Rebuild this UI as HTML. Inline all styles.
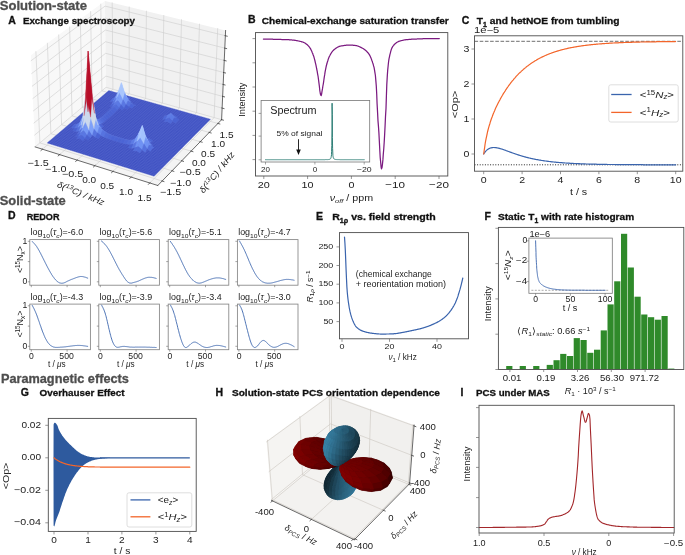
<!DOCTYPE html><html><head><meta charset="utf-8"><style>html,body{margin:0;padding:0;background:#fff;width:685px;height:555px;overflow:hidden;}svg{display:block;will-change:transform;}</style></head><body><svg width="685" height="555" viewBox="0 0 685 555"><path d="M35.1,146.9 L157.8,185.5 L221.6,119.7 L106,87.3Z" fill="#f4f4f4" stroke="none" stroke-width="0" />
<path d="M35.1,146.9 L106,87.3 L105,1 L30.9,55.3Z" fill="#f8f8f8" stroke="none" stroke-width="0" />
<path d="M106,87.3 L221.6,119.7 L225.6,30.4 L105,1Z" fill="#f1f1f1" stroke="none" stroke-width="0" />
<path d="M42.4,149.2 L112.9,89.3 L112.2,2.8" fill="none" stroke="#cdcdcd" stroke-width="0.6" stroke-linejoin="round" stroke-linecap="round" />
<path d="M59.6,154.6 L129.2,93.8 L129.2,6.9" fill="none" stroke="#cdcdcd" stroke-width="0.6" stroke-linejoin="round" stroke-linecap="round" />
<path d="M77.1,160.1 L145.7,98.5 L146.4,11.1" fill="none" stroke="#cdcdcd" stroke-width="0.6" stroke-linejoin="round" stroke-linecap="round" />
<path d="M94.9,165.7 L162.5,103.1 L163.8,15.4" fill="none" stroke="#cdcdcd" stroke-width="0.6" stroke-linejoin="round" stroke-linecap="round" />
<path d="M112.9,171.4 L179.4,107.9 L181.5,19.7" fill="none" stroke="#cdcdcd" stroke-width="0.6" stroke-linejoin="round" stroke-linecap="round" />
<path d="M131.2,177.1 L196.6,112.7 L199.5,24.1" fill="none" stroke="#cdcdcd" stroke-width="0.6" stroke-linejoin="round" stroke-linecap="round" />
<path d="M149.8,183 L214.1,117.6 L217.7,28.5" fill="none" stroke="#cdcdcd" stroke-width="0.6" stroke-linejoin="round" stroke-linecap="round" />
<path d="M162.1,181 L39.9,142.9 L35.9,51.6" fill="none" stroke="#cdcdcd" stroke-width="0.6" stroke-linejoin="round" stroke-linecap="round" />
<path d="M172.1,170.8 L50.9,133.7 L47.4,43.2" fill="none" stroke="#cdcdcd" stroke-width="0.6" stroke-linejoin="round" stroke-linecap="round" />
<path d="M181.7,160.8 L61.6,124.7 L58.7,34.9" fill="none" stroke="#cdcdcd" stroke-width="0.6" stroke-linejoin="round" stroke-linecap="round" />
<path d="M191.1,151.1 L72.1,115.9 L69.6,26.9" fill="none" stroke="#cdcdcd" stroke-width="0.6" stroke-linejoin="round" stroke-linecap="round" />
<path d="M200.3,141.7 L82.3,107.3 L80.3,19.1" fill="none" stroke="#cdcdcd" stroke-width="0.6" stroke-linejoin="round" stroke-linecap="round" />
<path d="M209.3,132.5 L92.2,98.9 L90.6,11.5" fill="none" stroke="#cdcdcd" stroke-width="0.6" stroke-linejoin="round" stroke-linecap="round" />
<path d="M218,123.5 L101.9,90.8 L100.8,4.1" fill="none" stroke="#cdcdcd" stroke-width="0.6" stroke-linejoin="round" stroke-linecap="round" />
<path d="M35.1,146.9 L106,87.3 L221.6,119.7" fill="none" stroke="#cdcdcd" stroke-width="0.6" stroke-linejoin="round" stroke-linecap="round" />
<path d="M34.6,135.1 L105.9,76.1 L222.1,108.1" fill="none" stroke="#cdcdcd" stroke-width="0.6" stroke-linejoin="round" stroke-linecap="round" />
<path d="M34,123 L105.8,64.8 L222.7,96.4" fill="none" stroke="#cdcdcd" stroke-width="0.6" stroke-linejoin="round" stroke-linecap="round" />
<path d="M33.4,110.9 L105.6,53.3 L223.2,84.5" fill="none" stroke="#cdcdcd" stroke-width="0.6" stroke-linejoin="round" stroke-linecap="round" />
<path d="M32.9,98.5 L105.5,41.7 L223.7,72.5" fill="none" stroke="#cdcdcd" stroke-width="0.6" stroke-linejoin="round" stroke-linecap="round" />
<path d="M32.3,86.1 L105.4,30 L224.2,60.4" fill="none" stroke="#cdcdcd" stroke-width="0.6" stroke-linejoin="round" stroke-linecap="round" />
<path d="M31.7,73.5 L105.2,18.1 L224.8,48.1" fill="none" stroke="#cdcdcd" stroke-width="0.6" stroke-linejoin="round" stroke-linecap="round" />
<path d="M31.1,60.7 L105.1,6.1 L225.3,35.7" fill="none" stroke="#cdcdcd" stroke-width="0.6" stroke-linejoin="round" stroke-linecap="round" />
<path d="M47.1,143 L154.1,176.3 L210.5,119.2 L108.8,90.6Z" fill="#3d4fc1" stroke="none" stroke-width="0" />
<line x1="47.1" y1="143" x2="108.8" y2="90.6" stroke="#5e6ed2" stroke-width="0.35" />
<line x1="47.1" y1="143" x2="154.1" y2="176.3" stroke="#5e6ed2" stroke-width="0.35" />
<line x1="49.2" y1="143.6" x2="110.8" y2="91.2" stroke="#5e6ed2" stroke-width="0.35" />
<line x1="48.4" y1="141.8" x2="155.4" y2="175" stroke="#5e6ed2" stroke-width="0.35" />
<line x1="51.3" y1="144.3" x2="112.8" y2="91.8" stroke="#5e6ed2" stroke-width="0.35" />
<line x1="49.8" y1="140.7" x2="156.6" y2="173.8" stroke="#5e6ed2" stroke-width="0.35" />
<line x1="53.4" y1="144.9" x2="114.8" y2="92.3" stroke="#5e6ed2" stroke-width="0.35" />
<line x1="51.1" y1="139.5" x2="157.9" y2="172.5" stroke="#5e6ed2" stroke-width="0.35" />
<line x1="55.5" y1="145.6" x2="116.8" y2="92.9" stroke="#5e6ed2" stroke-width="0.35" />
<line x1="52.5" y1="138.4" x2="159.1" y2="171.3" stroke="#5e6ed2" stroke-width="0.35" />
<line x1="57.6" y1="146.2" x2="118.8" y2="93.4" stroke="#5e6ed2" stroke-width="0.35" />
<line x1="53.8" y1="137.3" x2="160.3" y2="170" stroke="#5e6ed2" stroke-width="0.35" />
<line x1="59.7" y1="146.9" x2="120.8" y2="94" stroke="#5e6ed2" stroke-width="0.35" />
<line x1="55.2" y1="136.1" x2="161.5" y2="168.8" stroke="#5e6ed2" stroke-width="0.35" />
<line x1="61.8" y1="147.6" x2="122.9" y2="94.6" stroke="#5e6ed2" stroke-width="0.35" />
<line x1="56.5" y1="135" x2="162.7" y2="167.6" stroke="#5e6ed2" stroke-width="0.35" />
<line x1="63.9" y1="148.2" x2="124.9" y2="95.1" stroke="#5e6ed2" stroke-width="0.35" />
<line x1="57.8" y1="133.9" x2="164" y2="166.3" stroke="#5e6ed2" stroke-width="0.35" />
<line x1="66" y1="148.9" x2="126.9" y2="95.7" stroke="#5e6ed2" stroke-width="0.35" />
<line x1="59.1" y1="132.8" x2="165.2" y2="165.1" stroke="#5e6ed2" stroke-width="0.35" />
<line x1="68.2" y1="149.5" x2="128.9" y2="96.3" stroke="#5e6ed2" stroke-width="0.35" />
<line x1="60.5" y1="131.7" x2="166.4" y2="163.9" stroke="#5e6ed2" stroke-width="0.35" />
<line x1="70.3" y1="150.2" x2="130.9" y2="96.8" stroke="#5e6ed2" stroke-width="0.35" />
<line x1="61.8" y1="130.5" x2="167.6" y2="162.7" stroke="#5e6ed2" stroke-width="0.35" />
<line x1="72.4" y1="150.9" x2="133" y2="97.4" stroke="#5e6ed2" stroke-width="0.35" />
<line x1="63.1" y1="129.4" x2="168.8" y2="161.4" stroke="#5e6ed2" stroke-width="0.35" />
<line x1="74.6" y1="151.5" x2="135" y2="98" stroke="#5e6ed2" stroke-width="0.35" />
<line x1="64.4" y1="128.3" x2="170" y2="160.2" stroke="#5e6ed2" stroke-width="0.35" />
<line x1="76.7" y1="152.2" x2="137" y2="98.6" stroke="#5e6ed2" stroke-width="0.35" />
<line x1="65.7" y1="127.2" x2="171.2" y2="159" stroke="#5e6ed2" stroke-width="0.35" />
<line x1="78.8" y1="152.9" x2="139.1" y2="99.1" stroke="#5e6ed2" stroke-width="0.35" />
<line x1="67" y1="126.1" x2="172.3" y2="157.8" stroke="#5e6ed2" stroke-width="0.35" />
<line x1="81" y1="153.5" x2="141.1" y2="99.7" stroke="#5e6ed2" stroke-width="0.35" />
<line x1="68.3" y1="125" x2="173.5" y2="156.6" stroke="#5e6ed2" stroke-width="0.35" />
<line x1="83.1" y1="154.2" x2="143.2" y2="100.3" stroke="#5e6ed2" stroke-width="0.35" />
<line x1="69.6" y1="123.9" x2="174.7" y2="155.4" stroke="#5e6ed2" stroke-width="0.35" />
<line x1="85.3" y1="154.9" x2="145.2" y2="100.9" stroke="#5e6ed2" stroke-width="0.35" />
<line x1="70.9" y1="122.8" x2="175.9" y2="154.3" stroke="#5e6ed2" stroke-width="0.35" />
<line x1="87.5" y1="155.5" x2="147.3" y2="101.4" stroke="#5e6ed2" stroke-width="0.35" />
<line x1="72.1" y1="121.8" x2="177" y2="153.1" stroke="#5e6ed2" stroke-width="0.35" />
<line x1="89.6" y1="156.2" x2="149.3" y2="102" stroke="#5e6ed2" stroke-width="0.35" />
<line x1="73.4" y1="120.7" x2="178.2" y2="151.9" stroke="#5e6ed2" stroke-width="0.35" />
<line x1="91.8" y1="156.9" x2="151.4" y2="102.6" stroke="#5e6ed2" stroke-width="0.35" />
<line x1="74.7" y1="119.6" x2="179.4" y2="150.7" stroke="#5e6ed2" stroke-width="0.35" />
<line x1="94" y1="157.6" x2="153.4" y2="103.2" stroke="#5e6ed2" stroke-width="0.35" />
<line x1="76" y1="118.5" x2="180.5" y2="149.5" stroke="#5e6ed2" stroke-width="0.35" />
<line x1="96.1" y1="158.2" x2="155.5" y2="103.7" stroke="#5e6ed2" stroke-width="0.35" />
<line x1="77.2" y1="117.4" x2="181.7" y2="148.4" stroke="#5e6ed2" stroke-width="0.35" />
<line x1="98.3" y1="158.9" x2="157.6" y2="104.3" stroke="#5e6ed2" stroke-width="0.35" />
<line x1="78.5" y1="116.4" x2="182.8" y2="147.2" stroke="#5e6ed2" stroke-width="0.35" />
<line x1="100.5" y1="159.6" x2="159.6" y2="104.9" stroke="#5e6ed2" stroke-width="0.35" />
<line x1="79.7" y1="115.3" x2="184" y2="146" stroke="#5e6ed2" stroke-width="0.35" />
<line x1="102.7" y1="160.3" x2="161.7" y2="105.5" stroke="#5e6ed2" stroke-width="0.35" />
<line x1="81" y1="114.2" x2="185.1" y2="144.9" stroke="#5e6ed2" stroke-width="0.35" />
<line x1="104.9" y1="161" x2="163.8" y2="106.1" stroke="#5e6ed2" stroke-width="0.35" />
<line x1="82.2" y1="113.2" x2="186.3" y2="143.7" stroke="#5e6ed2" stroke-width="0.35" />
<line x1="107.1" y1="161.6" x2="165.9" y2="106.7" stroke="#5e6ed2" stroke-width="0.35" />
<line x1="83.5" y1="112.1" x2="187.4" y2="142.6" stroke="#5e6ed2" stroke-width="0.35" />
<line x1="109.3" y1="162.3" x2="168" y2="107.3" stroke="#5e6ed2" stroke-width="0.35" />
<line x1="84.7" y1="111.1" x2="188.5" y2="141.4" stroke="#5e6ed2" stroke-width="0.35" />
<line x1="111.5" y1="163" x2="170.1" y2="107.8" stroke="#5e6ed2" stroke-width="0.35" />
<line x1="86" y1="110" x2="189.7" y2="140.3" stroke="#5e6ed2" stroke-width="0.35" />
<line x1="113.7" y1="163.7" x2="172.2" y2="108.4" stroke="#5e6ed2" stroke-width="0.35" />
<line x1="87.2" y1="109" x2="190.8" y2="139.1" stroke="#5e6ed2" stroke-width="0.35" />
<line x1="115.9" y1="164.4" x2="174.3" y2="109" stroke="#5e6ed2" stroke-width="0.35" />
<line x1="88.4" y1="107.9" x2="191.9" y2="138" stroke="#5e6ed2" stroke-width="0.35" />
<line x1="118.1" y1="165.1" x2="176.4" y2="109.6" stroke="#5e6ed2" stroke-width="0.35" />
<line x1="89.7" y1="106.9" x2="193" y2="136.9" stroke="#5e6ed2" stroke-width="0.35" />
<line x1="120.3" y1="165.8" x2="178.5" y2="110.2" stroke="#5e6ed2" stroke-width="0.35" />
<line x1="90.9" y1="105.8" x2="194.2" y2="135.7" stroke="#5e6ed2" stroke-width="0.35" />
<line x1="122.6" y1="166.4" x2="180.6" y2="110.8" stroke="#5e6ed2" stroke-width="0.35" />
<line x1="92.1" y1="104.8" x2="195.3" y2="134.6" stroke="#5e6ed2" stroke-width="0.35" />
<line x1="124.8" y1="167.1" x2="182.7" y2="111.4" stroke="#5e6ed2" stroke-width="0.35" />
<line x1="93.3" y1="103.8" x2="196.4" y2="133.5" stroke="#5e6ed2" stroke-width="0.35" />
<line x1="127" y1="167.8" x2="184.8" y2="112" stroke="#5e6ed2" stroke-width="0.35" />
<line x1="94.6" y1="102.7" x2="197.5" y2="132.4" stroke="#5e6ed2" stroke-width="0.35" />
<line x1="129.3" y1="168.5" x2="186.9" y2="112.6" stroke="#5e6ed2" stroke-width="0.35" />
<line x1="95.8" y1="101.7" x2="198.6" y2="131.2" stroke="#5e6ed2" stroke-width="0.35" />
<line x1="131.5" y1="169.2" x2="189" y2="113.2" stroke="#5e6ed2" stroke-width="0.35" />
<line x1="97" y1="100.7" x2="199.7" y2="130.1" stroke="#5e6ed2" stroke-width="0.35" />
<line x1="133.8" y1="169.9" x2="191.2" y2="113.8" stroke="#5e6ed2" stroke-width="0.35" />
<line x1="98.2" y1="99.7" x2="200.8" y2="129" stroke="#5e6ed2" stroke-width="0.35" />
<line x1="136" y1="170.6" x2="193.3" y2="114.4" stroke="#5e6ed2" stroke-width="0.35" />
<line x1="99.4" y1="98.7" x2="201.9" y2="127.9" stroke="#5e6ed2" stroke-width="0.35" />
<line x1="138.3" y1="171.3" x2="195.4" y2="115" stroke="#5e6ed2" stroke-width="0.35" />
<line x1="100.6" y1="97.6" x2="203" y2="126.8" stroke="#5e6ed2" stroke-width="0.35" />
<line x1="140.5" y1="172" x2="197.6" y2="115.6" stroke="#5e6ed2" stroke-width="0.35" />
<line x1="101.8" y1="96.6" x2="204" y2="125.7" stroke="#5e6ed2" stroke-width="0.35" />
<line x1="142.8" y1="172.7" x2="199.7" y2="116.2" stroke="#5e6ed2" stroke-width="0.35" />
<line x1="102.9" y1="95.6" x2="205.1" y2="124.6" stroke="#5e6ed2" stroke-width="0.35" />
<line x1="145" y1="173.4" x2="201.9" y2="116.8" stroke="#5e6ed2" stroke-width="0.35" />
<line x1="104.1" y1="94.6" x2="206.2" y2="123.5" stroke="#5e6ed2" stroke-width="0.35" />
<line x1="147.3" y1="174.1" x2="204" y2="117.4" stroke="#5e6ed2" stroke-width="0.35" />
<line x1="105.3" y1="93.6" x2="207.3" y2="122.4" stroke="#5e6ed2" stroke-width="0.35" />
<line x1="149.6" y1="174.8" x2="206.2" y2="118" stroke="#5e6ed2" stroke-width="0.35" />
<line x1="106.5" y1="92.6" x2="208.3" y2="121.4" stroke="#5e6ed2" stroke-width="0.35" />
<line x1="151.9" y1="175.6" x2="208.3" y2="118.6" stroke="#5e6ed2" stroke-width="0.35" />
<line x1="107.7" y1="91.6" x2="209.4" y2="120.3" stroke="#5e6ed2" stroke-width="0.35" />
<line x1="154.1" y1="176.3" x2="210.5" y2="119.2" stroke="#5e6ed2" stroke-width="0.35" />
<line x1="108.8" y1="90.6" x2="210.5" y2="119.2" stroke="#5e6ed2" stroke-width="0.35" />
<path d="M121.9,97.3 L125,96 L126.8,97 L123.7,97.2Z" fill="#516ddb" stroke="#637bdf" stroke-width="0.3" />
<path d="M117,98 L120.1,95 L121.9,97.3 L118.8,98.2Z" fill="#5572df" stroke="#6680e2" stroke-width="0.3" />
<path d="M125,96 L128.2,99.1 L129.9,99 L126.8,97Z" fill="#516ddb" stroke="#637bdf" stroke-width="0.3" />
<path d="M112.1,99.1 L115.2,97.5 L117,98 L113.9,98.6Z" fill="#516ddb" stroke="#637bdf" stroke-width="0.3" />
<path d="M120.1,95 L123.2,90.7 L125,96 L121.9,97.3Z" fill="#6f92f3" stroke="#7e9cf4" stroke-width="0.3" />
<path d="M110.3,101.7 L113.4,101.1 L115.2,97.5 L112.1,99.1Z" fill="#516ddb" stroke="#637bdf" stroke-width="0.3" />
<path d="M115.2,97.5 L118.3,91.5 L120.1,95 L117,98Z" fill="#6f92f3" stroke="#7e9cf4" stroke-width="0.3" />
<path d="M126.4,96.6 L129.5,101.5 L131.3,101.7 L128.2,99.1Z" fill="#5572df" stroke="#6680e2" stroke-width="0.3" />
<path d="M123.2,90.7 L126.4,96.6 L128.2,99.1 L125,96Z" fill="#6f92f3" stroke="#7e9cf4" stroke-width="0.3" />
<path d="M113.4,101.1 L116.5,97.6 L118.3,91.5 L115.2,97.5Z" fill="#6f92f3" stroke="#7e9cf4" stroke-width="0.3" />
<path d="M111.6,104.4 L114.7,102.9 L116.5,97.6 L113.4,101.1Z" fill="#5875e1" stroke="#6883e4" stroke-width="0.3" />
<path d="M127.7,100.3 L130.9,103.7 L132.7,103.9 L129.5,101.5Z" fill="#5572df" stroke="#6680e2" stroke-width="0.3" />
<path d="M124.6,92.6 L127.7,100.3 L129.5,101.5 L126.4,96.6Z" fill="#7295f4" stroke="#809ff5" stroke-width="0.3" />
<path d="M130.9,103.7 L134,105.7 L135.8,105.4 L132.7,103.9Z" fill="#4a63d3" stroke="#5c72d8" stroke-width="0.3" />
<path d="M118.3,91.5 L121.4,82.8 L123.2,90.7 L120.1,95Z" fill="#a3c2fe" stroke="#adc8ff" stroke-width="0.3" />
<path d="M109.8,106.6 L112.9,106 L114.7,102.9 L111.6,104.4Z" fill="#4a63d3" stroke="#5c72d8" stroke-width="0.3" />
<path d="M121.4,82.8 L124.6,92.6 L126.4,96.6 L123.2,90.7Z" fill="#a5c3fe" stroke="#aec9fe" stroke-width="0.3" />
<path d="M125.9,104.5 L129.1,106.8 L130.9,103.7 L127.7,100.3Z" fill="#5572df" stroke="#6680e2" stroke-width="0.3" />
<path d="M114.7,102.9 L117.8,100.4 L119.6,92.6 L116.5,97.6Z" fill="#779af7" stroke="#85a4f8" stroke-width="0.3" />
<path d="M122.8,99.3 L125.9,104.5 L127.7,100.3 L124.6,92.6Z" fill="#7396f5" stroke="#81a0f6" stroke-width="0.3" />
<path d="M129.1,106.8 L132.3,108.3 L134,105.7 L130.9,103.7Z" fill="#4b64d5" stroke="#5d74d9" stroke-width="0.3" />
<path d="M116.5,97.6 L119.6,92.6 L121.4,82.8 L118.3,91.5Z" fill="#a7c5fe" stroke="#b0cbfe" stroke-width="0.3" />
<path d="M112.9,106 L116,104.4 L117.8,100.4 L114.7,102.9Z" fill="#5b7ae5" stroke="#6c87e7" stroke-width="0.3" />
<path d="M121,104.7 L124.1,108 L125.9,104.5 L122.8,99.3Z" fill="#5977e3" stroke="#6984e5" stroke-width="0.3" />
<path d="M124.1,108 L127.3,109.6 L129.1,106.8 L125.9,104.5Z" fill="#485fd1" stroke="#5a6fd5" stroke-width="0.3" />
<path d="M117.8,100.4 L121,104.7 L122.8,99.3 L119.6,92.6Z" fill="#799cf8" stroke="#86a6f8" stroke-width="0.3" />
<path d="M119.6,92.6 L122.8,99.3 L124.6,92.6 L121.4,82.8Z" fill="#a9c6fd" stroke="#b1cbfe" stroke-width="0.3" />
<path d="M116,104.4 L119.2,107.8 L121,104.7 L117.8,100.4Z" fill="#5b7ae5" stroke="#6c87e7" stroke-width="0.3" />
<path d="M119.2,107.8 L122.3,110.2 L124.1,108 L121,104.7Z" fill="#4a63d3" stroke="#5c72d8" stroke-width="0.3" />
<path d="M111.1,108.2 L114.2,107.1 L116,104.4 L112.9,106Z" fill="#516ddb" stroke="#637bdf" stroke-width="0.3" />
<path d="M114.2,107.1 L117.3,110 L119.2,107.8 L116,104.4Z" fill="#516ddb" stroke="#637bdf" stroke-width="0.3" />
<path d="M109.2,110.1 L112.3,109.2 L114.2,107.1 L111.1,108.2Z" fill="#4c66d6" stroke="#5e75da" stroke-width="0.3" />
<path d="M112.3,109.2 L115.5,111.9 L117.3,110 L114.2,107.1Z" fill="#4c66d6" stroke="#5e75da" stroke-width="0.3" />
<path d="M107.4,111.9 L110.5,111 L112.3,109.2 L109.2,110.1Z" fill="#4b64d5" stroke="#5d74d9" stroke-width="0.3" />
<path d="M110.5,111 L113.7,113.7 L115.5,111.9 L112.3,109.2Z" fill="#4b64d5" stroke="#5d74d9" stroke-width="0.3" />
<path d="M105.5,113.5 L108.6,112.7 L110.5,111 L107.4,111.9Z" fill="#4a63d3" stroke="#5c72d8" stroke-width="0.3" />
<path d="M108.6,112.7 L111.8,115.4 L113.7,113.7 L110.5,111Z" fill="#4a63d3" stroke="#5c72d8" stroke-width="0.3" />
<path d="M103.6,115.2 L106.8,114.3 L108.6,112.7 L105.5,113.5Z" fill="#4a63d3" stroke="#5c72d8" stroke-width="0.3" />
<path d="M106.8,114.3 L110,117 L111.8,115.4 L108.6,112.7Z" fill="#4a63d3" stroke="#5c72d8" stroke-width="0.3" />
<path d="M101.8,116.7 L104.9,115.8 L106.8,114.3 L103.6,115.2Z" fill="#4a63d3" stroke="#5c72d8" stroke-width="0.3" />
<path d="M169.3,115.6 L172.6,115.2 L174.3,115.7 L171,115.4Z" fill="#4a63d3" stroke="#5c72d8" stroke-width="0.3" />
<path d="M164.4,116.3 L167.6,115.3 L169.3,115.6 L166.1,115.8Z" fill="#4e68d8" stroke="#5f77db" stroke-width="0.3" />
<path d="M104.9,115.8 L108.1,118.6 L110,117 L106.8,114.3Z" fill="#4a63d3" stroke="#5c72d8" stroke-width="0.3" />
<path d="M172.6,115.2 L175.9,117.7 L177.5,117.2 L174.3,115.7Z" fill="#4a63d3" stroke="#5c72d8" stroke-width="0.3" />
<path d="M99.9,118.3 L103,117.2 L104.9,115.8 L101.8,116.7Z" fill="#4b64d5" stroke="#5d74d9" stroke-width="0.3" />
<path d="M167.6,115.3 L171,113.4 L172.6,115.2 L169.3,115.6Z" fill="#5b7ae5" stroke="#6c87e7" stroke-width="0.3" />
<path d="M162.6,119.4 L165.9,119 L167.6,115.3 L164.4,116.3Z" fill="#4e68d8" stroke="#5f77db" stroke-width="0.3" />
<path d="M103,117.2 L106.2,120.1 L108.1,118.6 L104.9,115.8Z" fill="#4b64d5" stroke="#5d74d9" stroke-width="0.3" />
<path d="M171,113.4 L174.2,117.8 L175.9,117.7 L172.6,115.2Z" fill="#5a78e4" stroke="#6b86e6" stroke-width="0.3" />
<path d="M98,119.7 L101.1,118.4 L103,117.2 L99.9,118.3Z" fill="#4c66d6" stroke="#5e75da" stroke-width="0.3" />
<path d="M174.2,117.8 L177.4,120.9 L179.1,119.8 L175.9,117.7Z" fill="#4a63d3" stroke="#5c72d8" stroke-width="0.3" />
<path d="M165.9,119 L169.2,117.8 L171,113.4 L167.6,115.3Z" fill="#5d7ce6" stroke="#6d89e8" stroke-width="0.3" />
<path d="M101.1,118.4 L104.3,121.6 L106.2,120.1 L103,117.2Z" fill="#4c66d6" stroke="#5e75da" stroke-width="0.3" />
<path d="M169.2,117.8 L172.4,120.9 L174.2,117.8 L171,113.4Z" fill="#5b7ae5" stroke="#6c87e7" stroke-width="0.3" />
<path d="M164.1,121.9 L167.4,121.5 L169.2,117.8 L165.9,119Z" fill="#4e68d8" stroke="#5f77db" stroke-width="0.3" />
<path d="M172.4,120.9 L175.7,123.2 L177.4,120.9 L174.2,117.8Z" fill="#4a63d3" stroke="#5c72d8" stroke-width="0.3" />
<path d="M96.1,121 L99.2,119.3 L101.1,118.4 L98,119.7Z" fill="#506bda" stroke="#627ade" stroke-width="0.3" />
<path d="M167.4,121.5 L170.7,123.8 L172.4,120.9 L169.2,117.8Z" fill="#4e68d8" stroke="#5f77db" stroke-width="0.3" />
<path d="M99.2,119.3 L102.4,122.9 L104.3,121.6 L101.1,118.4Z" fill="#506bda" stroke="#627ade" stroke-width="0.3" />
<path d="M94.1,121.9 L97.3,119.6 L99.2,119.3 L96.1,121Z" fill="#5673e0" stroke="#6781e3" stroke-width="0.3" />
<path d="M89,123.9 L92.2,122.2 L94.1,121.9 L91,122.8Z" fill="#4b64d5" stroke="#5d74d9" stroke-width="0.3" />
<path d="M97.3,119.6 L100.5,123.8 L102.4,122.9 L99.2,119.3Z" fill="#5673e0" stroke="#6781e3" stroke-width="0.3" />
<path d="M78.8,124.8 L81.9,124.3 L83.9,124.7 L80.8,124.3Z" fill="#4961d2" stroke="#5b71d6" stroke-width="0.3" />
<path d="M92.2,122.2 L95.3,118.4 L97.3,119.6 L94.1,121.9Z" fill="#6384eb" stroke="#7390ed" stroke-width="0.3" />
<path d="M87.1,124.2 L90.2,120.5 L92.2,122.2 L89,123.9Z" fill="#5875e1" stroke="#6883e4" stroke-width="0.3" />
<path d="M73.6,124.9 L76.8,124.4 L78.8,124.8 L75.6,124.6Z" fill="#4c66d6" stroke="#5e75da" stroke-width="0.3" />
<path d="M98.6,124.1 L101.8,127.7 L103.8,126.6 L100.5,123.8Z" fill="#4b64d5" stroke="#5d74d9" stroke-width="0.3" />
<path d="M81.9,124.3 L85,121.9 L87.1,124.2 L83.9,124.7Z" fill="#5572df" stroke="#6680e2" stroke-width="0.3" />
<path d="M95.3,118.4 L98.6,124.1 L100.5,123.8 L97.3,119.6Z" fill="#6384eb" stroke="#7390ed" stroke-width="0.3" />
<path d="M76.8,124.4 L79.9,122.5 L81.9,124.3 L78.8,124.8Z" fill="#5977e3" stroke="#6984e5" stroke-width="0.3" />
<path d="M71.7,128 L74.8,128.2 L76.8,124.4 L73.6,124.9Z" fill="#4c66d6" stroke="#5e75da" stroke-width="0.3" />
<path d="M90.2,120.5 L93.2,113.1 L95.3,118.4 L92.2,122.2Z" fill="#80a3fa" stroke="#8cacfb" stroke-width="0.3" />
<path d="M96.6,122.4 L99.9,128 L101.8,127.7 L98.6,124.1Z" fill="#5875e1" stroke="#6883e4" stroke-width="0.3" />
<path d="M74.8,128.2 L78,127.7 L79.9,122.5 L76.8,124.4Z" fill="#5977e3" stroke="#6984e5" stroke-width="0.3" />
<path d="M85,121.9 L88,111.9 L90.2,120.5 L87.1,124.2Z" fill="#7da0f9" stroke="#8aaafa" stroke-width="0.3" />
<path d="M93.2,113.1 L96.6,122.4 L98.6,124.1 L95.3,118.4Z" fill="#80a3fa" stroke="#8cacfb" stroke-width="0.3" />
<path d="M79.9,122.5 L82.9,116.4 L85,121.9 L81.9,124.3Z" fill="#7699f6" stroke="#84a3f7" stroke-width="0.3" />
<path d="M72.9,131.1 L76.1,131.5 L78,127.7 L74.8,128.2Z" fill="#4961d2" stroke="#5b71d6" stroke-width="0.3" />
<path d="M78,127.7 L81.1,125.3 L82.9,116.4 L79.9,122.5Z" fill="#7699f6" stroke="#84a3f7" stroke-width="0.3" />
<path d="M97.9,125 L101.2,129.4 L103.1,130.4 L99.9,128Z" fill="#5875e1" stroke="#6883e4" stroke-width="0.3" />
<path d="M76.1,131.5 L79.2,131 L81.1,125.3 L78,127.7Z" fill="#5572df" stroke="#6680e2" stroke-width="0.3" />
<path d="M101.2,129.4 L104.4,131.8 L106.4,131.9 L103.1,130.4Z" fill="#4b64d5" stroke="#5d74d9" stroke-width="0.3" />
<path d="M94.5,113.3 L97.9,125 L99.9,128 L96.6,122.4Z" fill="#80a3fa" stroke="#8cacfb" stroke-width="0.3" />
<path d="M88,111.9 L90.9,92.5 L93.2,113.1 L90.2,120.5Z" fill="#d2dbe8" stroke="#d6deeb" stroke-width="0.3" />
<path d="M79.2,131 L82.4,127.9 L84.1,115.7 L81.1,125.3Z" fill="#7b9ff9" stroke="#89a8f9" stroke-width="0.3" />
<path d="M77.3,134.2 L80.5,133.1 L82.4,127.9 L79.2,131Z" fill="#5572df" stroke="#6680e2" stroke-width="0.3" />
<path d="M82.9,116.4 L85.7,94.5 L88,111.9 L85,121.9Z" fill="#ccd9ed" stroke="#d1ddef" stroke-width="0.3" />
<path d="M99.2,126.3 L102.5,130.1 L104.4,131.8 L101.2,129.4Z" fill="#6384eb" stroke="#7390ed" stroke-width="0.3" />
<path d="M95.8,118.3 L99.2,126.3 L101.2,129.4 L97.9,125Z" fill="#80a3fa" stroke="#8cacfb" stroke-width="0.3" />
<path d="M90.9,92.5 L94.5,113.3 L96.6,122.4 L93.2,113.1Z" fill="#d3dbe7" stroke="#d7deea" stroke-width="0.3" />
<path d="M102.5,130.1 L105.8,132.5 L107.7,133.5 L104.4,131.8Z" fill="#5673e0" stroke="#6781e3" stroke-width="0.3" />
<path d="M75.3,136.5 L78.5,136.3 L80.5,133.1 L77.3,134.2Z" fill="#4961d2" stroke="#5b71d6" stroke-width="0.3" />
<path d="M105.8,132.5 L109,134.3 L111,134.8 L107.7,133.5Z" fill="#506bda" stroke="#627ade" stroke-width="0.3" />
<path d="M81.1,125.3 L84.1,115.7 L85.7,94.5 L82.9,116.4Z" fill="#cbd8ee" stroke="#d0dcf0" stroke-width="0.3" />
<path d="M97.3,132.8 L100.6,135.2 L102.5,130.1 L99.2,126.3Z" fill="#6384eb" stroke="#7390ed" stroke-width="0.3" />
<path d="M109,134.3 L112.3,135.7 L114.2,136 L111,134.8Z" fill="#4e68d8" stroke="#5f77db" stroke-width="0.3" />
<path d="M92.1,134.9 L95.4,137.3 L97.3,132.8 L94,128.5Z" fill="#5875e1" stroke="#6883e4" stroke-width="0.3" />
<path d="M94,128.5 L97.3,132.8 L99.2,126.3 L95.8,118.3Z" fill="#80a3fa" stroke="#8cacfb" stroke-width="0.3" />
<path d="M80.5,133.1 L83.6,130.5 L85.4,121.7 L82.4,127.9Z" fill="#7699f6" stroke="#84a3f7" stroke-width="0.3" />
<path d="M100.6,135.2 L103.9,136.9 L105.8,132.5 L102.5,130.1Z" fill="#5673e0" stroke="#6781e3" stroke-width="0.3" />
<path d="M95.4,137.3 L98.7,138.8 L100.6,135.2 L97.3,132.8Z" fill="#4b64d5" stroke="#5d74d9" stroke-width="0.3" />
<path d="M78.5,136.3 L81.7,135.1 L83.6,130.5 L80.5,133.1Z" fill="#5977e3" stroke="#6984e5" stroke-width="0.3" />
<path d="M86.9,135 L90.2,138.1 L92.1,134.9 L88.8,129.8Z" fill="#5572df" stroke="#6680e2" stroke-width="0.3" />
<path d="M88.8,129.8 L92.1,134.9 L94,128.5 L90.6,117.2Z" fill="#7da0f9" stroke="#8aaafa" stroke-width="0.3" />
<path d="M112.3,135.7 L115.6,136.9 L117.5,137.1 L114.2,136Z" fill="#4b64d5" stroke="#5d74d9" stroke-width="0.3" />
<path d="M103.9,136.9 L107.1,138.3 L109,134.3 L105.8,132.5Z" fill="#506bda" stroke="#627ade" stroke-width="0.3" />
<path d="M92.2,95.1 L95.8,118.3 L97.9,125 L94.5,113.3Z" fill="#d3dbe7" stroke="#d7deea" stroke-width="0.3" />
<path d="M83.6,130.5 L86.9,135 L88.8,129.8 L85.4,121.7Z" fill="#7699f6" stroke="#84a3f7" stroke-width="0.3" />
<path d="M81.7,135.1 L85,138.2 L86.9,135 L83.6,130.5Z" fill="#5977e3" stroke="#6984e5" stroke-width="0.3" />
<path d="M107.1,138.3 L110.4,139.5 L112.3,135.7 L109,134.3Z" fill="#4e68d8" stroke="#5f77db" stroke-width="0.3" />
<path d="M76.5,138.7 L79.7,138.3 L81.7,135.1 L78.5,136.3Z" fill="#4c66d6" stroke="#5e75da" stroke-width="0.3" />
<path d="M85,138.2 L88.2,140.4 L90.2,138.1 L86.9,135Z" fill="#4961d2" stroke="#5b71d6" stroke-width="0.3" />
<path d="M115.6,136.9 L118.9,138 L120.8,138.1 L117.5,137.1Z" fill="#4b64d5" stroke="#5d74d9" stroke-width="0.3" />
<path d="M82.4,127.9 L85.4,121.7 L86.9,97.1 L84.1,115.7Z" fill="#cbd8ee" stroke="#d0dcf0" stroke-width="0.3" />
<path d="M110.4,139.5 L113.7,140.6 L115.6,136.9 L112.3,135.7Z" fill="#4b64d5" stroke="#5d74d9" stroke-width="0.3" />
<path d="M79.7,138.3 L83,140.7 L85,138.2 L81.7,135.1Z" fill="#4c66d6" stroke="#5e75da" stroke-width="0.3" />
<path d="M118.9,138 L122.2,138.9 L124.1,139.1 L120.8,138.1Z" fill="#4a63d3" stroke="#5c72d8" stroke-width="0.3" />
<path d="M90.6,117.2 L94,128.5 L95.8,118.3 L92.2,95.1Z" fill="#d2dbe8" stroke="#d6deeb" stroke-width="0.3" />
<path d="M85.4,121.7 L88.8,129.8 L90.6,117.2 L86.9,97.1Z" fill="#ccd9ed" stroke="#d1ddef" stroke-width="0.3" />
<path d="M144.4,140.1 L147.7,139.2 L149.6,138.6 L146.2,139Z" fill="#4a63d3" stroke="#5c72d8" stroke-width="0.3" />
<path d="M113.7,140.6 L117,141.6 L118.9,138 L115.6,136.9Z" fill="#4b64d5" stroke="#5d74d9" stroke-width="0.3" />
<path d="M122.2,138.9 L125.5,139.7 L127.4,139.9 L124.1,139.1Z" fill="#4b64d5" stroke="#5d74d9" stroke-width="0.3" />
<path d="M147.7,139.2 L151.1,142.1 L152.9,141 L149.6,138.6Z" fill="#4a63d3" stroke="#5c72d8" stroke-width="0.3" />
<path d="M117,141.6 L120.3,142.6 L122.2,138.9 L118.9,138Z" fill="#4a63d3" stroke="#5c72d8" stroke-width="0.3" />
<path d="M125.5,139.7 L128.8,140.3 L130.7,140.6 L127.4,139.9Z" fill="#4e68d8" stroke="#5f77db" stroke-width="0.3" />
<path d="M134,141 L137.3,140.5 L139.2,141.1 L135.9,140.8Z" fill="#4a63d3" stroke="#5c72d8" stroke-width="0.3" />
<path d="M120.3,142.6 L123.6,143.4 L125.5,139.7 L122.2,138.9Z" fill="#4b64d5" stroke="#5d74d9" stroke-width="0.3" />
<path d="M142.5,140.3 L145.9,138.4 L147.7,139.2 L144.4,140.1Z" fill="#5572df" stroke="#6680e2" stroke-width="0.3" />
<path d="M128.8,140.3 L132.1,140.2 L134,141 L130.7,140.6Z" fill="#516ddb" stroke="#637bdf" stroke-width="0.3" />
<path d="M137.3,140.5 L140.7,137.5 L142.5,140.3 L139.2,141.1Z" fill="#5875e1" stroke="#6883e4" stroke-width="0.3" />
<path d="M123.6,143.4 L126.9,144.1 L128.8,140.3 L125.5,139.7Z" fill="#4e68d8" stroke="#5f77db" stroke-width="0.3" />
<path d="M145.9,138.4 L149.2,142.3 L151.1,142.1 L147.7,139.2Z" fill="#5572df" stroke="#6680e2" stroke-width="0.3" />
<path d="M85.7,94.5 L88.1,51.1 L90.9,92.5 L88,111.9Z" fill="#b70d28" stroke="#be253e" stroke-width="0.3" />
<path d="M132.1,140.2 L135.5,138.7 L137.3,140.5 L134,141Z" fill="#5d7ce6" stroke="#6d89e8" stroke-width="0.3" />
<path d="M126.9,144.1 L130.2,144.5 L132.1,140.2 L128.8,140.3Z" fill="#516ddb" stroke="#637bdf" stroke-width="0.3" />
<path d="M88.1,51.1 L92.2,95.1 L94.5,113.3 L90.9,92.5Z" fill="#b40426" stroke="#bb1d3c" stroke-width="0.3" />
<path d="M84.1,115.7 L86.9,97.1 L88.1,51.1 L85.7,94.5Z" fill="#ba162b" stroke="#c12d40" stroke-width="0.3" />
<path d="M140.7,137.5 L144.1,133.1 L145.9,138.4 L142.5,140.3Z" fill="#7396f5" stroke="#81a0f6" stroke-width="0.3" />
<path d="M130.2,144.5 L133.6,144 L135.5,138.7 L132.1,140.2Z" fill="#5d7ce6" stroke="#6d89e8" stroke-width="0.3" />
<path d="M147.4,140 L150.8,145.2 L152.6,145.2 L149.2,142.3Z" fill="#5673e0" stroke="#6781e3" stroke-width="0.3" />
<path d="M144.1,133.1 L147.4,140 L149.2,142.3 L145.9,138.4Z" fill="#7295f4" stroke="#809ff5" stroke-width="0.3" />
<path d="M135.5,138.7 L138.9,133.2 L140.7,137.5 L137.3,140.5Z" fill="#799cf8" stroke="#86a6f8" stroke-width="0.3" />
<path d="M86.9,97.1 L90.6,117.2 L92.2,95.1 L88.1,51.1Z" fill="#b70d28" stroke="#be253e" stroke-width="0.3" />
<path d="M128.4,147.9 L131.7,148.3 L133.6,144 L130.2,144.5Z" fill="#4a63d3" stroke="#5c72d8" stroke-width="0.3" />
<path d="M133.6,144 L137,141.2 L138.9,133.2 L135.5,138.7Z" fill="#779af7" stroke="#85a4f8" stroke-width="0.3" />
<path d="M131.7,148.3 L135.1,147.5 L137,141.2 L133.6,144Z" fill="#5875e1" stroke="#6883e4" stroke-width="0.3" />
<path d="M148.9,144.7 L152.3,148.3 L154.1,147.7 L150.8,145.2Z" fill="#536edd" stroke="#647de0" stroke-width="0.3" />
<path d="M145.6,136.5 L148.9,144.7 L150.8,145.2 L147.4,140Z" fill="#6f92f3" stroke="#7e9cf4" stroke-width="0.3" />
<path d="M138.9,133.2 L142.3,125.6 L144.1,133.1 L140.7,137.5Z" fill="#a9c6fd" stroke="#b1cbfe" stroke-width="0.3" />
<path d="M142.3,125.6 L145.6,136.5 L147.4,140 L144.1,133.1Z" fill="#a6c4fe" stroke="#afcafe" stroke-width="0.3" />
<path d="M147,148.8 L150.4,151.3 L152.3,148.3 L148.9,144.7Z" fill="#536edd" stroke="#647de0" stroke-width="0.3" />
<path d="M135.1,147.5 L138.4,146.4 L140.3,137.4 L137,141.2Z" fill="#6f92f3" stroke="#7e9cf4" stroke-width="0.3" />
<path d="M143.7,143.6 L147,148.8 L148.9,144.7 L145.6,136.5Z" fill="#6f92f3" stroke="#7e9cf4" stroke-width="0.3" />
<path d="M133.2,150.9 L136.5,150.8 L138.4,146.4 L135.1,147.5Z" fill="#516ddb" stroke="#637bdf" stroke-width="0.3" />
<path d="M137,141.2 L140.3,137.4 L142.3,125.6 L138.9,133.2Z" fill="#a7c5fe" stroke="#b0cbfe" stroke-width="0.3" />
<path d="M141.8,149.6 L145.2,152.4 L147,148.8 L143.7,143.6Z" fill="#5572df" stroke="#6680e2" stroke-width="0.3" />
<path d="M138.4,146.4 L141.8,149.6 L143.7,143.6 L140.3,137.4Z" fill="#6f92f3" stroke="#7e9cf4" stroke-width="0.3" />
<path d="M136.5,150.8 L139.9,153 L141.8,149.6 L138.4,146.4Z" fill="#516ddb" stroke="#637bdf" stroke-width="0.3" />
<path d="M140.3,137.4 L143.7,143.6 L145.6,136.5 L142.3,125.6Z" fill="#a3c2fe" stroke="#adc8ff" stroke-width="0.3" />
<path d="M35.1,146.9 L157.8,185.5" fill="none" stroke="#3a3a3a" stroke-width="0.75" stroke-linejoin="round" stroke-linecap="round" />
<path d="M157.8,185.5 L221.6,119.7" fill="none" stroke="#3a3a3a" stroke-width="0.75" stroke-linejoin="round" stroke-linecap="round" />
<path d="M221.6,119.7 L225.6,30.4" fill="none" stroke="#3a3a3a" stroke-width="0.75" stroke-linejoin="round" stroke-linecap="round" />
<line x1="42.9" y1="148.8" x2="40.6" y2="150.8" stroke="#3a3a3a" stroke-width="0.75" />
<line x1="60.2" y1="154.2" x2="57.8" y2="156.2" stroke="#3a3a3a" stroke-width="0.75" />
<line x1="77.7" y1="159.7" x2="75.3" y2="161.7" stroke="#3a3a3a" stroke-width="0.75" />
<line x1="95.4" y1="165.2" x2="93.1" y2="167.3" stroke="#3a3a3a" stroke-width="0.75" />
<line x1="113.4" y1="170.9" x2="111.2" y2="173" stroke="#3a3a3a" stroke-width="0.75" />
<line x1="131.7" y1="176.6" x2="129.5" y2="178.8" stroke="#3a3a3a" stroke-width="0.75" />
<line x1="150.3" y1="182.4" x2="148.1" y2="184.7" stroke="#3a3a3a" stroke-width="0.75" />
<line x1="161.4" y1="180.8" x2="164.4" y2="181.7" stroke="#3a3a3a" stroke-width="0.75" />
<line x1="171.4" y1="170.6" x2="174.3" y2="171.5" stroke="#3a3a3a" stroke-width="0.75" />
<line x1="181" y1="160.6" x2="184" y2="161.5" stroke="#3a3a3a" stroke-width="0.75" />
<line x1="190.4" y1="150.9" x2="193.4" y2="151.8" stroke="#3a3a3a" stroke-width="0.75" />
<line x1="199.6" y1="141.5" x2="202.6" y2="142.3" stroke="#3a3a3a" stroke-width="0.75" />
<line x1="208.6" y1="132.3" x2="211.6" y2="133.1" stroke="#3a3a3a" stroke-width="0.75" />
<line x1="217.3" y1="123.3" x2="220.3" y2="124.1" stroke="#3a3a3a" stroke-width="0.75" />
<line x1="220.9" y1="119.5" x2="223.9" y2="120.3" stroke="#3a3a3a" stroke-width="0.75" />
<line x1="221.4" y1="107.9" x2="224.5" y2="108.7" stroke="#3a3a3a" stroke-width="0.75" />
<line x1="222" y1="96.2" x2="225" y2="97" stroke="#3a3a3a" stroke-width="0.75" />
<line x1="222.5" y1="84.3" x2="225.5" y2="85.1" stroke="#3a3a3a" stroke-width="0.75" />
<line x1="223" y1="72.4" x2="226" y2="73.1" stroke="#3a3a3a" stroke-width="0.75" />
<line x1="223.5" y1="60.2" x2="226.6" y2="61" stroke="#3a3a3a" stroke-width="0.75" />
<line x1="224.1" y1="48" x2="227.1" y2="48.7" stroke="#3a3a3a" stroke-width="0.75" />
<line x1="224.6" y1="35.6" x2="227.7" y2="36.3" stroke="#3a3a3a" stroke-width="0.75" />
<text x="38.1" y="166.4" text-anchor="middle" fill="#222" style="font-family:'Liberation Sans';font-size:9.02px;" textLength="21.4" lengthAdjust="spacingAndGlyphs" >−1.5</text>
<text x="55.8" y="171.7" text-anchor="middle" fill="#222" style="font-family:'Liberation Sans';font-size:9.02px;" textLength="21.4" lengthAdjust="spacingAndGlyphs" >−1.0</text>
<text x="72.6" y="177.4" text-anchor="middle" fill="#222" style="font-family:'Liberation Sans';font-size:9.02px;" textLength="21.4" lengthAdjust="spacingAndGlyphs" >−0.5</text>
<text x="89.2" y="182.9" text-anchor="middle" fill="#222" style="font-family:'Liberation Sans';font-size:9.02px;" textLength="14" lengthAdjust="spacingAndGlyphs" >0.0</text>
<text x="107.2" y="189.2" text-anchor="middle" fill="#222" style="font-family:'Liberation Sans';font-size:9.02px;" textLength="14" lengthAdjust="spacingAndGlyphs" >0.5</text>
<text x="126" y="195.4" text-anchor="middle" fill="#222" style="font-family:'Liberation Sans';font-size:9.02px;" textLength="14" lengthAdjust="spacingAndGlyphs" >1.0</text>
<text x="144.5" y="201.4" text-anchor="middle" fill="#222" style="font-family:'Liberation Sans';font-size:9.02px;" textLength="14" lengthAdjust="spacingAndGlyphs" >1.5</text>
<text x="233.5" y="137.8" text-anchor="end" fill="#222" style="font-family:'Liberation Sans';font-size:9.02px;" textLength="14" lengthAdjust="spacingAndGlyphs" >1.5</text>
<text x="225.1" y="147" text-anchor="end" fill="#222" style="font-family:'Liberation Sans';font-size:9.02px;" textLength="14" lengthAdjust="spacingAndGlyphs" >1.0</text>
<text x="215.1" y="156.5" text-anchor="end" fill="#222" style="font-family:'Liberation Sans';font-size:9.02px;" textLength="14" lengthAdjust="spacingAndGlyphs" >0.5</text>
<text x="205.9" y="165.7" text-anchor="end" fill="#222" style="font-family:'Liberation Sans';font-size:9.02px;" textLength="14" lengthAdjust="spacingAndGlyphs" >0.0</text>
<text x="200.9" y="175.3" text-anchor="end" fill="#222" style="font-family:'Liberation Sans';font-size:9.02px;" textLength="21.4" lengthAdjust="spacingAndGlyphs" >−0.5</text>
<text x="191.4" y="185.6" text-anchor="end" fill="#222" style="font-family:'Liberation Sans';font-size:9.02px;" textLength="21.4" lengthAdjust="spacingAndGlyphs" >−1.0</text>
<text x="181.4" y="195.3" text-anchor="end" fill="#222" style="font-family:'Liberation Sans';font-size:9.02px;" textLength="21.4" lengthAdjust="spacingAndGlyphs" >−1.5</text>
<text x="0" y="0" text-anchor="middle" fill="#222" style="font-family:'Liberation Sans';font-size:8.6px;font-style:italic;" textLength="50" lengthAdjust="spacingAndGlyphs" transform="translate(79.8 196.2) rotate(22)">δ(<tspan font-size="6px" dy="-3">13</tspan><tspan dy="3">C) / kHz</tspan></text>
<text x="0" y="0" text-anchor="middle" fill="#222" style="font-family:'Liberation Sans';font-size:8.6px;font-style:italic;" textLength="50" lengthAdjust="spacingAndGlyphs" transform="translate(219.2 174.2) rotate(-51)">δ(<tspan font-size="6px" dy="-3">13</tspan><tspan dy="3">C) / kHz</tspan></text>
<path d="M271.4,500.4 L354.3,539.8 L409.6,483.7 L330.8,451.4Z" fill="#f3f2f0" stroke="none" stroke-width="0" />
<path d="M271.4,500.4 L330.8,451.4 L330.1,394.6 L266.5,440.9Z" fill="#f5f4f2" stroke="none" stroke-width="0" />
<path d="M330.8,451.4 L409.6,483.7 L414.1,425 L330.1,394.6Z" fill="#f1f0ee" stroke="none" stroke-width="0" />
<path d="M272.5,500.9 L331.8,451.9 L331.2,395" fill="none" stroke="#cbc6c0" stroke-width="0.6" stroke-linejoin="round" stroke-linecap="round" />
<path d="M311.4,519.4 L368.9,467 L370.7,409.3" fill="none" stroke="#cbc6c0" stroke-width="0.6" stroke-linejoin="round" stroke-linecap="round" />
<path d="M353.1,539.2 L408.4,483.2 L412.9,424.6" fill="none" stroke="#cbc6c0" stroke-width="0.6" stroke-linejoin="round" stroke-linecap="round" />
<path d="M355.2,538.9 L272.3,499.7 L267.5,440.2" fill="none" stroke="#cbc6c0" stroke-width="0.6" stroke-linejoin="round" stroke-linecap="round" />
<path d="M383.4,510.3 L302.5,474.7 L299.9,416.6" fill="none" stroke="#cbc6c0" stroke-width="0.6" stroke-linejoin="round" stroke-linecap="round" />
<path d="M408.9,484.4 L330,452.1 L329.3,395.2" fill="none" stroke="#cbc6c0" stroke-width="0.6" stroke-linejoin="round" stroke-linecap="round" />
<path d="M271.3,499.6 L330.8,450.7 L409.6,482.9" fill="none" stroke="#cbc6c0" stroke-width="0.6" stroke-linejoin="round" stroke-linecap="round" />
<path d="M269,471.6 L330.5,423.9 L411.8,455.3" fill="none" stroke="#cbc6c0" stroke-width="0.6" stroke-linejoin="round" stroke-linecap="round" />
<path d="M266.6,441.8 L330.1,395.5 L414.1,425.9" fill="none" stroke="#cbc6c0" stroke-width="0.6" stroke-linejoin="round" stroke-linecap="round" />
<path d="M271.4,500.4 L354.3,539.8" fill="none" stroke="#3a3a3a" stroke-width="0.75" stroke-linejoin="round" stroke-linecap="round" />
<path d="M354.3,539.8 L409.6,483.7" fill="none" stroke="#3a3a3a" stroke-width="0.75" stroke-linejoin="round" stroke-linecap="round" />
<path d="M409.6,483.7 L414.1,425" fill="none" stroke="#3a3a3a" stroke-width="0.75" stroke-linejoin="round" stroke-linecap="round" />
<line x1="273" y1="500.5" x2="270.6" y2="502.4" stroke="#3a3a3a" stroke-width="0.75" />
<line x1="311.9" y1="518.9" x2="309.6" y2="521" stroke="#3a3a3a" stroke-width="0.75" />
<line x1="353.6" y1="538.7" x2="351.4" y2="540.9" stroke="#3a3a3a" stroke-width="0.75" />
<line x1="354.5" y1="538.6" x2="357.3" y2="539.9" stroke="#3a3a3a" stroke-width="0.75" />
<line x1="382.7" y1="510" x2="385.6" y2="511.2" stroke="#3a3a3a" stroke-width="0.75" />
<line x1="408.2" y1="484.1" x2="411.1" y2="485.3" stroke="#3a3a3a" stroke-width="0.75" />
<line x1="408.9" y1="482.6" x2="411.8" y2="483.8" stroke="#3a3a3a" stroke-width="0.75" />
<line x1="411.1" y1="455.1" x2="414" y2="456.2" stroke="#3a3a3a" stroke-width="0.75" />
<line x1="413.4" y1="425.7" x2="416.3" y2="426.8" stroke="#3a3a3a" stroke-width="0.75" />
<path d="M321.7,440.7 L322.7,444.9 L313.8,444.7 L312.5,440.1Z" fill="#440000" stroke="#440000" stroke-width="0.3" />
<path d="M345.4,483.7 L346.8,477.4 L344.1,476.8 L343.4,483.3Z" fill="#2b637e" stroke="#2b637e" stroke-width="0.3" />
<path d="M347.4,484.2 L349.4,478.2 L346.8,477.4 L345.4,483.7Z" fill="#2e6a88" stroke="#2e6a88" stroke-width="0.3" />
<path d="M312.5,440.1 L313.8,444.7 L305.6,446.4 L303.9,441.6Z" fill="#540000" stroke="#540000" stroke-width="0.3" />
<path d="M343.4,483.3 L344.1,476.8 L341.4,476.4 L341.4,483Z" fill="#275b75" stroke="#275b75" stroke-width="0.3" />
<path d="M322.7,444.9 L325.3,450.2 L317.4,450.3 L313.8,444.7Z" fill="#3e0000" stroke="#3e0000" stroke-width="0.3" />
<path d="M313.8,444.7 L317.4,450.3 L310.1,452 L305.6,446.4Z" fill="#490000" stroke="#490000" stroke-width="0.3" />
<path d="M349.4,478.2 L350.5,472.4 L347.4,471.6 L346.8,477.4Z" fill="#2d6885" stroke="#2d6885" stroke-width="0.3" />
<path d="M346.8,477.4 L347.4,471.6 L344.3,470.9 L344.1,476.8Z" fill="#285e78" stroke="#285e78" stroke-width="0.3" />
<path d="M349.1,484.9 L351.8,479.1 L349.4,478.2 L347.4,484.2Z" fill="#317191" stroke="#317191" stroke-width="0.3" />
<path d="M341.4,483 L341.4,476.4 L338.9,476.2 L339.5,482.9Z" fill="#24546c" stroke="#24546c" stroke-width="0.3" />
<path d="M351.8,479.1 L353.3,473.5 L350.5,472.4 L349.4,478.2Z" fill="#317292" stroke="#317292" stroke-width="0.3" />
<path d="M344.1,476.8 L344.3,470.9 L341.4,470.4 L341.4,476.4Z" fill="#24546b" stroke="#24546b" stroke-width="0.3" />
<path d="M343.6,489.7 L345.4,483.7 L343.4,483.3 L342.6,489.5Z" fill="#2b6580" stroke="#2b6580" stroke-width="0.3" />
<path d="M342.6,489.5 L343.4,483.3 L341.4,483 L341.5,489.4Z" fill="#29607b" stroke="#29607b" stroke-width="0.3" />
<path d="M339.5,482.9 L338.9,476.2 L336.6,476.3 L337.6,483Z" fill="#224e64" stroke="#224e64" stroke-width="0.3" />
<path d="M350.7,485.7 L353.9,480.1 L351.8,479.1 L349.1,484.9Z" fill="#337798" stroke="#337798" stroke-width="0.3" />
<path d="M344.7,490 L347.4,484.2 L345.4,483.7 L343.6,489.7Z" fill="#2d6986" stroke="#2d6986" stroke-width="0.3" />
<path d="M341.5,489.4 L341.4,483 L339.5,482.9 L340.4,489.4Z" fill="#285c75" stroke="#285c75" stroke-width="0.3" />
<path d="M330.2,443.2 L330.8,446.8 L322.7,444.9 L321.7,440.7Z" fill="#370000" stroke="#370000" stroke-width="0.3" />
<path d="M322.5,438.5 L321.7,440.7 L312.5,440.1 L313.6,437.4Z" fill="#4f0000" stroke="#4f0000" stroke-width="0.3" />
<path d="M340.4,489.4 L339.5,482.9 L337.6,483 L339.4,489.5Z" fill="#265870" stroke="#265870" stroke-width="0.3" />
<path d="M345.6,490.3 L349.1,484.9 L347.4,484.2 L344.7,490Z" fill="#2f6d8b" stroke="#2f6d8b" stroke-width="0.3" />
<path d="M353.9,480.1 L355.7,474.6 L353.3,473.5 L351.8,479.1Z" fill="#357a9c" stroke="#357a9c" stroke-width="0.3" />
<path d="M341.4,476.4 L341.4,470.4 L338.7,470.2 L338.9,476.2Z" fill="#214c61" stroke="#214c61" stroke-width="0.3" />
<path d="M313.6,437.4 L312.5,440.1 L303.9,441.6 L305.2,438.5Z" fill="#600000" stroke="#600000" stroke-width="0.3" />
<path d="M337.6,483 L336.6,476.3 L334.5,476.5 L335.9,483.3Z" fill="#1f495d" stroke="#1f495d" stroke-width="0.3" />
<path d="M339.4,489.5 L337.6,483 L335.9,483.3 L338.4,489.7Z" fill="#24546c" stroke="#24546c" stroke-width="0.3" />
<path d="M330.8,446.8 L332.4,451.5 L325.3,450.2 L322.7,444.9Z" fill="#350000" stroke="#350000" stroke-width="0.3" />
<path d="M305.6,446.4 L310.1,452 L304.5,454.9 L299.2,449.7Z" fill="#530000" stroke="#530000" stroke-width="0.3" />
<path d="M346.4,490.7 L350.7,485.7 L349.1,484.9 L345.6,490.3Z" fill="#317190" stroke="#317190" stroke-width="0.3" />
<path d="M350.5,472.4 L350.7,467.6 L347.4,466.7 L347.4,471.6Z" fill="#2a627e" stroke="#2a627e" stroke-width="0.3" />
<path d="M352,486.5 L355.6,481.2 L353.9,480.1 L350.7,485.7Z" fill="#357c9e" stroke="#357c9e" stroke-width="0.3" />
<path d="M303.9,441.6 L305.6,446.4 L299.2,449.7 L297.2,444.9Z" fill="#640000" stroke="#640000" stroke-width="0.3" />
<path d="M317.4,450.3 L322.8,455.9 L316.9,457.3 L310.1,452Z" fill="#430000" stroke="#430000" stroke-width="0.3" />
<path d="M353.3,473.5 L353.6,468.6 L350.7,467.6 L350.5,472.4Z" fill="#306f8d" stroke="#306f8d" stroke-width="0.3" />
<path d="M347.4,471.6 L347.4,466.7 L344.2,466.1 L344.3,470.9Z" fill="#25566e" stroke="#25566e" stroke-width="0.3" />
<path d="M338.4,489.7 L335.9,483.3 L334.3,483.8 L337.5,490.1Z" fill="#235168" stroke="#235168" stroke-width="0.3" />
<path d="M325.3,450.2 L329.2,455.6 L322.8,455.9 L317.4,450.3Z" fill="#3c0000" stroke="#3c0000" stroke-width="0.3" />
<path d="M347.2,491.2 L352,486.5 L350.7,485.7 L346.4,490.7Z" fill="#327494" stroke="#327494" stroke-width="0.3" />
<path d="M330.8,441.6 L330.2,443.2 L321.7,440.7 L322.5,438.5Z" fill="#410000" stroke="#410000" stroke-width="0.3" />
<path d="M338.9,476.2 L338.7,470.2 L336.5,470.2 L336.6,476.3Z" fill="#1e4558" stroke="#1e4558" stroke-width="0.3" />
<path d="M335.9,483.3 L334.5,476.5 L332.6,477.1 L334.3,483.8Z" fill="#1d4457" stroke="#1d4457" stroke-width="0.3" />
<path d="M355.6,481.2 L357.5,475.8 L355.7,474.6 L353.9,480.1Z" fill="#377fa3" stroke="#377fa3" stroke-width="0.3" />
<path d="M337.5,490.1 L334.3,483.8 L332.8,484.5 L336.7,490.5Z" fill="#224f64" stroke="#224f64" stroke-width="0.3" />
<path d="M344.3,470.9 L344.2,466.1 L341.4,465.8 L341.4,470.4Z" fill="#214c61" stroke="#214c61" stroke-width="0.3" />
<path d="M355.7,474.6 L356,469.8 L353.6,468.6 L353.3,473.5Z" fill="#347899" stroke="#347899" stroke-width="0.3" />
<path d="M347.7,491.8 L353,487.4 L352,486.5 L347.2,491.2Z" fill="#337697" stroke="#337697" stroke-width="0.3" />
<path d="M353,487.4 L356.8,482.2 L355.6,481.2 L352,486.5Z" fill="#377fa2" stroke="#377fa2" stroke-width="0.3" />
<path d="M341.6,494.8 L342.6,489.5 L341.5,489.4 L341.6,494.8Z" fill="#2a617c" stroke="#2a617c" stroke-width="0.3" />
<path d="M310.1,452 L316.9,457.3 L312.5,459.8 L304.5,454.9Z" fill="#490000" stroke="#490000" stroke-width="0.3" />
<path d="M341.6,494.8 L343.6,489.7 L342.6,489.5 L341.6,494.8Z" fill="#2b637f" stroke="#2b637f" stroke-width="0.3" />
<path d="M336.7,490.5 L332.8,484.5 L331.6,485.4 L336,491Z" fill="#214c62" stroke="#214c62" stroke-width="0.3" />
<path d="M341.6,494.8 L341.5,489.4 L340.4,489.4 L341.6,494.8Z" fill="#29607a" stroke="#29607a" stroke-width="0.3" />
<path d="M341.6,494.8 L344.7,490 L343.6,489.7 L341.6,494.8Z" fill="#2c6581" stroke="#2c6581" stroke-width="0.3" />
<path d="M341.6,494.8 L340.4,489.4 L339.4,489.5 L341.6,494.8Z" fill="#295f79" stroke="#295f79" stroke-width="0.3" />
<path d="M334.3,483.8 L332.6,477.1 L331,477.8 L332.8,484.5Z" fill="#1c4153" stroke="#1c4153" stroke-width="0.3" />
<path d="M341.6,494.8 L345.6,490.3 L344.7,490 L341.6,494.8Z" fill="#2c6783" stroke="#2c6783" stroke-width="0.3" />
<path d="M341.6,494.8 L339.4,489.5 L338.4,489.7 L341.6,494.8Z" fill="#285e77" stroke="#285e77" stroke-width="0.3" />
<path d="M341.6,494.8 L346.4,490.7 L345.6,490.3 L341.6,494.8Z" fill="#2d6985" stroke="#2d6985" stroke-width="0.3" />
<path d="M336.6,476.3 L336.5,470.2 L334.6,470.4 L334.5,476.5Z" fill="#1b3f51" stroke="#1b3f51" stroke-width="0.3" />
<path d="M341.6,494.8 L338.4,489.7 L337.5,490.1 L341.6,494.8Z" fill="#285d77" stroke="#285d77" stroke-width="0.3" />
<path d="M305.2,438.5 L303.9,441.6 L297.2,444.9 L298.8,441.6Z" fill="#710000" stroke="#710000" stroke-width="0.3" />
<path d="M341.6,494.8 L347.2,491.2 L346.4,490.7 L341.6,494.8Z" fill="#2e6a87" stroke="#2e6a87" stroke-width="0.3" />
<path d="M348.2,492.3 L353.7,488.3 L353,487.4 L347.7,491.8Z" fill="#337798" stroke="#337798" stroke-width="0.3" />
<path d="M341.6,494.8 L337.5,490.1 L336.7,490.5 L341.6,494.8Z" fill="#285c76" stroke="#285c76" stroke-width="0.3" />
<path d="M336,491 L331.6,485.4 L330.6,486.5 L335.4,491.6Z" fill="#204b60" stroke="#204b60" stroke-width="0.3" />
<path d="M341.6,494.8 L336.7,490.5 L336,491 L341.6,494.8Z" fill="#285c76" stroke="#285c76" stroke-width="0.3" />
<path d="M341.6,494.8 L347.7,491.8 L347.2,491.2 L341.6,494.8Z" fill="#2e6b88" stroke="#2e6b88" stroke-width="0.3" />
<path d="M337,447.1 L337.3,450.1 L330.8,446.8 L330.2,443.2Z" fill="#2f0000" stroke="#2f0000" stroke-width="0.3" />
<path d="M332.4,451.5 L334.9,456.5 L329.2,455.6 L325.3,450.2Z" fill="#360000" stroke="#360000" stroke-width="0.3" />
<path d="M356.8,482.2 L358.5,476.9 L357.5,475.8 L355.6,481.2Z" fill="#3882a6" stroke="#3882a6" stroke-width="0.3" />
<path d="M341.6,494.8 L336,491 L335.4,491.6 L341.6,494.8Z" fill="#285c75" stroke="#285c75" stroke-width="0.3" />
<path d="M332.8,484.5 L331,477.8 L329.5,478.9 L331.6,485.4Z" fill="#1b3e4f" stroke="#1b3e4f" stroke-width="0.3" />
<path d="M341.4,470.4 L341.4,465.8 L339.1,465.7 L338.7,470.2Z" fill="#1d4457" stroke="#1d4457" stroke-width="0.3" />
<path d="M341.6,494.8 L348.2,492.3 L347.7,491.8 L341.6,494.8Z" fill="#2e6b89" stroke="#2e6b89" stroke-width="0.3" />
<path d="M325.1,439 L322.5,438.5 L313.6,437.4 L317.1,437.4Z" fill="#570000" stroke="#570000" stroke-width="0.3" />
<path d="M353.7,488.3 L357.5,483.3 L356.8,482.2 L353,487.4Z" fill="#3780a3" stroke="#3780a3" stroke-width="0.3" />
<path d="M357.5,475.8 L357.5,470.9 L356,469.8 L355.7,474.6Z" fill="#367da0" stroke="#367da0" stroke-width="0.3" />
<path d="M350.7,467.6 L350,463.9 L346.8,463.3 L347.4,466.7Z" fill="#275b74" stroke="#275b74" stroke-width="0.3" />
<path d="M341.6,494.8 L335.4,491.6 L335,492.3 L341.6,494.8Z" fill="#285c75" stroke="#285c75" stroke-width="0.3" />
<path d="M353.6,468.6 L352.8,464.8 L350,463.9 L350.7,467.6Z" fill="#2d6884" stroke="#2d6884" stroke-width="0.3" />
<path d="M335.4,491.6 L330.6,486.5 L329.8,487.8 L335,492.3Z" fill="#204a5e" stroke="#204a5e" stroke-width="0.3" />
<path d="M341.6,494.8 L348.4,492.9 L348.2,492.3 L341.6,494.8Z" fill="#2e6b89" stroke="#2e6b89" stroke-width="0.3" />
<path d="M348.4,492.9 L354.1,489.3 L353.7,488.3 L348.2,492.3Z" fill="#347899" stroke="#347899" stroke-width="0.3" />
<path d="M341.6,494.8 L335,492.3 L334.7,493 L341.6,494.8Z" fill="#275c75" stroke="#275c75" stroke-width="0.3" />
<path d="M337.3,450.1 L338,454.1 L332.4,451.5 L330.8,446.8Z" fill="#2f0000" stroke="#2f0000" stroke-width="0.3" />
<path d="M334.5,476.5 L334.6,470.4 L333,470.8 L332.6,477.1Z" fill="#193b4c" stroke="#193b4c" stroke-width="0.3" />
<path d="M317.1,437.4 L313.6,437.4 L305.2,438.5 L309.6,438Z" fill="#630000" stroke="#630000" stroke-width="0.3" />
<path d="M299.2,449.7 L304.5,454.9 L301.6,458.8 L295.7,454.1Z" fill="#5c0000" stroke="#5c0000" stroke-width="0.3" />
<path d="M341.6,494.8 L348.5,493.5 L348.4,492.9 L341.6,494.8Z" fill="#2e6b89" stroke="#2e6b89" stroke-width="0.3" />
<path d="M341.6,494.8 L334.7,493 L334.6,493.8 L341.6,494.8Z" fill="#275b75" stroke="#275b75" stroke-width="0.3" />
<path d="M337.3,446.1 L337,447.1 L330.2,443.2 L330.8,441.6Z" fill="#380000" stroke="#380000" stroke-width="0.3" />
<path d="M331.6,485.4 L329.5,478.9 L328.2,480.2 L330.6,486.5Z" fill="#1a3c4c" stroke="#1a3c4c" stroke-width="0.3" />
<path d="M341.6,494.8 L348.4,494.1 L348.5,493.5 L341.6,494.8Z" fill="#2e6b89" stroke="#2e6b89" stroke-width="0.3" />
<path d="M347.4,466.7 L346.8,463.3 L343.8,463 L344.2,466.1Z" fill="#224f64" stroke="#224f64" stroke-width="0.3" />
<path d="M335,492.3 L329.8,487.8 L329.2,489.2 L334.7,493Z" fill="#1f495d" stroke="#1f495d" stroke-width="0.3" />
<path d="M341.6,494.8 L334.6,493.8 L334.7,494.6 L341.6,494.8Z" fill="#275b75" stroke="#275b75" stroke-width="0.3" />
<path d="M332.4,442.5 L330.8,441.6 L322.5,438.5 L325.1,439Z" fill="#4c0000" stroke="#4c0000" stroke-width="0.3" />
<path d="M297.2,444.9 L299.2,449.7 L295.7,454.1 L293.5,449.6Z" fill="#710000" stroke="#710000" stroke-width="0.3" />
<path d="M356,469.8 L354.8,465.9 L352.8,464.8 L353.6,468.6Z" fill="#317291" stroke="#317291" stroke-width="0.3" />
<path d="M341.6,494.8 L348.2,494.8 L348.4,494.1 L341.6,494.8Z" fill="#2e6b89" stroke="#2e6b89" stroke-width="0.3" />
<path d="M341.6,494.8 L334.7,494.6 L334.9,495.3 L341.6,494.8Z" fill="#275b75" stroke="#275b75" stroke-width="0.3" />
<path d="M348.5,493.5 L354.2,490.2 L354.1,489.3 L348.4,492.9Z" fill="#34789a" stroke="#34789a" stroke-width="0.3" />
<path d="M341.6,494.8 L347.8,495.4 L348.2,494.8 L341.6,494.8Z" fill="#2e6b88" stroke="#2e6b88" stroke-width="0.3" />
<path d="M354.1,489.3 L357.7,484.3 L357.5,483.3 L353.7,488.3Z" fill="#3780a3" stroke="#3780a3" stroke-width="0.3" />
<path d="M341.6,494.8 L334.9,495.3 L335.4,496.1 L341.6,494.8Z" fill="#275c75" stroke="#275c75" stroke-width="0.3" />
<path d="M322.8,455.9 L329.4,460.4 L325.2,461.5 L316.9,457.3Z" fill="#3f0000" stroke="#3f0000" stroke-width="0.3" />
<path d="M338.7,470.2 L339.1,465.7 L337.4,465.7 L336.5,470.2Z" fill="#1b3e4f" stroke="#1b3e4f" stroke-width="0.3" />
<path d="M304.5,454.9 L312.5,459.8 L310.3,462.7 L301.6,458.8Z" fill="#4f0000" stroke="#4f0000" stroke-width="0.3" />
<path d="M334.7,493 L329.2,489.2 L328.9,490.7 L334.6,493.8Z" fill="#1f495d" stroke="#1f495d" stroke-width="0.3" />
<path d="M357.5,483.3 L358.9,477.8 L358.5,476.9 L356.8,482.2Z" fill="#3882a5" stroke="#3882a5" stroke-width="0.3" />
<path d="M332.6,477.1 L333,470.8 L331.6,471.5 L331,477.8Z" fill="#183848" stroke="#183848" stroke-width="0.3" />
<path d="M341.6,494.8 L347.2,496 L347.8,495.4 L341.6,494.8Z" fill="#2e6a88" stroke="#2e6a88" stroke-width="0.3" />
<path d="M341.6,494.8 L335.4,496.1 L335.9,496.7 L341.6,494.8Z" fill="#285c76" stroke="#285c76" stroke-width="0.3" />
<path d="M330.6,486.5 L328.2,480.2 L327.1,481.9 L329.8,487.8Z" fill="#193a4a" stroke="#193a4a" stroke-width="0.3" />
<path d="M341.6,494.8 L335.9,496.7 L336.6,497.3 L341.6,494.8Z" fill="#285d77" stroke="#285d77" stroke-width="0.3" />
<path d="M341.6,494.8 L346.5,496.5 L347.2,496 L341.6,494.8Z" fill="#2e6a88" stroke="#2e6a88" stroke-width="0.3" />
<path d="M358.5,476.9 L358,471.9 L357.5,470.9 L357.5,475.8Z" fill="#367ea1" stroke="#367ea1" stroke-width="0.3" />
<path d="M341.6,494.8 L336.6,497.3 L337.5,497.7 L341.6,494.8Z" fill="#295e79" stroke="#295e79" stroke-width="0.3" />
<path d="M348.4,494.1 L354,491.2 L354.2,490.2 L348.5,493.5Z" fill="#347899" stroke="#347899" stroke-width="0.3" />
<path d="M341.6,494.8 L345.7,497 L346.5,496.5 L341.6,494.8Z" fill="#2e6a87" stroke="#2e6a87" stroke-width="0.3" />
<path d="M329.2,455.6 L333.9,460.1 L329.4,460.4 L322.8,455.9Z" fill="#3a0000" stroke="#3a0000" stroke-width="0.3" />
<path d="M341.6,494.8 L337.5,497.7 L338.4,498.1 L341.6,494.8Z" fill="#29607b" stroke="#29607b" stroke-width="0.3" />
<path d="M316.9,457.3 L325.2,461.5 L322.1,463.2 L312.5,459.8Z" fill="#430000" stroke="#430000" stroke-width="0.3" />
<path d="M341.6,494.8 L344.8,497.5 L345.7,497 L341.6,494.8Z" fill="#2e6a87" stroke="#2e6a87" stroke-width="0.3" />
<path d="M334.6,493.8 L328.9,490.7 L328.9,492.3 L334.7,494.6Z" fill="#20495d" stroke="#20495d" stroke-width="0.3" />
<path d="M344.2,466.1 L343.8,463 L341.4,463 L341.4,465.8Z" fill="#1e4558" stroke="#1e4558" stroke-width="0.3" />
<path d="M341.6,494.8 L338.4,498.1 L339.5,498.3 L341.6,494.8Z" fill="#2a627d" stroke="#2a627d" stroke-width="0.3" />
<path d="M341.6,494.8 L343.8,497.9 L344.8,497.5 L341.6,494.8Z" fill="#2d6986" stroke="#2d6986" stroke-width="0.3" />
<path d="M341.6,494.8 L339.5,498.3 L340.5,498.4 L341.6,494.8Z" fill="#2b647f" stroke="#2b647f" stroke-width="0.3" />
<path d="M341.6,494.8 L342.7,498.1 L343.8,497.9 L341.6,494.8Z" fill="#2d6885" stroke="#2d6885" stroke-width="0.3" />
<path d="M341.6,494.8 L340.5,498.4 L341.6,498.3 L341.6,494.8Z" fill="#2c6581" stroke="#2c6581" stroke-width="0.3" />
<path d="M341.6,494.8 L341.6,498.3 L342.7,498.1 L341.6,494.8Z" fill="#2c6783" stroke="#2c6783" stroke-width="0.3" />
<path d="M309.6,438 L305.2,438.5 L298.8,441.6 L303.9,440.5Z" fill="#6e0000" stroke="#6e0000" stroke-width="0.3" />
<path d="M329.8,487.8 L327.1,481.9 L326.2,483.8 L329.2,489.2Z" fill="#193949" stroke="#193949" stroke-width="0.3" />
<path d="M331,477.8 L331.6,471.5 L330.3,472.4 L329.5,478.9Z" fill="#173644" stroke="#173644" stroke-width="0.3" />
<path d="M357.5,470.9 L355.7,467 L354.8,465.9 L356,469.8Z" fill="#337798" stroke="#337798" stroke-width="0.3" />
<path d="M354.2,490.2 L357.6,485.3 L357.7,484.3 L354.1,489.3Z" fill="#377fa2" stroke="#377fa2" stroke-width="0.3" />
<path d="M298.8,441.6 L297.2,444.9 L293.5,449.6 L295.3,446.2Z" fill="#7e0000" stroke="#7e0000" stroke-width="0.3" />
<path d="M348.2,494.8 L353.4,492.2 L354,491.2 L348.4,494.1Z" fill="#337798" stroke="#337798" stroke-width="0.3" />
<path d="M334.7,494.6 L328.9,492.3 L329.3,493.9 L334.9,495.3Z" fill="#204a5f" stroke="#204a5f" stroke-width="0.3" />
<path d="M338,454.1 L339.2,458.3 L334.9,456.5 L332.4,451.5Z" fill="#320000" stroke="#320000" stroke-width="0.3" />
<path d="M336.5,470.2 L337.4,465.7 L336.3,465.9 L334.6,470.4Z" fill="#193a4a" stroke="#193a4a" stroke-width="0.3" />
<path d="M338,447.4 L337.3,446.1 L330.8,441.6 L332.4,442.5Z" fill="#440000" stroke="#440000" stroke-width="0.3" />
<path d="M352.8,464.8 L351,462.4 L348.5,461.7 L350,463.9Z" fill="#29607a" stroke="#29607a" stroke-width="0.3" />
<path d="M357.7,484.3 L358.6,478.6 L358.9,477.8 L357.5,483.3Z" fill="#3780a3" stroke="#3780a3" stroke-width="0.3" />
<path d="M329.2,489.2 L326.2,483.8 L325.6,485.9 L328.9,490.7Z" fill="#183948" stroke="#183948" stroke-width="0.3" />
<path d="M350,463.9 L348.5,461.7 L345.6,461.5 L346.8,463.3Z" fill="#24536a" stroke="#24536a" stroke-width="0.3" />
<path d="M329.5,478.9 L330.3,472.4 L329,473.7 L328.2,480.2Z" fill="#163442" stroke="#163442" stroke-width="0.3" />
<path d="M341.4,451.8 L341.4,454 L337.3,450.1 L337,447.1Z" fill="#2a0000" stroke="#2a0000" stroke-width="0.3" />
<path d="M334.9,495.3 L329.3,493.9 L329.9,495.4 L335.4,496.1Z" fill="#214c61" stroke="#214c61" stroke-width="0.3" />
<path d="M347.8,495.4 L352.7,493.2 L353.4,492.2 L348.2,494.8Z" fill="#337697" stroke="#337697" stroke-width="0.3" />
<path d="M358.9,477.8 L357.6,472.6 L358,471.9 L358.5,476.9Z" fill="#367c9f" stroke="#367c9f" stroke-width="0.3" />
<path d="M329,442.5 L325.1,439 L317.1,437.4 L322.5,440.5Z" fill="#590000" stroke="#590000" stroke-width="0.3" />
<path d="M312.5,459.8 L322.1,463.2 L320.9,465.1 L310.3,462.7Z" fill="#460000" stroke="#460000" stroke-width="0.3" />
<path d="M354.8,465.9 L352.5,463.4 L351,462.4 L352.8,464.8Z" fill="#2e6a87" stroke="#2e6a87" stroke-width="0.3" />
<path d="M354,491.2 L357,486.2 L357.6,485.3 L354.2,490.2Z" fill="#367da0" stroke="#367da0" stroke-width="0.3" />
<path d="M334.9,456.5 L337.9,460.6 L333.9,460.1 L329.2,455.6Z" fill="#370000" stroke="#370000" stroke-width="0.3" />
<path d="M341.4,465.8 L341.4,463 L339.9,463.2 L339.1,465.7Z" fill="#1b3e4f" stroke="#1b3e4f" stroke-width="0.3" />
<path d="M335.4,496.1 L329.9,495.4 L330.9,496.8 L335.9,496.7Z" fill="#224e63" stroke="#224e63" stroke-width="0.3" />
<path d="M341.4,451.3 L341.4,451.8 L337,447.1 L337.3,446.1Z" fill="#320000" stroke="#320000" stroke-width="0.3" />
<path d="M347.2,496 L351.7,494.2 L352.7,493.2 L347.8,495.4Z" fill="#327595" stroke="#327595" stroke-width="0.3" />
<path d="M328.9,490.7 L325.6,485.9 L325.3,488.2 L328.9,492.3Z" fill="#183948" stroke="#183948" stroke-width="0.3" />
<path d="M341.4,454 L341.4,457.2 L338,454.1 L337.3,450.1Z" fill="#2b0000" stroke="#2b0000" stroke-width="0.3" />
<path d="M322.5,440.5 L317.1,437.4 L309.6,438 L316.4,440.4Z" fill="#600000" stroke="#600000" stroke-width="0.3" />
<path d="M328.2,480.2 L329,473.7 L327.7,475.4 L327.1,481.9Z" fill="#153240" stroke="#153240" stroke-width="0.3" />
<path d="M295.7,454.1 L301.6,458.8 L301.9,462.8 L295.8,458.9Z" fill="#610000" stroke="#610000" stroke-width="0.3" />
<path d="M334.6,470.4 L336.3,465.9 L335.6,466.1 L333,470.8Z" fill="#183746" stroke="#183746" stroke-width="0.3" />
<path d="M358,471.9 L355.4,467.8 L355.7,467 L357.5,470.9Z" fill="#337697" stroke="#337697" stroke-width="0.3" />
<path d="M346.8,463.3 L345.6,461.5 L343.1,461.7 L343.8,463Z" fill="#1f485b" stroke="#1f485b" stroke-width="0.3" />
<path d="M335.9,496.7 L330.9,496.8 L332.2,497.9 L336.6,497.3Z" fill="#235167" stroke="#235167" stroke-width="0.3" />
<path d="M334.8,446.3 L332.4,442.5 L325.1,439 L329,442.5Z" fill="#510000" stroke="#510000" stroke-width="0.3" />
<path d="M301.6,458.8 L310.3,462.7 L311,465.6 L301.9,462.8Z" fill="#520000" stroke="#520000" stroke-width="0.3" />
<path d="M346.5,496.5 L350.5,495.3 L351.7,494.2 L347.2,496Z" fill="#327393" stroke="#327393" stroke-width="0.3" />
<path d="M357.6,485.3 L357.8,479.3 L358.6,478.6 L357.7,484.3Z" fill="#367d9f" stroke="#367d9f" stroke-width="0.3" />
<path d="M293.5,449.6 L295.7,454.1 L295.8,458.9 L293.6,454.9Z" fill="#780000" stroke="#780000" stroke-width="0.3" />
<path d="M327.1,481.9 L327.7,475.4 L326.4,477.4 L326.2,483.8Z" fill="#15303e" stroke="#15303e" stroke-width="0.3" />
<path d="M328.9,492.3 L325.3,488.2 L325.4,490.5 L329.3,493.9Z" fill="#193949" stroke="#193949" stroke-width="0.3" />
<path d="M336.6,497.3 L332.2,497.9 L333.8,498.8 L337.5,497.7Z" fill="#24546b" stroke="#24546b" stroke-width="0.3" />
<path d="M353.4,492.2 L356.2,487.2 L357,486.2 L354,491.2Z" fill="#357b9e" stroke="#357b9e" stroke-width="0.3" />
<path d="M345.7,497 L349,496.3 L350.5,495.3 L346.5,496.5Z" fill="#317191" stroke="#317191" stroke-width="0.3" />
<path d="M303.9,440.5 L298.8,441.6 L295.3,446.2 L300.9,444.7Z" fill="#760000" stroke="#760000" stroke-width="0.3" />
<path d="M355.7,467 L352.6,464.3 L352.5,463.4 L354.8,465.9Z" fill="#306e8d" stroke="#306e8d" stroke-width="0.3" />
<path d="M337.5,497.7 L333.8,498.8 L335.6,499.4 L338.4,498.1Z" fill="#265770" stroke="#265770" stroke-width="0.3" />
<path d="M333,470.8 L335.6,466.1 L335.1,466.4 L331.6,471.5Z" fill="#173543" stroke="#173543" stroke-width="0.3" />
<path d="M344.8,497.5 L347.4,497.2 L349,496.3 L345.7,497Z" fill="#306f8e" stroke="#306f8e" stroke-width="0.3" />
<path d="M358.6,478.6 L356.4,472.9 L357.6,472.6 L358.9,477.8Z" fill="#34799a" stroke="#34799a" stroke-width="0.3" />
<path d="M316.4,440.4 L309.6,438 L303.9,440.5 L311.9,442.3Z" fill="#680000" stroke="#680000" stroke-width="0.3" />
<path d="M326.2,483.8 L326.4,477.4 L325.3,479.9 L325.6,485.9Z" fill="#142f3c" stroke="#142f3c" stroke-width="0.3" />
<path d="M338.4,498.1 L335.6,499.4 L337.6,499.7 L339.5,498.3Z" fill="#275b75" stroke="#275b75" stroke-width="0.3" />
<path d="M329.3,493.9 L325.4,490.5 L326,492.8 L329.9,495.4Z" fill="#1a3b4c" stroke="#1a3b4c" stroke-width="0.3" />
<path d="M343.8,497.9 L345.7,498.1 L347.4,497.2 L344.8,497.5Z" fill="#2f6d8b" stroke="#2f6d8b" stroke-width="0.3" />
<path d="M339.1,465.7 L339.9,463.2 L339.4,463.4 L337.4,465.7Z" fill="#193949" stroke="#193949" stroke-width="0.3" />
<path d="M339.5,498.3 L337.6,499.7 L339.6,499.7 L340.5,498.4Z" fill="#295f79" stroke="#295f79" stroke-width="0.3" />
<path d="M341.4,452.9 L341.4,451.3 L337.3,446.1 L338,447.4Z" fill="#3f0000" stroke="#3f0000" stroke-width="0.3" />
<path d="M342.7,498.1 L343.7,498.9 L345.7,498.1 L343.8,497.9Z" fill="#2e6a87" stroke="#2e6a87" stroke-width="0.3" />
<path d="M352.7,493.2 L355.1,488.3 L356.2,487.2 L353.4,492.2Z" fill="#34799b" stroke="#34799b" stroke-width="0.3" />
<path d="M340.5,498.4 L339.6,499.7 L341.7,499.4 L341.6,498.3Z" fill="#2b637e" stroke="#2b637e" stroke-width="0.3" />
<path d="M341.6,498.3 L341.7,499.4 L343.7,498.9 L342.7,498.1Z" fill="#2c6783" stroke="#2c6783" stroke-width="0.3" />
<path d="M351,462.4 L348.5,461.3 L346.5,461 L348.5,461.7Z" fill="#265870" stroke="#265870" stroke-width="0.3" />
<path d="M310.3,462.7 L320.9,465.1 L321.8,466.7 L311,465.6Z" fill="#480000" stroke="#480000" stroke-width="0.3" />
<path d="M329.4,460.4 L336.3,463 L333.9,463.7 L325.2,461.5Z" fill="#3b0000" stroke="#3b0000" stroke-width="0.3" />
<path d="M343.8,463 L343.1,461.7 L341.5,462.3 L341.4,463Z" fill="#1b3f51" stroke="#1b3f51" stroke-width="0.3" />
<path d="M339.2,451.3 L338,447.4 L332.4,442.5 L334.8,446.3Z" fill="#4c0000" stroke="#4c0000" stroke-width="0.3" />
<path d="M357,486.2 L356.8,479.8 L357.8,479.3 L357.6,485.3Z" fill="#347a9b" stroke="#347a9b" stroke-width="0.3" />
<path d="M325.2,461.5 L333.9,463.7 L332.2,464.5 L322.1,463.2Z" fill="#3d0000" stroke="#3d0000" stroke-width="0.3" />
<path d="M331.6,471.5 L335.1,466.4 L334.4,467 L330.3,472.4Z" fill="#163341" stroke="#163341" stroke-width="0.3" />
<path d="M357.6,472.6 L353.8,468.1 L355.4,467.8 L358,471.9Z" fill="#327393" stroke="#327393" stroke-width="0.3" />
<path d="M341.4,457.2 L341.5,460.5 L339.2,458.3 L338,454.1Z" fill="#300000" stroke="#300000" stroke-width="0.3" />
<path d="M295.3,446.2 L293.5,449.6 L293.6,454.9 L295.5,451.5Z" fill="#840000" stroke="#840000" stroke-width="0.3" />
<path d="M325.6,485.9 L325.3,479.9 L324.4,482.7 L325.3,488.2Z" fill="#142e3b" stroke="#142e3b" stroke-width="0.3" />
<path d="M329.9,495.4 L326,492.8 L327.2,494.9 L330.9,496.8Z" fill="#1b3e50" stroke="#1b3e50" stroke-width="0.3" />
<path d="M339.2,458.3 L340.6,461.8 L337.9,460.6 L334.9,456.5Z" fill="#340000" stroke="#340000" stroke-width="0.3" />
<path d="M348.5,461.7 L346.5,461 L344.1,461.2 L345.6,461.5Z" fill="#214b60" stroke="#214b60" stroke-width="0.3" />
<path d="M352.5,463.4 L349.4,462.1 L348.5,461.3 L351,462.4Z" fill="#2a627d" stroke="#2a627d" stroke-width="0.3" />
<path d="M351.7,494.2 L353.9,489.5 L355.1,488.3 L352.7,493.2Z" fill="#337798" stroke="#337798" stroke-width="0.3" />
<path d="M330.3,472.4 L334.4,467 L333.4,467.8 L329,473.7Z" fill="#163240" stroke="#163240" stroke-width="0.3" />
<path d="M343.2,456.5 L343.1,458 L341.4,454 L341.4,451.8Z" fill="#280000" stroke="#280000" stroke-width="0.3" />
<path d="M333.9,460.1 L338.9,462.8 L336.3,463 L329.4,460.4Z" fill="#390000" stroke="#390000" stroke-width="0.3" />
<path d="M355.4,467.8 L351,465 L352.6,464.3 L355.7,467Z" fill="#2f6d8c" stroke="#2f6d8c" stroke-width="0.3" />
<path d="M322.1,463.2 L332.2,464.5 L331.9,465.3 L320.9,465.1Z" fill="#3f0000" stroke="#3f0000" stroke-width="0.3" />
<path d="M325.3,488.2 L324.4,482.7 L324,485.6 L325.4,490.5Z" fill="#142e3a" stroke="#142e3a" stroke-width="0.3" />
<path d="M357.8,479.3 L354.7,473 L356.4,472.9 L358.6,478.6Z" fill="#327495" stroke="#327495" stroke-width="0.3" />
<path d="M330.9,496.8 L327.2,494.9 L328.8,496.6 L332.2,497.9Z" fill="#1d4355" stroke="#1d4355" stroke-width="0.3" />
<path d="M343.1,456.4 L343.2,456.5 L341.4,451.8 L341.4,451.3Z" fill="#300000" stroke="#300000" stroke-width="0.3" />
<path d="M329,473.7 L333.4,467.8 L332,469.2 L327.7,475.4Z" fill="#15313e" stroke="#15313e" stroke-width="0.3" />
<path d="M333.8,448.9 L329,442.5 L322.5,440.5 L329.2,446.6Z" fill="#580000" stroke="#580000" stroke-width="0.3" />
<path d="M356.2,487.2 L355.6,480.4 L356.8,479.8 L357,486.2Z" fill="#337798" stroke="#337798" stroke-width="0.3" />
<path d="M337.4,465.7 L339.4,463.4 L339.7,463.5 L336.3,465.9Z" fill="#183746" stroke="#183746" stroke-width="0.3" />
<path d="M350.5,495.3 L352.4,490.8 L353.9,489.5 L351.7,494.2Z" fill="#327595" stroke="#327595" stroke-width="0.3" />
<path d="M329.2,446.6 L322.5,440.5 L316.4,440.4 L324.9,445.9Z" fill="#5d0000" stroke="#5d0000" stroke-width="0.3" />
<path d="M343.1,458 L342.6,460.3 L341.4,457.2 L341.4,454Z" fill="#2a0000" stroke="#2a0000" stroke-width="0.3" />
<path d="M301.9,462.8 L311,465.6 L314.4,467.8 L305.6,466.2Z" fill="#530000" stroke="#530000" stroke-width="0.3" />
<path d="M327.7,475.4 L332,469.2 L330.3,471 L326.4,477.4Z" fill="#142f3c" stroke="#142f3c" stroke-width="0.3" />
<path d="M295.8,458.9 L301.9,462.8 L305.6,466.2 L299.6,463.3Z" fill="#620000" stroke="#620000" stroke-width="0.3" />
<path d="M311.9,442.3 L303.9,440.5 L300.9,444.7 L309.7,445.7Z" fill="#6d0000" stroke="#6d0000" stroke-width="0.3" />
<path d="M352.6,464.3 L348.5,463 L349.4,462.1 L352.5,463.4Z" fill="#2c6683" stroke="#2c6683" stroke-width="0.3" />
<path d="M332.2,497.9 L328.8,496.6 L331,497.9 L333.8,498.8Z" fill="#1f485c" stroke="#1f485c" stroke-width="0.3" />
<path d="M345.6,461.5 L344.1,461.2 L342.2,462.1 L343.1,461.7Z" fill="#1c4153" stroke="#1c4153" stroke-width="0.3" />
<path d="M337.8,452.8 L334.8,446.3 L329,442.5 L333.8,448.9Z" fill="#530000" stroke="#530000" stroke-width="0.3" />
<path d="M325.4,490.5 L324,485.6 L324.2,488.5 L326,492.8Z" fill="#142e3b" stroke="#142e3b" stroke-width="0.3" />
<path d="M356.4,472.9 L351.3,467.9 L353.8,468.1 L357.6,472.6Z" fill="#306e8d" stroke="#306e8d" stroke-width="0.3" />
<path d="M326.4,477.4 L330.3,471 L328.4,473.5 L325.3,479.9Z" fill="#132d3a" stroke="#132d3a" stroke-width="0.3" />
<path d="M349,496.3 L350.8,492.2 L352.4,490.8 L350.5,495.3Z" fill="#317392" stroke="#317392" stroke-width="0.3" />
<path d="M341.4,463 L341.5,462.3 L341.2,463 L339.9,463.2Z" fill="#193a4a" stroke="#193a4a" stroke-width="0.3" />
<path d="M300.9,444.7 L295.3,446.2 L295.5,451.5 L301.3,449.7Z" fill="#7b0000" stroke="#7b0000" stroke-width="0.3" />
<path d="M341.5,456.9 L341.4,452.9 L338,447.4 L339.2,451.3Z" fill="#480000" stroke="#480000" stroke-width="0.3" />
<path d="M333.8,498.8 L331,497.9 L333.5,498.7 L335.6,499.4Z" fill="#214e63" stroke="#214e63" stroke-width="0.3" />
<path d="M311,465.6 L321.8,466.7 L325,467.6 L314.4,467.8Z" fill="#480000" stroke="#480000" stroke-width="0.3" />
<path d="M355.1,488.3 L354.3,481.1 L355.6,480.4 L356.2,487.2Z" fill="#327494" stroke="#327494" stroke-width="0.3" />
<path d="M293.6,454.9 L295.8,458.9 L299.6,463.3 L297.4,460Z" fill="#770000" stroke="#770000" stroke-width="0.3" />
<path d="M320.9,465.1 L331.9,465.3 L333.1,465.8 L321.8,466.7Z" fill="#400000" stroke="#400000" stroke-width="0.3" />
<path d="M337.9,460.6 L341,463.1 L338.9,462.8 L333.9,460.1Z" fill="#370000" stroke="#370000" stroke-width="0.3" />
<path d="M324.9,445.9 L316.4,440.4 L311.9,442.3 L321.7,447Z" fill="#610000" stroke="#610000" stroke-width="0.3" />
<path d="M356.8,479.8 L352.9,472.8 L354.7,473 L357.8,479.3Z" fill="#30708f" stroke="#30708f" stroke-width="0.3" />
<path d="M325.3,479.9 L328.4,473.5 L326.6,476.4 L324.4,482.7Z" fill="#132b37" stroke="#132b37" stroke-width="0.3" />
<path d="M342.6,458.2 L343.1,456.4 L341.4,451.3 L341.4,452.9Z" fill="#3e0000" stroke="#3e0000" stroke-width="0.3" />
<path d="M347.4,497.2 L348.9,493.7 L350.8,492.2 L349,496.3Z" fill="#30708f" stroke="#30708f" stroke-width="0.3" />
<path d="M348.5,461.3 L346,461.4 L344.5,461.3 L346.5,461Z" fill="#235167" stroke="#235167" stroke-width="0.3" />
<path d="M353.8,468.1 L348,465 L351,465 L355.4,467.8Z" fill="#2d6986" stroke="#2d6986" stroke-width="0.3" />
<path d="M326,492.8 L324.2,488.5 L325.2,491.2 L327.2,494.9Z" fill="#15313e" stroke="#15313e" stroke-width="0.3" />
<path d="M336.3,465.9 L339.7,463.5 L340.4,463.5 L335.6,466.1Z" fill="#173544" stroke="#173544" stroke-width="0.3" />
<path d="M335.6,499.4 L333.5,498.7 L336.2,498.9 L337.6,499.7Z" fill="#24546b" stroke="#24546b" stroke-width="0.3" />
<path d="M345.7,498.1 L346.8,495.2 L348.9,493.7 L347.4,497.2Z" fill="#2f6d8b" stroke="#2f6d8b" stroke-width="0.3" />
<path d="M349.4,462.1 L346.1,462 L346,461.4 L348.5,461.3Z" fill="#285c75" stroke="#285c75" stroke-width="0.3" />
<path d="M340.6,457.7 L339.2,451.3 L334.8,446.3 L337.8,452.8Z" fill="#500000" stroke="#500000" stroke-width="0.3" />
<path d="M337.6,499.7 L336.2,498.9 L339,498.6 L339.6,499.7Z" fill="#275a73" stroke="#275a73" stroke-width="0.3" />
<path d="M324.4,482.7 L326.6,476.4 L325.3,479.7 L324,485.6Z" fill="#122935" stroke="#122935" stroke-width="0.3" />
<path d="M343.7,498.9 L344.4,496.6 L346.8,495.2 L345.7,498.1Z" fill="#2d6986" stroke="#2d6986" stroke-width="0.3" />
<path d="M339.6,499.7 L339,498.6 L341.7,497.8 L341.7,499.4Z" fill="#29607a" stroke="#29607a" stroke-width="0.3" />
<path d="M353.9,489.5 L353,482.1 L354.3,481.1 L355.1,488.3Z" fill="#317291" stroke="#317291" stroke-width="0.3" />
<path d="M341.7,499.4 L341.7,497.8 L344.4,496.6 L343.7,498.9Z" fill="#2c6581" stroke="#2c6581" stroke-width="0.3" />
<path d="M346.5,461 L344.5,461.3 L342.6,462.2 L344.1,461.2Z" fill="#1d4457" stroke="#1d4457" stroke-width="0.3" />
<path d="M351,465 L345.7,463.5 L348.5,463 L352.6,464.3Z" fill="#2b6581" stroke="#2b6581" stroke-width="0.3" />
<path d="M341.5,460.5 L341.6,463.2 L340.6,461.8 L339.2,458.3Z" fill="#340000" stroke="#340000" stroke-width="0.3" />
<path d="M342.6,460.3 L341.8,462.8 L341.5,460.5 L341.4,457.2Z" fill="#310000" stroke="#310000" stroke-width="0.3" />
<path d="M354.7,473 L348.4,467.2 L351.3,467.9 L356.4,472.9Z" fill="#2d6a87" stroke="#2d6a87" stroke-width="0.3" />
<path d="M327.2,494.9 L325.2,491.2 L326.9,493.4 L328.8,496.6Z" fill="#173544" stroke="#173544" stroke-width="0.3" />
<path d="M355.6,480.4 L351.2,472.6 L352.9,472.8 L356.8,479.8Z" fill="#2f6d8b" stroke="#2f6d8b" stroke-width="0.3" />
<path d="M295.5,451.5 L293.6,454.9 L297.4,460 L299.3,456.9Z" fill="#820000" stroke="#820000" stroke-width="0.3" />
<path d="M343.2,460.2 L342.9,461.2 L343.1,458 L343.2,456.5Z" fill="#290000" stroke="#290000" stroke-width="0.3" />
<path d="M335.6,466.1 L340.4,463.5 L341.2,463.4 L335.1,466.4Z" fill="#173543" stroke="#173543" stroke-width="0.3" />
<path d="M348.6,447.8 L350.2,441.7 L346.9,442.6 L345.7,449.2Z" fill="#1e4558" stroke="#1e4558" stroke-width="0.3" />
<path d="M343.1,461.7 L342.2,462.1 L341.6,463.5 L341.5,462.3Z" fill="#193a4a" stroke="#193a4a" stroke-width="0.3" />
<path d="M342.9,460.5 L343.2,460.2 L343.2,456.5 L343.1,456.4Z" fill="#320000" stroke="#320000" stroke-width="0.3" />
<path d="M324,485.6 L325.3,479.7 L324.8,483.1 L324.2,488.5Z" fill="#112833" stroke="#112833" stroke-width="0.3" />
<path d="M321.7,447 L311.9,442.3 L309.7,445.7 L320.5,449.5Z" fill="#640000" stroke="#640000" stroke-width="0.3" />
<path d="M345.7,449.2 L346.9,442.6 L343.9,444.9 L343.1,452.2Z" fill="#224f65" stroke="#224f65" stroke-width="0.3" />
<path d="M348.5,463 L344.3,462.9 L346.1,462 L349.4,462.1Z" fill="#29607b" stroke="#29607b" stroke-width="0.3" />
<path d="M321.8,466.7 L333.1,465.8 L335.9,465.5 L325,467.6Z" fill="#3f0000" stroke="#3f0000" stroke-width="0.3" />
<path d="M352.4,490.8 L351.8,483.4 L353,482.1 L353.9,489.5Z" fill="#30708f" stroke="#30708f" stroke-width="0.3" />
<path d="M309.7,445.7 L300.9,444.7 L301.3,449.7 L310.4,450.1Z" fill="#700000" stroke="#700000" stroke-width="0.3" />
<path d="M367.6,462.4 L362.9,464.2 L354.7,462.7 L358.6,461Z" fill="#460000" stroke="#460000" stroke-width="0.3" />
<path d="M346.6,453.5 L348.6,447.8 L345.7,449.2 L344.2,455.4Z" fill="#1f475b" stroke="#1f475b" stroke-width="0.3" />
<path d="M351.1,447.8 L353.1,442 L350.2,441.7 L348.6,447.8Z" fill="#183948" stroke="#183948" stroke-width="0.3" />
<path d="M348.6,453.2 L351.1,447.8 L348.6,447.8 L346.6,453.5Z" fill="#193b4b" stroke="#193b4b" stroke-width="0.3" />
<path d="M305.6,466.2 L314.4,467.8 L320.1,468.9 L312,468.5Z" fill="#510000" stroke="#510000" stroke-width="0.3" />
<path d="M339.9,463.2 L341.2,463 L342.2,463.6 L339.4,463.4Z" fill="#173645" stroke="#173645" stroke-width="0.3" />
<path d="M346.9,442.6 L347.6,436.3 L344.3,437.8 L343.9,444.9Z" fill="#224f65" stroke="#224f65" stroke-width="0.3" />
<path d="M369.3,460.2 L367.6,462.4 L358.6,461 L360,459.4Z" fill="#450000" stroke="#450000" stroke-width="0.3" />
<path d="M338.9,457.7 L333.8,448.9 L329.2,446.6 L336.3,455.2Z" fill="#550000" stroke="#550000" stroke-width="0.3" />
<path d="M336.3,455.2 L329.2,446.6 L324.9,445.9 L333.8,454Z" fill="#580000" stroke="#580000" stroke-width="0.3" />
<path d="M360,459.4 L358.6,461 L350.7,461.1 L351.8,460Z" fill="#500000" stroke="#500000" stroke-width="0.3" />
<path d="M351.3,467.9 L344,464.2 L348,465 L353.8,468.1Z" fill="#2b6480" stroke="#2b6480" stroke-width="0.3" />
<path d="M350.2,441.7 L351,435.8 L347.6,436.3 L346.9,442.6Z" fill="#1d4457" stroke="#1d4457" stroke-width="0.3" />
<path d="M341.8,462.1 L342.6,458.2 L341.4,452.9 L341.5,456.9Z" fill="#490000" stroke="#490000" stroke-width="0.3" />
<path d="M328.8,496.6 L326.9,493.4 L329.3,495 L331,497.9Z" fill="#1a3c4c" stroke="#1a3c4c" stroke-width="0.3" />
<path d="M342.9,461.2 L341.9,462.8 L342.6,460.3 L343.1,458Z" fill="#2d0000" stroke="#2d0000" stroke-width="0.3" />
<path d="M335.1,466.4 L341.2,463.4 L341.6,463.3 L334.4,467Z" fill="#173543" stroke="#173543" stroke-width="0.3" />
<path d="M343.9,444.9 L344.3,437.8 L341.4,440.1 L341.4,448Z" fill="#25566e" stroke="#25566e" stroke-width="0.3" />
<path d="M330.3,471 L337.5,465.4 L334.7,467.4 L328.4,473.5Z" fill="#15313e" stroke="#15313e" stroke-width="0.3" />
<path d="M314.4,467.8 L325,467.6 L329.8,467.5 L320.1,468.9Z" fill="#460000" stroke="#460000" stroke-width="0.3" />
<path d="M362.9,464.2 L355.9,465.2 L348.9,463.6 L354.7,462.7Z" fill="#4c0000" stroke="#4c0000" stroke-width="0.3" />
<path d="M358.6,461 L354.7,462.7 L347.6,462.4 L350.7,461.1Z" fill="#500000" stroke="#500000" stroke-width="0.3" />
<path d="M343.1,452.2 L343.9,444.9 L341.4,448 L341.5,456.2Z" fill="#25566e" stroke="#25566e" stroke-width="0.3" />
<path d="M371.1,467.3 L363,468 L355.9,465.2 L362.9,464.2Z" fill="#450000" stroke="#450000" stroke-width="0.3" />
<path d="M332,469.2 L339.7,464.1 L337.5,465.4 L330.3,471Z" fill="#163341" stroke="#163341" stroke-width="0.3" />
<path d="M328.4,473.5 L334.7,467.4 L331.7,470.2 L326.6,476.4Z" fill="#142e3b" stroke="#142e3b" stroke-width="0.3" />
<path d="M354.3,481.1 L349.8,472.6 L351.2,472.6 L355.6,480.4Z" fill="#2e6a88" stroke="#2e6a88" stroke-width="0.3" />
<path d="M349.5,454.6 L352.7,449.4 L351.1,447.8 L348.6,453.2Z" fill="#15303e" stroke="#15303e" stroke-width="0.3" />
<path d="M344.2,455.4 L345.7,449.2 L343.1,452.2 L342.2,459Z" fill="#235168" stroke="#235168" stroke-width="0.3" />
<path d="M299.6,463.3 L305.6,466.2 L312,468.5 L306.5,466.7Z" fill="#5f0000" stroke="#5f0000" stroke-width="0.3" />
<path d="M376.6,465.3 L371.1,467.3 L362.9,464.2 L367.6,462.4Z" fill="#3d0000" stroke="#3d0000" stroke-width="0.3" />
<path d="M333.9,463.7 L341.9,463.3 L341.6,463.3 L332.2,464.5Z" fill="#390000" stroke="#390000" stroke-width="0.3" />
<path d="M346,457.7 L348.6,453.2 L346.6,453.5 L344.5,458.2Z" fill="#1b3e4f" stroke="#1b3e4f" stroke-width="0.3" />
<path d="M350.8,492.2 L350.4,485.1 L351.8,483.4 L352.4,490.8Z" fill="#2f6e8c" stroke="#2f6e8c" stroke-width="0.3" />
<path d="M333.4,467.8 L341.1,463.5 L339.7,464.1 L332,469.2Z" fill="#163443" stroke="#163443" stroke-width="0.3" />
<path d="M334.4,467 L341.6,463.3 L341.1,463.5 L333.4,467.8Z" fill="#173543" stroke="#173543" stroke-width="0.3" />
<path d="M352.7,449.4 L355.2,443.6 L353.1,442 L351.1,447.8Z" fill="#142e3b" stroke="#142e3b" stroke-width="0.3" />
<path d="M352.9,472.8 L345.6,466 L348.4,467.2 L354.7,473Z" fill="#2c6581" stroke="#2c6581" stroke-width="0.3" />
<path d="M341.6,462.9 L341.5,456.9 L339.2,451.3 L340.6,457.7Z" fill="#4e0000" stroke="#4e0000" stroke-width="0.3" />
<path d="M340.6,461.8 L342,463.7 L341,463.1 L337.9,460.6Z" fill="#380000" stroke="#380000" stroke-width="0.3" />
<path d="M346,461.4 L343.7,462.1 L342.6,462.4 L344.5,461.3Z" fill="#204a5f" stroke="#204a5f" stroke-width="0.3" />
<path d="M358.6,458.3 L360,459.4 L351.8,460 L350.7,459.6Z" fill="#580000" stroke="#580000" stroke-width="0.3" />
<path d="M341,461.5 L337.8,452.8 L333.8,448.9 L338.9,457.7Z" fill="#530000" stroke="#530000" stroke-width="0.3" />
<path d="M324.2,488.5 L324.8,483.1 L325.2,486.2 L325.2,491.2Z" fill="#122934" stroke="#122934" stroke-width="0.3" />
<path d="M353.1,442 L354.1,436.4 L351,435.8 L350.2,441.7Z" fill="#183948" stroke="#183948" stroke-width="0.3" />
<path d="M341.4,448 L341.4,440.1 L339,442.9 L339.9,451.7Z" fill="#275b75" stroke="#275b75" stroke-width="0.3" />
<path d="M341.9,462.5 L342.9,460.5 L343.1,456.4 L342.6,458.2Z" fill="#420000" stroke="#420000" stroke-width="0.3" />
<path d="M333.8,454 L324.9,445.9 L321.7,447 L332.1,454.3Z" fill="#5b0000" stroke="#5b0000" stroke-width="0.3" />
<path d="M332.2,464.5 L341.6,463.3 L342,463.2 L331.9,465.3Z" fill="#390000" stroke="#390000" stroke-width="0.3" />
<path d="M346.1,462 L343.3,462.7 L343.7,462.1 L346,461.4Z" fill="#25576f" stroke="#25576f" stroke-width="0.3" />
<path d="M367.7,458.3 L369.3,460.2 L360,459.4 L358.6,458.3Z" fill="#4e0000" stroke="#4e0000" stroke-width="0.3" />
<path d="M326.6,476.4 L331.7,470.2 L329.2,473.5 L325.3,479.7Z" fill="#132b37" stroke="#132b37" stroke-width="0.3" />
<path d="M336.3,463 L342.7,463.2 L341.9,463.3 L333.9,463.7Z" fill="#390000" stroke="#390000" stroke-width="0.3" />
<path d="M344.5,458.2 L346.6,453.5 L344.2,455.4 L342.6,460.6Z" fill="#214c61" stroke="#214c61" stroke-width="0.3" />
<path d="M344.1,461.2 L342.6,462.2 L341.3,463.9 L342.2,462.1Z" fill="#193b4b" stroke="#193b4b" stroke-width="0.3" />
<path d="M346.1,458.9 L349.5,454.6 L348.6,453.2 L346,457.7Z" fill="#163342" stroke="#163342" stroke-width="0.3" />
<path d="M363,468 L353.3,467 L347.6,464.7 L355.9,465.2Z" fill="#4e0000" stroke="#4e0000" stroke-width="0.3" />
<path d="M348,465 L341.1,463.3 L345.7,463.5 L351,465Z" fill="#2a607b" stroke="#2a607b" stroke-width="0.3" />
<path d="M301.3,449.7 L295.5,451.5 L299.3,456.9 L305.1,454.9Z" fill="#7a0000" stroke="#7a0000" stroke-width="0.3" />
<path d="M331,497.9 L329.3,495 L332.2,495.8 L333.5,498.7Z" fill="#1d4457" stroke="#1d4457" stroke-width="0.3" />
<path d="M351.8,460 L350.7,461.1 L345,462.1 L345.9,461.4Z" fill="#5a0000" stroke="#5a0000" stroke-width="0.3" />
<path d="M378.6,462.6 L376.6,465.3 L367.6,462.4 L369.3,460.2Z" fill="#3a0000" stroke="#3a0000" stroke-width="0.3" />
<path d="M348.9,493.7 L348.8,487.1 L350.4,485.1 L350.8,492.2Z" fill="#2e6c8a" stroke="#2e6c8a" stroke-width="0.3" />
<path d="M354.7,462.7 L348.9,463.6 L342.9,463.3 L347.6,462.4Z" fill="#540000" stroke="#540000" stroke-width="0.3" />
<path d="M341.5,456.2 L341.4,448 L339.9,451.7 L341.2,460.8Z" fill="#275a73" stroke="#275a73" stroke-width="0.3" />
<path d="M353,482.1 L348.8,473 L349.8,472.6 L354.3,481.1Z" fill="#2d6885" stroke="#2d6885" stroke-width="0.3" />
<path d="M350.7,459.6 L351.8,460 L345.9,461.4 L345,461.4Z" fill="#630000" stroke="#630000" stroke-width="0.3" />
<path d="M348.6,457.2 L352.7,452.1 L352.7,449.4 L349.5,454.6Z" fill="#132c39" stroke="#132c39" stroke-width="0.3" />
<path d="M369,472 L358.3,470.2 L353.3,467 L363,468Z" fill="#490000" stroke="#490000" stroke-width="0.3" />
<path d="M339.9,451.7 L339,442.9 L337.3,445.9 L339.4,455.5Z" fill="#285e78" stroke="#285e78" stroke-width="0.3" />
<path d="M325,467.6 L335.9,465.5 L339.7,464.2 L329.8,467.5Z" fill="#3d0000" stroke="#3d0000" stroke-width="0.3" />
<path d="M297.4,460 L299.6,463.3 L306.5,466.7 L304.5,464Z" fill="#710000" stroke="#710000" stroke-width="0.3" />
<path d="M354.8,458.4 L358.6,458.3 L350.7,459.6 L347.6,460.3Z" fill="#630000" stroke="#630000" stroke-width="0.3" />
<path d="M344.3,437.8 L344.5,431.9 L341.4,433.4 L341.4,440.1Z" fill="#265871" stroke="#265871" stroke-width="0.3" />
<path d="M350.7,461.1 L347.6,462.4 L342.5,463.1 L345,462.1Z" fill="#580000" stroke="#580000" stroke-width="0.3" />
<path d="M378,471.8 L369,472 L363,468 L371.1,467.3Z" fill="#400000" stroke="#400000" stroke-width="0.3" />
<path d="M355.9,465.2 L347.6,464.7 L342,463.4 L348.9,463.6Z" fill="#540000" stroke="#540000" stroke-width="0.3" />
<path d="M343.7,461 L346,457.7 L344.5,458.2 L342.6,461.7Z" fill="#1d4356" stroke="#1d4356" stroke-width="0.3" />
<path d="M345.7,463.5 L340.2,463.4 L344.3,462.9 L348.5,463Z" fill="#285e78" stroke="#285e78" stroke-width="0.3" />
<path d="M325.3,479.7 L329.2,473.5 L327.5,477.1 L324.8,483.1Z" fill="#112834" stroke="#112834" stroke-width="0.3" />
<path d="M355.2,443.6 L356.5,437.9 L354.1,436.4 L353.1,442Z" fill="#142e3b" stroke="#142e3b" stroke-width="0.3" />
<path d="M347.6,436.3 L347.7,431 L344.5,431.9 L344.3,437.8Z" fill="#235167" stroke="#235167" stroke-width="0.3" />
<path d="M352.7,452.1 L356.1,446.3 L355.2,443.6 L352.7,449.4Z" fill="#122935" stroke="#122935" stroke-width="0.3" />
<path d="M342.2,459 L343.1,452.2 L341.5,456.2 L341.6,463.8Z" fill="#265870" stroke="#265870" stroke-width="0.3" />
<path d="M331.9,465.3 L342,463.2 L343.4,462.6 L333.1,465.8Z" fill="#390000" stroke="#390000" stroke-width="0.3" />
<path d="M351.2,472.6 L343.4,464.8 L345.6,466 L352.9,472.8Z" fill="#2a627d" stroke="#2a627d" stroke-width="0.3" />
<path d="M344.5,461.3 L342.6,462.4 L341.2,463.9 L342.6,462.2Z" fill="#1a3d4e" stroke="#1a3d4e" stroke-width="0.3" />
<path d="M346.8,495.2 L346.9,489.3 L348.8,487.1 L348.9,493.7Z" fill="#2d6986" stroke="#2d6986" stroke-width="0.3" />
<path d="M333.5,498.7 L332.2,495.8 L335.4,495.8 L336.2,498.9Z" fill="#214d62" stroke="#214d62" stroke-width="0.3" />
<path d="M341.4,440.1 L341.4,433.4 L338.6,435.3 L339,442.9Z" fill="#285e78" stroke="#285e78" stroke-width="0.3" />
<path d="M344.3,461.3 L348.6,457.2 L349.5,454.6 L346.1,458.9Z" fill="#15303d" stroke="#15303d" stroke-width="0.3" />
<path d="M343.3,461.9 L346.1,458.9 L346,457.7 L343.7,461Z" fill="#173645" stroke="#173645" stroke-width="0.3" />
<path d="M348.4,467.2 L339.7,462.6 L344,464.2 L351.3,467.9Z" fill="#295f79" stroke="#295f79" stroke-width="0.3" />
<path d="M363.1,457.5 L367.7,458.3 L358.6,458.3 L354.8,458.4Z" fill="#5a0000" stroke="#5a0000" stroke-width="0.3" />
<path d="M320.5,449.5 L309.7,445.7 L310.4,450.1 L321.5,452.8Z" fill="#660000" stroke="#660000" stroke-width="0.3" />
<path d="M342.2,462.6 L341.7,463.2 L342.9,461.2 L343.2,460.2Z" fill="#2c0000" stroke="#2c0000" stroke-width="0.3" />
<path d="M325.2,491.2 L325.2,486.2 L326.6,488.8 L326.9,493.4Z" fill="#132c38" stroke="#132c38" stroke-width="0.3" />
<path d="M342,465.9 L340.6,457.7 L337.8,452.8 L341,461.5Z" fill="#520000" stroke="#520000" stroke-width="0.3" />
<path d="M332.1,454.3 L321.7,447 L320.5,449.5 L331.8,455.7Z" fill="#5d0000" stroke="#5d0000" stroke-width="0.3" />
<path d="M341.7,463.1 L342.2,462.6 L343.2,460.2 L342.9,460.5Z" fill="#380000" stroke="#380000" stroke-width="0.3" />
<path d="M351,435.8 L350.9,430.9 L347.7,431 L347.6,436.3Z" fill="#1f475b" stroke="#1f475b" stroke-width="0.3" />
<path d="M344.3,462.9 L340.6,463.6 L343.3,462.7 L346.1,462Z" fill="#275b75" stroke="#275b75" stroke-width="0.3" />
<path d="M342.6,460.6 L344.2,455.4 L342.2,459 L341.3,464.6Z" fill="#25566e" stroke="#25566e" stroke-width="0.3" />
<path d="M338.9,462.8 L343.5,463.1 L342.7,463.2 L336.3,463Z" fill="#3a0000" stroke="#3a0000" stroke-width="0.3" />
<path d="M351.8,483.4 L348.2,474.1 L348.8,473 L353,482.1Z" fill="#2c6784" stroke="#2c6784" stroke-width="0.3" />
<path d="M339.4,455.5 L337.3,445.9 L336.2,448.6 L339.7,458.8Z" fill="#295f7a" stroke="#295f7a" stroke-width="0.3" />
<path d="M347.6,460.3 L350.7,459.6 L345,461.4 L342.5,462.7Z" fill="#6c0000" stroke="#6c0000" stroke-width="0.3" />
<path d="M358.3,470.2 L347.3,466.3 L343.4,464.1 L353.3,467Z" fill="#530000" stroke="#530000" stroke-width="0.3" />
<path d="M344.4,496.6 L344.5,491.5 L346.9,489.3 L346.8,495.2Z" fill="#2c6682" stroke="#2c6682" stroke-width="0.3" />
<path d="M339,442.9 L338.6,435.3 L336.3,437.4 L337.3,445.9Z" fill="#2a627d" stroke="#2a627d" stroke-width="0.3" />
<path d="M336.2,498.9 L335.4,495.8 L338.7,494.9 L339,498.6Z" fill="#25556c" stroke="#25556c" stroke-width="0.3" />
<path d="M320.1,468.9 L329.8,467.5 L335.5,466.1 L327.1,468.5Z" fill="#430000" stroke="#430000" stroke-width="0.3" />
<path d="M376.8,460 L378.6,462.6 L369.3,460.2 L367.7,458.3Z" fill="#430000" stroke="#430000" stroke-width="0.3" />
<path d="M342.6,461.7 L344.5,458.2 L342.6,460.6 L341.2,464.2Z" fill="#235269" stroke="#235269" stroke-width="0.3" />
<path d="M341.2,460.8 L339.9,451.7 L339.4,455.5 L342.2,465.2Z" fill="#285d76" stroke="#285d76" stroke-width="0.3" />
<path d="M345.9,461.4 L345,462.1 L341.8,463.2 L342.5,462.7Z" fill="#620000" stroke="#620000" stroke-width="0.3" />
<path d="M341.7,497.8 L341.8,493.4 L344.5,491.5 L344.4,496.6Z" fill="#2a627d" stroke="#2a627d" stroke-width="0.3" />
<path d="M339,498.6 L338.7,494.9 L341.8,493.4 L341.7,497.8Z" fill="#285c76" stroke="#285c76" stroke-width="0.3" />
<path d="M349.8,472.6 L342,463.7 L343.4,464.8 L351.2,472.6Z" fill="#295f7a" stroke="#295f7a" stroke-width="0.3" />
<path d="M345.7,460.4 L351.1,455.4 L352.7,452.1 L348.6,457.2Z" fill="#142e3a" stroke="#142e3a" stroke-width="0.3" />
<path d="M331.7,470.2 L339.1,464.7 L335.1,467.8 L329.2,473.5Z" fill="#15303d" stroke="#15303d" stroke-width="0.3" />
<path d="M341.9,462.8 L340.5,464.5 L341.8,462.8 L342.6,460.3Z" fill="#350000" stroke="#350000" stroke-width="0.3" />
<path d="M384.1,469.8 L378,471.8 L371.1,467.3 L376.6,465.3Z" fill="#360000" stroke="#360000" stroke-width="0.3" />
<path d="M345,461.4 L345.9,461.4 L342.5,462.7 L341.8,463.1Z" fill="#6e0000" stroke="#6e0000" stroke-width="0.3" />
<path d="M312,468.5 L320.1,468.9 L327.1,468.5 L320,469.2Z" fill="#4d0000" stroke="#4d0000" stroke-width="0.3" />
<path d="M334.7,467.4 L343.4,462.5 L339.1,464.7 L331.7,470.2Z" fill="#163442" stroke="#163442" stroke-width="0.3" />
<path d="M343.7,462.1 L342.1,462.9 L341.4,463.5 L342.6,462.4Z" fill="#1d4255" stroke="#1d4255" stroke-width="0.3" />
<path d="M361.6,473.8 L350.1,468.8 L347.3,466.3 L358.3,470.2Z" fill="#500000" stroke="#500000" stroke-width="0.3" />
<path d="M348.9,459.9 L354.8,458.4 L347.6,460.3 L342.9,462.5Z" fill="#6c0000" stroke="#6c0000" stroke-width="0.3" />
<path d="M353.3,467 L343.4,464.1 L339.1,462.5 L347.6,464.7Z" fill="#570000" stroke="#570000" stroke-width="0.3" />
<path d="M343.3,462.7 L341.3,463.5 L342.1,462.9 L343.7,462.1Z" fill="#24546c" stroke="#24546c" stroke-width="0.3" />
<path d="M339.4,463.4 L342.2,463.6 L344.3,463.8 L339.7,463.5Z" fill="#15303e" stroke="#15303e" stroke-width="0.3" />
<path d="M342.7,465.4 L336.3,455.2 L333.8,454 L341.9,463.8Z" fill="#540000" stroke="#540000" stroke-width="0.3" />
<path d="M341.8,462.8 L340.9,464.6 L341.6,463.2 L341.5,460.5Z" fill="#380000" stroke="#380000" stroke-width="0.3" />
<path d="M340.6,464 L344.3,461.3 L346.1,458.9 L343.3,461.9Z" fill="#163442" stroke="#163442" stroke-width="0.3" />
<path d="M340.5,466.1 L341.9,462.5 L342.6,458.2 L341.8,462.1Z" fill="#4d0000" stroke="#4d0000" stroke-width="0.3" />
<path d="M354.1,436.4 L353.9,431.5 L350.9,430.9 L351,435.8Z" fill="#1a3c4d" stroke="#1a3c4d" stroke-width="0.3" />
<path d="M337.3,445.9 L336.3,437.4 L334.3,439.5 L336.2,448.6Z" fill="#2b6480" stroke="#2b6480" stroke-width="0.3" />
<path d="M339.7,458.8 L336.2,448.6 L335.5,450.9 L340.4,461.3Z" fill="#295f7a" stroke="#295f7a" stroke-width="0.3" />
<path d="M324.8,483.1 L327.5,477.1 L327,480.5 L325.2,486.2Z" fill="#112732" stroke="#112732" stroke-width="0.3" />
<path d="M333.1,465.8 L343.4,462.6 L345.7,461.3 L335.9,465.5Z" fill="#370000" stroke="#370000" stroke-width="0.3" />
<path d="M341.9,463.8 L333.8,454 L332.1,454.3 L341.6,463.3Z" fill="#540000" stroke="#540000" stroke-width="0.3" />
<path d="M342.1,462.8 L343.7,461 L342.6,461.7 L341.4,463.6Z" fill="#204a5f" stroke="#204a5f" stroke-width="0.3" />
<path d="M341.5,462.3 L341.6,463.5 L342.6,464.9 L341.2,463Z" fill="#163341" stroke="#163341" stroke-width="0.3" />
<path d="M310.4,450.1 L301.3,449.7 L305.1,454.9 L314,454.6Z" fill="#6f0000" stroke="#6f0000" stroke-width="0.3" />
<path d="M356.1,446.3 L358,440.4 L356.5,437.9 L355.2,443.6Z" fill="#112934" stroke="#112934" stroke-width="0.3" />
<path d="M340.2,464.2 L345.7,460.4 L348.6,457.2 L344.3,461.3Z" fill="#163341" stroke="#163341" stroke-width="0.3" />
<path d="M350.4,485.1 L347.6,475.8 L348.2,474.1 L351.8,483.4Z" fill="#2c6682" stroke="#2c6682" stroke-width="0.3" />
<path d="M341.3,463.5 L343.3,461.9 L343.7,461 L342.1,462.8Z" fill="#183848" stroke="#183848" stroke-width="0.3" />
<path d="M372.9,476.7 L361.6,473.8 L358.3,470.2 L369,472Z" fill="#460000" stroke="#460000" stroke-width="0.3" />
<path d="M340.9,467.7 L341.8,462.1 L341.5,456.9 L341.6,462.9Z" fill="#510000" stroke="#510000" stroke-width="0.3" />
<path d="M351.1,455.4 L355.7,449.6 L356.1,446.3 L352.7,452.1Z" fill="#122935" stroke="#122935" stroke-width="0.3" />
<path d="M343.5,467.9 L338.9,457.7 L336.3,455.2 L342.7,465.4Z" fill="#550000" stroke="#550000" stroke-width="0.3" />
<path d="M356,458.2 L363.1,457.5 L354.8,458.4 L348.9,459.9Z" fill="#650000" stroke="#650000" stroke-width="0.3" />
<path d="M329.8,467.5 L339.7,464.2 L344,461.9 L335.5,466.1Z" fill="#3a0000" stroke="#3a0000" stroke-width="0.3" />
<path d="M348.8,473 L341.6,463.3 L342,463.7 L349.8,472.6Z" fill="#295e79" stroke="#295e79" stroke-width="0.3" />
<path d="M341.7,463.2 L340.5,464.3 L341.9,462.8 L342.9,461.2Z" fill="#340000" stroke="#340000" stroke-width="0.3" />
<path d="M347.6,462.4 L342.9,463.3 L338.8,463.8 L342.5,463.1Z" fill="#5a0000" stroke="#5a0000" stroke-width="0.3" />
<path d="M340.5,465 L341.7,463.1 L342.9,460.5 L341.9,462.5Z" fill="#4c0000" stroke="#4c0000" stroke-width="0.3" />
<path d="M344,464.2 L335.5,462 L341.1,463.3 L348,465Z" fill="#275b74" stroke="#275b74" stroke-width="0.3" />
<path d="M299.3,456.9 L297.4,460 L304.5,464 L306.3,461.3Z" fill="#7b0000" stroke="#7b0000" stroke-width="0.3" />
<path d="M345.6,466 L335.8,460.3 L339.7,462.6 L348.4,467.2Z" fill="#265971" stroke="#265971" stroke-width="0.3" />
<path d="M329.2,473.5 L335.1,467.8 L332,471.3 L327.5,477.1Z" fill="#132c38" stroke="#132c38" stroke-width="0.3" />
<path d="M337.5,465.4 L347.3,461.2 L343.4,462.5 L334.7,467.4Z" fill="#193a4a" stroke="#193a4a" stroke-width="0.3" />
<path d="M326.9,493.4 L326.6,488.8 L329,490.5 L329.3,495Z" fill="#163341" stroke="#163341" stroke-width="0.3" />
<path d="M345,462.1 L342.5,463.1 L339.9,464 L341.8,463.2Z" fill="#5c0000" stroke="#5c0000" stroke-width="0.3" />
<path d="M341.6,463.3 L332.1,454.3 L331.8,455.7 L342,463.7Z" fill="#540000" stroke="#540000" stroke-width="0.3" />
<path d="M348.9,463.6 L342,463.4 L337.4,463.1 L342.9,463.3Z" fill="#5a0000" stroke="#5a0000" stroke-width="0.3" />
<path d="M342.9,462.5 L347.6,460.3 L342.5,462.7 L338.8,465.4Z" fill="#730000" stroke="#730000" stroke-width="0.3" />
<path d="M342.5,462.7 L345,461.4 L341.8,463.1 L339.9,464.8Z" fill="#730000" stroke="#730000" stroke-width="0.3" />
<path d="M340.4,461.3 L335.5,450.9 L335,452.6 L341.2,462.9Z" fill="#295f79" stroke="#295f79" stroke-width="0.3" />
<path d="M331.8,455.7 L320.5,449.5 L321.5,452.8 L333,457.9Z" fill="#5d0000" stroke="#5d0000" stroke-width="0.3" />
<path d="M348.2,474.1 L341.9,463.8 L341.6,463.3 L348.8,473Z" fill="#295f79" stroke="#295f79" stroke-width="0.3" />
<path d="M341.1,463.6 L348.1,458.9 L351.1,455.4 L345.7,460.4Z" fill="#15313f" stroke="#15313f" stroke-width="0.3" />
<path d="M341.6,463.8 L341.5,456.2 L341.2,460.8 L342.6,469Z" fill="#29607a" stroke="#29607a" stroke-width="0.3" />
<path d="M341,463.9 L341.6,463.3 L342.2,462.6 L341.7,463.1Z" fill="#4c0000" stroke="#4c0000" stroke-width="0.3" />
<path d="M350.1,468.8 L339.7,461.9 L337.5,460.6 L347.3,466.3Z" fill="#5b0000" stroke="#5b0000" stroke-width="0.3" />
<path d="M306.5,466.7 L312,468.5 L320,469.2 L315.2,468.4Z" fill="#590000" stroke="#590000" stroke-width="0.3" />
<path d="M342.2,465.2 L339.4,455.5 L339.7,458.8 L344.3,469Z" fill="#2a627e" stroke="#2a627e" stroke-width="0.3" />
<path d="M342,463.1 L348.9,459.9 L342.9,462.5 L337.4,466.3Z" fill="#730000" stroke="#730000" stroke-width="0.3" />
<path d="M336.2,448.6 L334.3,439.5 L332.7,441.4 L335.5,450.9Z" fill="#2c6581" stroke="#2c6581" stroke-width="0.3" />
<path d="M342.5,462.7 L341.8,463.2 L341,463.7 L341.6,463.3Z" fill="#5e0000" stroke="#5e0000" stroke-width="0.3" />
<path d="M351.4,471 L341.1,462.9 L339.7,461.9 L350.1,468.8Z" fill="#580000" stroke="#580000" stroke-width="0.3" />
<path d="M339.1,464.7 L347.6,460.6 L342,463.1 L335.1,467.8Z" fill="#183747" stroke="#183747" stroke-width="0.3" />
<path d="M327.1,468.5 L335.5,466.1 L341.1,463.6 L334.2,466.8Z" fill="#3e0000" stroke="#3e0000" stroke-width="0.3" />
<path d="M347.6,460.6 L356,458.2 L348.9,459.9 L342,463.1Z" fill="#6e0000" stroke="#6e0000" stroke-width="0.3" />
<path d="M335.5,466.1 L344,461.9 L348.1,458.9 L341.1,463.6Z" fill="#183747" stroke="#183747" stroke-width="0.3" />
<path d="M342,463.7 L331.8,455.7 L333,457.9 L343.4,464.8Z" fill="#530000" stroke="#530000" stroke-width="0.3" />
<path d="M341.3,463.5 L340.6,464 L341.6,463.3 L342.1,462.9Z" fill="#4e0000" stroke="#4e0000" stroke-width="0.3" />
<path d="M348.8,487.1 L346.9,478.1 L347.6,475.8 L350.4,485.1Z" fill="#2c6581" stroke="#2c6581" stroke-width="0.3" />
<path d="M334.2,466.8 L341.1,463.6 L345.7,460.4 L340.2,464.2Z" fill="#380000" stroke="#380000" stroke-width="0.3" />
<path d="M343.8,471.3 L341,461.5 L338.9,457.7 L343.5,467.9Z" fill="#2a627e" stroke="#2a627e" stroke-width="0.3" />
<path d="M371.4,458.2 L376.8,460 L367.7,458.3 L363.1,457.5Z" fill="#520000" stroke="#520000" stroke-width="0.3" />
<path d="M343.4,464.8 L333,457.9 L335.8,460.3 L345.6,466Z" fill="#510000" stroke="#510000" stroke-width="0.3" />
<path d="M341.6,463.3 L342.1,462.8 L341.4,463.6 L341,464.1Z" fill="#600000" stroke="#600000" stroke-width="0.3" />
<path d="M341.6,470.6 L341.6,462.9 L340.6,457.7 L342,465.9Z" fill="#29607a" stroke="#29607a" stroke-width="0.3" />
<path d="M335.1,467.8 L342,463.1 L337.4,466.3 L332,471.3Z" fill="#15313f" stroke="#15313f" stroke-width="0.3" />
<path d="M341.2,462.9 L335,452.6 L334.3,453.6 L341.6,463.3Z" fill="#295f79" stroke="#295f79" stroke-width="0.3" />
<path d="M362.8,477.3 L351.4,471 L350.1,468.8 L361.6,473.8Z" fill="#4f0000" stroke="#4f0000" stroke-width="0.3" />
<path d="M347.6,475.8 L342.7,465.4 L341.9,463.8 L348.2,474.1Z" fill="#295f79" stroke="#295f79" stroke-width="0.3" />
<path d="M338.1,465.3 L340.6,464 L343.3,461.9 L341.3,463.5Z" fill="#380000" stroke="#380000" stroke-width="0.3" />
<path d="M335.5,466.4 L340.2,464.2 L344.3,461.3 L340.6,464Z" fill="#390000" stroke="#390000" stroke-width="0.3" />
<path d="M341.1,463.3 L334.2,463.1 L340.2,463.4 L345.7,463.5Z" fill="#520000" stroke="#520000" stroke-width="0.3" />
<path d="M351.1,472.4 L341.6,463.3 L341.1,462.9 L351.4,471Z" fill="#570000" stroke="#570000" stroke-width="0.3" />
<path d="M340.6,463.6 L338.1,464.6 L341.3,463.5 L343.3,462.7Z" fill="#500000" stroke="#500000" stroke-width="0.3" />
<path d="M356.5,437.9 L356.4,433 L353.9,431.5 L354.1,436.4Z" fill="#163341" stroke="#163341" stroke-width="0.3" />
<path d="M335.9,465.5 L345.7,461.3 L348.5,459.2 L339.7,464.2Z" fill="#193a4a" stroke="#193a4a" stroke-width="0.3" />
<path d="M348.1,458.9 L354,453.1 L355.7,449.6 L351.1,455.4Z" fill="#132c38" stroke="#132c38" stroke-width="0.3" />
<path d="M347.3,466.3 L337.5,460.6 L334.6,459.5 L343.4,464.1Z" fill="#265971" stroke="#265971" stroke-width="0.3" />
<path d="M386.3,466.8 L384.1,469.8 L376.6,465.3 L378.6,462.6Z" fill="#300000" stroke="#300000" stroke-width="0.3" />
<path d="M347.6,464.7 L339.1,462.5 L335,461.7 L342,463.4Z" fill="#275b74" stroke="#275b74" stroke-width="0.3" />
<path d="M341.4,463.6 L342.6,461.7 L341.2,464.2 L340.3,466.2Z" fill="#600000" stroke="#600000" stroke-width="0.3" />
<path d="M340.2,463.4 L335.5,464.3 L340.6,463.6 L344.3,462.9Z" fill="#520000" stroke="#520000" stroke-width="0.3" />
<path d="M342.6,462.4 L341.4,463.5 L340.3,465.5 L341.2,463.9Z" fill="#770000" stroke="#770000" stroke-width="0.3" />
<path d="M341.6,463.3 L334.3,453.6 L333.3,454 L341.1,462.9Z" fill="#295e79" stroke="#295e79" stroke-width="0.3" />
<path d="M343.4,462.5 L353.4,459.2 L347.6,460.6 L339.1,464.7Z" fill="#720000" stroke="#720000" stroke-width="0.3" />
<path d="M320,469.2 L327.1,468.5 L334.2,466.8 L328.3,468.4Z" fill="#470000" stroke="#470000" stroke-width="0.3" />
<path d="M344.3,469 L339.7,458.8 L340.4,461.3 L346.9,471.6Z" fill="#570000" stroke="#570000" stroke-width="0.3" />
<path d="M327.5,477.1 L332,471.3 L330.3,474.7 L327,480.5Z" fill="#122935" stroke="#122935" stroke-width="0.3" />
<path d="M341.3,464.6 L342.2,459 L341.6,463.8 L341.6,469.9Z" fill="#5a0000" stroke="#5a0000" stroke-width="0.3" />
<path d="M321.5,452.8 L310.4,450.1 L314,454.6 L324.8,456.4Z" fill="#650000" stroke="#650000" stroke-width="0.3" />
<path d="M339.9,464.8 L341.8,463.1 L341,463.9 L339.4,465.7Z" fill="#183848" stroke="#183848" stroke-width="0.3" />
<path d="M335.5,450.9 L332.7,441.4 L331.3,443.1 L335,452.6Z" fill="#2c6682" stroke="#2c6682" stroke-width="0.3" />
<path d="M337.4,466.3 L342.9,462.5 L338.8,465.4 L334.5,469.5Z" fill="#163341" stroke="#163341" stroke-width="0.3" />
<path d="M325.2,486.2 L327,480.5 L327.8,483.2 L326.6,488.8Z" fill="#112934" stroke="#112934" stroke-width="0.3" />
<path d="M382.4,477.1 L372.9,476.7 L369,472 L378,471.8Z" fill="#3c0000" stroke="#3c0000" stroke-width="0.3" />
<path d="M341.6,463.2 L341.6,464.5 L342,463.7 L340.6,461.8Z" fill="#163341" stroke="#163341" stroke-width="0.3" />
<path d="M339.4,465.7 L341,463.9 L341.7,463.1 L340.5,465Z" fill="#204a5f" stroke="#204a5f" stroke-width="0.3" />
<path d="M349.4,472.7 L341.2,462.9 L341.6,463.3 L351.1,472.4Z" fill="#580000" stroke="#580000" stroke-width="0.3" />
<path d="M339.7,464.1 L350.1,460.9 L347.3,461.2 L337.5,465.4Z" fill="#750000" stroke="#750000" stroke-width="0.3" />
<path d="M355.7,449.6 L358.5,443.4 L358,440.4 L356.1,446.3Z" fill="#112732" stroke="#112732" stroke-width="0.3" />
<path d="M346.9,478.1 L343.5,467.9 L342.7,465.4 L347.6,475.8Z" fill="#295f7a" stroke="#295f7a" stroke-width="0.3" />
<path d="M346.9,489.3 L345.8,481 L346.9,478.1 L348.8,487.1Z" fill="#2b6480" stroke="#2b6480" stroke-width="0.3" />
<path d="M329.3,495 L329,490.5 L332,491.2 L332.2,495.8Z" fill="#1a3c4d" stroke="#1a3c4d" stroke-width="0.3" />
<path d="M341.2,464.2 L342.6,460.6 L341.3,464.6 L340.6,468.5Z" fill="#5e0000" stroke="#5e0000" stroke-width="0.3" />
<path d="M338.8,465.4 L342.5,462.7 L339.9,464.8 L337,467.8Z" fill="#163442" stroke="#163442" stroke-width="0.3" />
<path d="M342.2,462.1 L341.3,463.9 L341.6,466.2 L341.6,463.5Z" fill="#740000" stroke="#740000" stroke-width="0.3" />
<path d="M346.9,471.6 L340.4,461.3 L341.2,462.9 L349.4,472.7Z" fill="#580000" stroke="#580000" stroke-width="0.3" />
<path d="M341,463.1 L343.8,463.3 L343.5,463.1 L338.9,462.8Z" fill="#15303e" stroke="#15303e" stroke-width="0.3" />
<path d="M341.8,463.2 L339.9,464 L339.4,464.6 L341,463.7Z" fill="#24546c" stroke="#24546c" stroke-width="0.3" />
<path d="M339.7,462.6 L329.7,459.6 L335.5,462 L344,464.2Z" fill="#550000" stroke="#550000" stroke-width="0.3" />
<path d="M328.3,468.4 L334.2,466.8 L340.2,464.2 L335.5,466.4Z" fill="#400000" stroke="#400000" stroke-width="0.3" />
<path d="M333,457.9 L321.5,452.8 L324.8,456.4 L335.8,460.3Z" fill="#5c0000" stroke="#5c0000" stroke-width="0.3" />
<path d="M341,463.7 L339.4,464.6 L340.5,464.3 L341.7,463.2Z" fill="#1d4255" stroke="#1d4255" stroke-width="0.3" />
<path d="M339.7,464.2 L348.5,459.2 L351.5,456.4 L344,461.9Z" fill="#163442" stroke="#163442" stroke-width="0.3" />
<path d="M363.2,457.8 L371.4,458.2 L363.1,457.5 L356,458.2Z" fill="#5f0000" stroke="#5f0000" stroke-width="0.3" />
<path d="M337.2,465.3 L338.1,465.3 L341.3,463.5 L340.6,464Z" fill="#3e0000" stroke="#3e0000" stroke-width="0.3" />
<path d="M305.1,454.9 L299.3,456.9 L306.3,461.3 L311.7,459.3Z" fill="#760000" stroke="#760000" stroke-width="0.3" />
<path d="M342.6,462.2 L341.2,463.9 L340.6,466.4 L341.3,463.9Z" fill="#770000" stroke="#770000" stroke-width="0.3" />
<path d="M344,461.9 L351.5,456.4 L354,453.1 L348.1,458.9Z" fill="#15303d" stroke="#15303d" stroke-width="0.3" />
<path d="M332,471.3 L337.4,466.3 L334.5,469.5 L330.3,474.7Z" fill="#142e3a" stroke="#142e3a" stroke-width="0.3" />
<path d="M341.1,462.9 L333.3,454 L331.8,454 L339.7,461.9Z" fill="#295f7a" stroke="#295f7a" stroke-width="0.3" />
<path d="M344.5,431.9 L344.2,427.7 L341.4,428.5 L341.4,433.4Z" fill="#285c76" stroke="#285c76" stroke-width="0.3" />
<path d="M341.4,433.4 L341.4,428.5 L338.7,429.6 L338.6,435.3Z" fill="#2a627d" stroke="#2a627d" stroke-width="0.3" />
<path d="M338.1,464.6 L337.2,465.3 L340.6,464 L341.3,463.5Z" fill="#4a0000" stroke="#4a0000" stroke-width="0.3" />
<path d="M343.2,475.1 L342,465.9 L341,461.5 L343.8,471.3Z" fill="#285d76" stroke="#285d76" stroke-width="0.3" />
<path d="M338.6,468.5 L340.5,465 L341.9,462.5 L340.5,466.1Z" fill="#235269" stroke="#235269" stroke-width="0.3" />
<path d="M304.5,464 L306.5,466.7 L315.2,468.4 L313.5,466.6Z" fill="#680000" stroke="#680000" stroke-width="0.3" />
<path d="M353.4,459.2 L363.2,457.8 L356,458.2 L347.6,460.6Z" fill="#690000" stroke="#690000" stroke-width="0.3" />
<path d="M347.7,431 L347,427.3 L344.2,427.7 L344.5,431.9Z" fill="#25556c" stroke="#25556c" stroke-width="0.3" />
<path d="M344.5,491.5 L344.1,484 L345.8,481 L346.9,489.3Z" fill="#2a627d" stroke="#2a627d" stroke-width="0.3" />
<path d="M338.6,435.3 L338.7,429.6 L336.3,431 L336.3,437.4Z" fill="#2c6682" stroke="#2c6682" stroke-width="0.3" />
<path d="M335.8,460.3 L324.8,456.4 L329.7,459.6 L339.7,462.6Z" fill="#590000" stroke="#590000" stroke-width="0.3" />
<path d="M332.3,467.2 L335.5,466.4 L340.6,464 L338.1,465.3Z" fill="#400000" stroke="#400000" stroke-width="0.3" />
<path d="M345.8,481 L343.8,471.3 L343.5,467.9 L346.9,478.1Z" fill="#295f7a" stroke="#295f7a" stroke-width="0.3" />
<path d="M335,452.6 L331.3,443.1 L330,444.3 L334.3,453.6Z" fill="#2c6784" stroke="#2c6784" stroke-width="0.3" />
<path d="M339.7,463.5 L344.3,463.8 L347,463.7 L340.4,463.5Z" fill="#710000" stroke="#710000" stroke-width="0.3" />
<path d="M338.9,471.4 L340.5,466.1 L341.8,462.1 L340.9,467.7Z" fill="#25566e" stroke="#25566e" stroke-width="0.3" />
<path d="M342.5,463.1 L338.8,463.8 L336.9,464.7 L339.9,464Z" fill="#275b75" stroke="#275b75" stroke-width="0.3" />
<path d="M332.2,495.8 L332,491.2 L335.4,490.7 L335.4,495.8Z" fill="#1f475b" stroke="#1f475b" stroke-width="0.3" />
<path d="M341,464.1 L341.4,463.6 L340.3,466.2 L339.9,466.5Z" fill="#740000" stroke="#740000" stroke-width="0.3" />
<path d="M361.7,479.9 L351.1,472.4 L351.4,471 L362.8,477.3Z" fill="#4f0000" stroke="#4f0000" stroke-width="0.3" />
<path d="M342.6,469 L341.2,460.8 L342.2,465.2 L345.4,474.1Z" fill="#5a0000" stroke="#5a0000" stroke-width="0.3" />
<path d="M358,440.4 L358.2,435 L356.4,433 L356.5,437.9Z" fill="#132c38" stroke="#132c38" stroke-width="0.3" />
<path d="M341.4,463.5 L341,464.1 L339.9,466.5 L340.3,465.5Z" fill="#800000" stroke="#800000" stroke-width="0.3" />
<path d="M374,481.3 L362.8,477.3 L361.6,473.8 L372.9,476.7Z" fill="#460000" stroke="#460000" stroke-width="0.3" />
<path d="M315.2,468.4 L320,469.2 L328.3,468.4 L324.3,468.4Z" fill="#510000" stroke="#510000" stroke-width="0.3" />
<path d="M343.4,464.1 L334.6,459.5 L331.6,458.7 L339.1,462.5Z" fill="#295f79" stroke="#295f79" stroke-width="0.3" />
<path d="M337,467.8 L339.9,464.8 L339.4,465.7 L337.1,469Z" fill="#173645" stroke="#173645" stroke-width="0.3" />
<path d="M334.5,469.5 L338.8,465.4 L337,467.8 L333.6,472.2Z" fill="#15303d" stroke="#15303d" stroke-width="0.3" />
<path d="M341.8,493.4 L341.7,486.9 L344.1,484 L344.5,491.5Z" fill="#285e78" stroke="#285e78" stroke-width="0.3" />
<path d="M350.9,430.9 L349.8,427.4 L347,427.3 L347.7,431Z" fill="#214d62" stroke="#214d62" stroke-width="0.3" />
<path d="M336.3,437.4 L336.3,431 L334.1,432.5 L334.3,439.5Z" fill="#2d6986" stroke="#2d6986" stroke-width="0.3" />
<path d="M340.5,464.3 L338.6,465.4 L340.5,464.5 L341.9,462.8Z" fill="#1a3d4e" stroke="#1a3d4e" stroke-width="0.3" />
<path d="M339.7,461.9 L331.8,454 L330.1,453.7 L337.5,460.6Z" fill="#2a627d" stroke="#2a627d" stroke-width="0.3" />
<path d="M341.1,463.5 L351.5,461.3 L350.1,460.9 L339.7,464.1Z" fill="#730000" stroke="#730000" stroke-width="0.3" />
<path d="M340,474.7 L340.9,467.7 L341.6,462.9 L341.6,470.6Z" fill="#265870" stroke="#265870" stroke-width="0.3" />
<path d="M327,480.5 L330.3,474.7 L330.3,477.5 L327.8,483.2Z" fill="#122935" stroke="#122935" stroke-width="0.3" />
<path d="M335.4,495.8 L335.4,490.7 L338.8,489.2 L338.7,494.9Z" fill="#235167" stroke="#235167" stroke-width="0.3" />
<path d="M326.6,488.8 L327.8,483.2 L329.9,485 L329,490.5Z" fill="#142e3b" stroke="#142e3b" stroke-width="0.3" />
<path d="M354,453.1 L358.1,446.7 L358.5,443.4 L355.7,449.6Z" fill="#112834" stroke="#112834" stroke-width="0.3" />
<path d="M342.9,463.3 L337.4,463.1 L334.5,463.7 L338.8,463.8Z" fill="#285e78" stroke="#285e78" stroke-width="0.3" />
<path d="M337.1,469 L339.4,465.7 L340.5,465 L338.6,468.5Z" fill="#1d4356" stroke="#1d4356" stroke-width="0.3" />
<path d="M335.5,462 L327,461.5 L334.2,463.1 L341.1,463.3Z" fill="#580000" stroke="#580000" stroke-width="0.3" />
<path d="M314,454.6 L305.1,454.9 L311.7,459.3 L319.9,458.6Z" fill="#6c0000" stroke="#6c0000" stroke-width="0.3" />
<path d="M335.5,464.3 L332.3,465.6 L338.1,464.6 L340.6,463.6Z" fill="#540000" stroke="#540000" stroke-width="0.3" />
<path d="M338.7,494.9 L338.8,489.2 L341.7,486.9 L341.8,493.4Z" fill="#265871" stroke="#265871" stroke-width="0.3" />
<path d="M324.3,468.4 L328.3,468.4 L335.5,466.4 L332.3,467.2Z" fill="#490000" stroke="#490000" stroke-width="0.3" />
<path d="M384.4,463.3 L386.3,466.8 L378.6,462.6 L376.8,460Z" fill="#3a0000" stroke="#3a0000" stroke-width="0.3" />
<path d="M347.3,461.2 L358.5,459 L353.4,459.2 L343.4,462.5Z" fill="#6e0000" stroke="#6e0000" stroke-width="0.3" />
<path d="M344.1,484 L343.2,475.1 L343.8,471.3 L345.8,481Z" fill="#285e78" stroke="#285e78" stroke-width="0.3" />
<path d="M324.8,456.4 L314,454.6 L319.9,458.6 L329.7,459.6Z" fill="#620000" stroke="#620000" stroke-width="0.3" />
<path d="M330.3,474.7 L334.5,469.5 L333.6,472.2 L330.3,477.5Z" fill="#132c39" stroke="#132c39" stroke-width="0.3" />
<path d="M331.2,466.7 L332.3,467.2 L338.1,465.3 L337.2,465.3Z" fill="#480000" stroke="#480000" stroke-width="0.3" />
<path d="M334.3,453.6 L330,444.3 L328.6,445.2 L333.3,454Z" fill="#2d6885" stroke="#2d6885" stroke-width="0.3" />
<path d="M341.7,478.9 L341.6,470.6 L342,465.9 L343.2,475.1Z" fill="#275a73" stroke="#275a73" stroke-width="0.3" />
<path d="M334.2,463.1 L328.2,464 L335.5,464.3 L340.2,463.4Z" fill="#580000" stroke="#580000" stroke-width="0.3" />
<path d="M334.3,439.5 L334.1,432.5 L332.2,433.9 L332.7,441.4Z" fill="#2e6c8a" stroke="#2e6c8a" stroke-width="0.3" />
<path d="M306.3,461.3 L304.5,464 L313.5,466.6 L315.1,464.3Z" fill="#710000" stroke="#710000" stroke-width="0.3" />
<path d="M332.3,465.6 L331.2,466.7 L337.2,465.3 L338.1,464.6Z" fill="#510000" stroke="#510000" stroke-width="0.3" />
<path d="M353.9,431.5 L352.4,428.1 L349.8,427.4 L350.9,430.9Z" fill="#1d4457" stroke="#1d4457" stroke-width="0.3" />
<path d="M388.8,475.4 L382.4,477.1 L378,471.8 L384.1,469.8Z" fill="#310000" stroke="#310000" stroke-width="0.3" />
<path d="M342,463.4 L335,461.7 L331.9,461.7 L337.4,463.1Z" fill="#2a607b" stroke="#2a607b" stroke-width="0.3" />
<path d="M329.7,459.6 L319.9,458.6 L327,461.5 L335.5,462Z" fill="#5e0000" stroke="#5e0000" stroke-width="0.3" />
<path d="M333.6,472.2 L337,467.8 L337.1,469 L334.4,473.6Z" fill="#163342" stroke="#163342" stroke-width="0.3" />
<path d="M340.5,464.5 L338.9,465.5 L340.9,464.6 L341.8,462.8Z" fill="#193b4b" stroke="#193b4b" stroke-width="0.3" />
<path d="M336.5,473.4 L338.6,468.5 L340.5,466.1 L338.9,471.4Z" fill="#214c61" stroke="#214c61" stroke-width="0.3" />
<path d="M340.4,463.5 L347,463.7 L349.5,463 L341.2,463.4Z" fill="#720000" stroke="#720000" stroke-width="0.3" />
<path d="M351.5,456.4 L356.8,450 L358.1,446.7 L354,453.1Z" fill="#132b37" stroke="#132b37" stroke-width="0.3" />
<path d="M313.5,466.6 L315.2,468.4 L324.3,468.4 L322.9,467.4Z" fill="#5e0000" stroke="#5e0000" stroke-width="0.3" />
<path d="M339.9,464 L336.9,464.7 L337.1,465.4 L339.4,464.6Z" fill="#25576f" stroke="#25576f" stroke-width="0.3" />
<path d="M341.6,463.3 L351.2,462.1 L351.5,461.3 L341.1,463.5Z" fill="#720000" stroke="#720000" stroke-width="0.3" />
<path d="M358.6,481.1 L349.4,472.7 L351.1,472.4 L361.7,479.9Z" fill="#510000" stroke="#510000" stroke-width="0.3" />
<path d="M340.3,466.2 L341.2,464.2 L340.6,468.5 L340,470.4Z" fill="#6a0000" stroke="#6a0000" stroke-width="0.3" />
<path d="M341.7,486.9 L341.7,478.9 L343.2,475.1 L344.1,484Z" fill="#275b75" stroke="#275b75" stroke-width="0.3" />
<path d="M329,490.5 L329.9,485 L332.8,485.4 L332,491.2Z" fill="#183948" stroke="#183948" stroke-width="0.3" />
<path d="M358.5,443.4 L359.3,437.6 L358.2,435 L358,440.4Z" fill="#122934" stroke="#122934" stroke-width="0.3" />
<path d="M345.4,474.1 L342.2,465.2 L344.3,469 L349.5,478.1Z" fill="#590000" stroke="#590000" stroke-width="0.3" />
<path d="M322.9,467.4 L324.3,468.4 L332.3,467.2 L331.2,466.7Z" fill="#530000" stroke="#530000" stroke-width="0.3" />
<path d="M339.4,464.6 L337.1,465.4 L338.6,465.4 L340.5,464.3Z" fill="#204a5f" stroke="#204a5f" stroke-width="0.3" />
<path d="M341.2,463 L342.6,464.9 L345.4,466.2 L342.2,463.6Z" fill="#740000" stroke="#740000" stroke-width="0.3" />
<path d="M341.6,469.9 L341.6,463.8 L342.6,469 L344,475.7Z" fill="#5d0000" stroke="#5d0000" stroke-width="0.3" />
<path d="M337.5,460.6 L330.1,453.7 L328.1,453.5 L334.6,459.5Z" fill="#2c6581" stroke="#2c6581" stroke-width="0.3" />
<path d="M327.8,483.2 L330.3,477.5 L331.8,479.1 L329.9,485Z" fill="#142e3b" stroke="#142e3b" stroke-width="0.3" />
<path d="M341.6,463.3 L348.9,459.6 L349.9,458.7 L342,463.2Z" fill="#173543" stroke="#173543" stroke-width="0.3" />
<path d="M342,463.2 L349.9,458.7 L351.4,457.4 L343.4,462.6Z" fill="#163443" stroke="#163443" stroke-width="0.3" />
<path d="M332.7,441.4 L332.2,433.9 L330.4,435.3 L331.3,443.1Z" fill="#2f6e8c" stroke="#2f6e8c" stroke-width="0.3" />
<path d="M334.4,473.6 L337.1,469 L338.6,468.5 L336.5,473.4Z" fill="#1b3e4f" stroke="#1b3e4f" stroke-width="0.3" />
<path d="M341.2,463.4 L349.5,463 L351.2,462.1 L341.6,463.3Z" fill="#720000" stroke="#720000" stroke-width="0.3" />
<path d="M311.7,459.3 L306.3,461.3 L315.1,464.3 L319.8,462.4Z" fill="#6e0000" stroke="#6e0000" stroke-width="0.3" />
<path d="M378.4,460.4 L384.4,463.3 L376.8,460 L371.4,458.2Z" fill="#4c0000" stroke="#4c0000" stroke-width="0.3" />
<path d="M337.4,477.7 L338.9,471.4 L340.9,467.7 L340,474.7Z" fill="#235168" stroke="#235168" stroke-width="0.3" />
<path d="M330.3,477.5 L333.6,472.2 L334.4,473.6 L331.8,479.1Z" fill="#15303e" stroke="#15303e" stroke-width="0.3" />
<path d="M333.3,454 L328.6,445.2 L327.3,445.9 L331.8,454Z" fill="#2e6a88" stroke="#2e6a88" stroke-width="0.3" />
<path d="M348.5,459.2 L355,453 L356.8,450 L351.5,456.4Z" fill="#142e3b" stroke="#142e3b" stroke-width="0.3" />
<path d="M343.4,462.6 L351.4,457.4 L353.1,455.5 L345.7,461.3Z" fill="#163341" stroke="#163341" stroke-width="0.3" />
<path d="M319.9,458.6 L311.7,459.3 L319.8,462.4 L327,461.5Z" fill="#660000" stroke="#660000" stroke-width="0.3" />
<path d="M339.2,482.1 L340,474.7 L341.6,470.6 L341.7,478.9Z" fill="#25566e" stroke="#25566e" stroke-width="0.3" />
<path d="M328.2,464 L324.3,465.7 L332.3,465.6 L335.5,464.3Z" fill="#5c0000" stroke="#5c0000" stroke-width="0.3" />
<path d="M327,461.5 L319.8,462.4 L328.2,464 L334.2,463.1Z" fill="#5f0000" stroke="#5f0000" stroke-width="0.3" />
<path d="M358.5,459 L369.4,458.8 L363.2,457.8 L353.4,459.2Z" fill="#660000" stroke="#660000" stroke-width="0.3" />
<path d="M345.7,461.3 L353.1,455.5 L355,453 L348.5,459.2Z" fill="#15313e" stroke="#15313e" stroke-width="0.3" />
<path d="M338.8,489.2 L339.2,482.1 L341.7,478.9 L341.7,486.9Z" fill="#25566e" stroke="#25566e" stroke-width="0.3" />
<path d="M341.9,463.3 L348.3,460.2 L348.9,459.6 L341.6,463.3Z" fill="#173543" stroke="#173543" stroke-width="0.3" />
<path d="M341.2,463.9 L340.3,465.5 L340,468.9 L340.6,466.4Z" fill="#7e0000" stroke="#7e0000" stroke-width="0.3" />
<path d="M356.4,433 L354.6,429.2 L352.4,428.1 L353.9,431.5Z" fill="#1a3c4c" stroke="#1a3c4c" stroke-width="0.3" />
<path d="M340.6,468.5 L341.3,464.6 L341.6,469.9 L341.7,474.1Z" fill="#630000" stroke="#630000" stroke-width="0.3" />
<path d="M332,491.2 L332.8,485.4 L336.1,484.4 L335.4,490.7Z" fill="#1d4457" stroke="#1d4457" stroke-width="0.3" />
<path d="M339.1,462.5 L331.6,458.7 L329,458.4 L335,461.7Z" fill="#2b6480" stroke="#2b6480" stroke-width="0.3" />
<path d="M324.3,465.7 L322.9,467.4 L331.2,466.7 L332.3,465.6Z" fill="#5b0000" stroke="#5b0000" stroke-width="0.3" />
<path d="M354.2,480.5 L346.9,471.6 L349.4,472.7 L358.6,481.1Z" fill="#530000" stroke="#530000" stroke-width="0.3" />
<path d="M349.5,478.1 L344.3,469 L346.9,471.6 L354.2,480.5Z" fill="#560000" stroke="#560000" stroke-width="0.3" />
<path d="M315.1,464.3 L313.5,466.6 L322.9,467.4 L324.3,465.7Z" fill="#660000" stroke="#660000" stroke-width="0.3" />
<path d="M335.4,490.7 L336.1,484.4 L339.2,482.1 L338.8,489.2Z" fill="#224f65" stroke="#224f65" stroke-width="0.3" />
<path d="M342,463.7 L343.3,463.5 L343.8,463.3 L341,463.1Z" fill="#173645" stroke="#173645" stroke-width="0.3" />
<path d="M369.4,458.8 L378.4,460.4 L371.4,458.2 L363.2,457.8Z" fill="#5b0000" stroke="#5b0000" stroke-width="0.3" />
<path d="M331.8,479.1 L334.4,473.6 L336.5,473.4 L334.4,479.2Z" fill="#193b4b" stroke="#193b4b" stroke-width="0.3" />
<path d="M329.9,485 L331.8,479.1 L334.4,479.2 L332.8,485.4Z" fill="#183948" stroke="#183948" stroke-width="0.3" />
<path d="M334.4,479.2 L336.5,473.4 L338.9,471.4 L337.4,477.7Z" fill="#1f475b" stroke="#1f475b" stroke-width="0.3" />
<path d="M319.8,462.4 L315.1,464.3 L324.3,465.7 L328.2,464Z" fill="#650000" stroke="#650000" stroke-width="0.3" />
<path d="M383.5,482.6 L374,481.3 L372.9,476.7 L382.4,477.1Z" fill="#3c0000" stroke="#3c0000" stroke-width="0.3" />
<path d="M331.3,443.1 L330.4,435.3 L328.9,436.5 L330,444.3Z" fill="#30708f" stroke="#30708f" stroke-width="0.3" />
<path d="M350.1,460.9 L361.9,459.8 L358.5,459 L347.3,461.2Z" fill="#6c0000" stroke="#6c0000" stroke-width="0.3" />
<path d="M338.8,463.8 L334.5,463.7 L333.5,464.6 L336.9,464.7Z" fill="#29607b" stroke="#29607b" stroke-width="0.3" />
<path d="M336.1,484.4 L337.4,477.7 L340,474.7 L339.2,482.1Z" fill="#224f65" stroke="#224f65" stroke-width="0.3" />
<path d="M372.2,485 L361.7,479.9 L362.8,477.3 L374,481.3Z" fill="#470000" stroke="#470000" stroke-width="0.3" />
<path d="M358.1,446.7 L359.6,440.5 L359.3,437.6 L358.5,443.4Z" fill="#112833" stroke="#112833" stroke-width="0.3" />
<path d="M339.9,466.5 L340.3,466.2 L340,470.4 L339.8,470.4Z" fill="#7a0000" stroke="#7a0000" stroke-width="0.3" />
<path d="M340.9,464.6 L340,465.1 L341.6,464.5 L341.6,463.2Z" fill="#193a4a" stroke="#193a4a" stroke-width="0.3" />
<path d="M332.8,485.4 L334.4,479.2 L337.4,477.7 L336.1,484.4Z" fill="#1e4558" stroke="#1e4558" stroke-width="0.3" />
<path d="M342.7,463.2 L347.7,460.5 L348.3,460.2 L341.9,463.3Z" fill="#173543" stroke="#173543" stroke-width="0.3" />
<path d="M340.3,465.5 L339.9,466.5 L339.8,470.4 L340,468.9Z" fill="#830000" stroke="#830000" stroke-width="0.3" />
<path d="M391.3,472.1 L388.8,475.4 L384.1,469.8 L386.3,466.8Z" fill="#2a0000" stroke="#2a0000" stroke-width="0.3" />
<path d="M331.8,454 L327.3,445.9 L325.9,446.3 L330.1,453.7Z" fill="#2f6d8b" stroke="#2f6d8b" stroke-width="0.3" />
<path d="M358.2,435 L356.4,430.9 L354.6,429.2 L356.4,433Z" fill="#173544" stroke="#173544" stroke-width="0.3" />
<path d="M334.6,459.5 L328.1,453.5 L326.2,453.4 L331.6,458.7Z" fill="#2d6a87" stroke="#2d6a87" stroke-width="0.3" />
<path d="M341.3,463.9 L340.6,466.4 L341.7,469.7 L341.6,466.2Z" fill="#7b0000" stroke="#7b0000" stroke-width="0.3" />
<path d="M341.6,463.5 L341.6,466.2 L344.1,468.6 L342.6,464.9Z" fill="#770000" stroke="#770000" stroke-width="0.3" />
<path d="M337.4,463.1 L331.9,461.7 L330.2,462.3 L334.5,463.7Z" fill="#2b6581" stroke="#2b6581" stroke-width="0.3" />
<path d="M338.6,465.4 L336.4,465.8 L338.9,465.5 L340.5,464.5Z" fill="#1d4457" stroke="#1d4457" stroke-width="0.3" />
<path d="M341.4,428.5 L341.4,426.1 L339.3,426.6 L338.7,429.6Z" fill="#2c6581" stroke="#2c6581" stroke-width="0.3" />
<path d="M330,444.3 L328.9,436.5 L327.6,437.6 L328.6,445.2Z" fill="#317291" stroke="#317291" stroke-width="0.3" />
<path d="M344.2,427.7 L343.6,425.8 L341.4,426.1 L341.4,428.5Z" fill="#29607a" stroke="#29607a" stroke-width="0.3" />
<path d="M338.7,429.6 L339.3,426.6 L337.3,427.4 L336.3,431Z" fill="#2d6986" stroke="#2d6986" stroke-width="0.3" />
<path d="M356.8,450 L359.3,443.4 L359.6,440.5 L358.1,446.7Z" fill="#122935" stroke="#122935" stroke-width="0.3" />
<path d="M347,427.3 L345.7,425.7 L343.6,425.8 L344.2,427.7Z" fill="#275a73" stroke="#275a73" stroke-width="0.3" />
<path d="M344,475.7 L342.6,469 L345.4,474.1 L348.6,481Z" fill="#5c0000" stroke="#5c0000" stroke-width="0.3" />
<path d="M336.9,464.7 L333.5,464.6 L334.3,465.4 L337.1,465.4Z" fill="#285c75" stroke="#285c75" stroke-width="0.3" />
<path d="M336.3,431 L337.3,427.4 L335.5,428.2 L334.1,432.5Z" fill="#2f6d8b" stroke="#2f6d8b" stroke-width="0.3" />
<path d="M349.8,427.4 L347.7,425.9 L345.7,425.7 L347,427.3Z" fill="#24546b" stroke="#24546b" stroke-width="0.3" />
<path d="M343.5,463.1 L347,460.7 L347.7,460.5 L342.7,463.2Z" fill="#173544" stroke="#173544" stroke-width="0.3" />
<path d="M359.3,437.6 L357.7,432.9 L356.4,430.9 L358.2,435Z" fill="#15313e" stroke="#15313e" stroke-width="0.3" />
<path d="M335,461.7 L329,458.4 L327.2,458.7 L331.9,461.7Z" fill="#2d6986" stroke="#2d6986" stroke-width="0.3" />
<path d="M337.1,465.4 L334.3,465.4 L336.4,465.8 L338.6,465.4Z" fill="#235167" stroke="#235167" stroke-width="0.3" />
<path d="M334.1,432.5 L335.5,428.2 L333.8,429.2 L332.2,433.9Z" fill="#30708f" stroke="#30708f" stroke-width="0.3" />
<path d="M340,470.4 L340.6,468.5 L341.7,474.1 L341.8,475.9Z" fill="#6e0000" stroke="#6e0000" stroke-width="0.3" />
<path d="M355,453 L358.5,446.2 L359.3,443.4 L356.8,450Z" fill="#132b37" stroke="#132b37" stroke-width="0.3" />
<path d="M330.1,453.7 L325.9,446.3 L324.7,446.8 L328.1,453.5Z" fill="#30708f" stroke="#30708f" stroke-width="0.3" />
<path d="M367.7,487.2 L358.6,481.1 L361.7,479.9 L372.2,485Z" fill="#4a0000" stroke="#4a0000" stroke-width="0.3" />
<path d="M342.2,463.6 L345.4,466.2 L349.6,466.7 L344.3,463.8Z" fill="#740000" stroke="#740000" stroke-width="0.3" />
<path d="M351.5,461.3 L363.2,461.5 L361.9,459.8 L350.1,460.9Z" fill="#6c0000" stroke="#6c0000" stroke-width="0.3" />
<path d="M389.3,468 L391.3,472.1 L386.3,466.8 L384.4,463.3Z" fill="#350000" stroke="#350000" stroke-width="0.3" />
<path d="M328.6,445.2 L327.6,437.6 L326.4,438.5 L327.3,445.9Z" fill="#327494" stroke="#327494" stroke-width="0.3" />
<path d="M361.9,459.8 L373.4,461 L369.4,458.8 L358.5,459Z" fill="#640000" stroke="#640000" stroke-width="0.3" />
<path d="M352.4,428.1 L349.6,426.5 L347.7,425.9 L349.8,427.4Z" fill="#214e63" stroke="#214e63" stroke-width="0.3" />
<path d="M341.7,474.1 L341.6,469.9 L344,475.7 L345.3,480Z" fill="#630000" stroke="#630000" stroke-width="0.3" />
<path d="M390,481.3 L383.5,482.6 L382.4,477.1 L388.8,475.4Z" fill="#310000" stroke="#310000" stroke-width="0.3" />
<path d="M341.6,464.5 L341.7,463.7 L343.3,463.5 L342,463.7Z" fill="#193a4a" stroke="#193a4a" stroke-width="0.3" />
<path d="M332.2,433.9 L333.8,429.2 L332.3,430.1 L330.4,435.3Z" fill="#317392" stroke="#317392" stroke-width="0.3" />
<path d="M353.1,455.5 L357.3,448.7 L358.5,446.2 L355,453Z" fill="#132d3a" stroke="#132d3a" stroke-width="0.3" />
<path d="M331.6,458.7 L326.2,453.4 L324.8,453.7 L329,458.4Z" fill="#306e8d" stroke="#306e8d" stroke-width="0.3" />
<path d="M359.6,440.5 L358.4,435.1 L357.7,432.9 L359.3,437.6Z" fill="#142e3b" stroke="#142e3b" stroke-width="0.3" />
<path d="M348.6,481 L345.4,474.1 L349.5,478.1 L354.7,485.1Z" fill="#590000" stroke="#590000" stroke-width="0.3" />
<path d="M338.9,465.5 L337.3,465.3 L340,465.1 L340.9,464.6Z" fill="#1c4153" stroke="#1c4153" stroke-width="0.3" />
<path d="M354.6,429.2 L351.3,427.3 L349.6,426.5 L352.4,428.1Z" fill="#1f485c" stroke="#1f485c" stroke-width="0.3" />
<path d="M334.5,463.7 L330.2,462.3 L330.2,463.3 L333.5,464.6Z" fill="#2c6683" stroke="#2c6683" stroke-width="0.3" />
<path d="M381.1,487.3 L372.2,485 L374,481.3 L383.5,482.6Z" fill="#3f0000" stroke="#3f0000" stroke-width="0.3" />
<path d="M383,463.9 L389.3,468 L384.4,463.3 L378.4,460.4Z" fill="#4a0000" stroke="#4a0000" stroke-width="0.3" />
<path d="M351.4,457.4 L356,450.8 L357.3,448.7 L353.1,455.5Z" fill="#142f3c" stroke="#142f3c" stroke-width="0.3" />
<path d="M373.4,461 L383,463.9 L378.4,460.4 L369.4,458.8Z" fill="#590000" stroke="#590000" stroke-width="0.3" />
<path d="M340.6,466.4 L340,468.9 L341.8,473.1 L341.7,469.7Z" fill="#810000" stroke="#810000" stroke-width="0.3" />
<path d="M361.5,487.3 L354.2,480.5 L358.6,481.1 L367.7,487.2Z" fill="#4f0000" stroke="#4f0000" stroke-width="0.3" />
<path d="M330.4,435.3 L332.3,430.1 L331,431.1 L328.9,436.5Z" fill="#327595" stroke="#327595" stroke-width="0.3" />
<path d="M343.8,463.3 L345.9,460.8 L347,460.7 L343.5,463.1Z" fill="#183746" stroke="#183746" stroke-width="0.3" />
<path d="M327.3,445.9 L326.4,438.5 L325.4,439.4 L325.9,446.3Z" fill="#337798" stroke="#337798" stroke-width="0.3" />
<path d="M354.7,485.1 L349.5,478.1 L354.2,480.5 L361.5,487.3Z" fill="#540000" stroke="#540000" stroke-width="0.3" />
<path d="M349.9,458.7 L354.7,452.5 L356,450.8 L351.4,457.4Z" fill="#15313e" stroke="#15313e" stroke-width="0.3" />
<path d="M356.4,430.9 L352.7,428.4 L351.3,427.3 L354.6,429.2Z" fill="#1d4355" stroke="#1d4355" stroke-width="0.3" />
<path d="M328.1,453.5 L324.7,446.8 L323.7,447.3 L326.2,453.4Z" fill="#327495" stroke="#327495" stroke-width="0.3" />
<path d="M359.3,443.4 L358.6,437.4 L358.4,435.1 L359.6,440.5Z" fill="#142e3a" stroke="#142e3a" stroke-width="0.3" />
<path d="M351.2,462.1 L362.1,463.5 L363.2,461.5 L351.5,461.3Z" fill="#6d0000" stroke="#6d0000" stroke-width="0.3" />
<path d="M331.9,461.7 L327.2,458.7 L326.7,459.5 L330.2,462.3Z" fill="#2f6d8c" stroke="#2f6d8c" stroke-width="0.3" />
<path d="M344.3,463.8 L349.6,466.7 L354.4,466.4 L347,463.7Z" fill="#730000" stroke="#730000" stroke-width="0.3" />
<path d="M340,468.9 L339.8,470.4 L341.8,475.4 L341.8,473.1Z" fill="#840000" stroke="#840000" stroke-width="0.3" />
<path d="M348.9,459.6 L353.4,453.8 L354.7,452.5 L349.9,458.7Z" fill="#163240" stroke="#163240" stroke-width="0.3" />
<path d="M328.9,436.5 L331,431.1 L329.9,432 L327.6,437.6Z" fill="#337798" stroke="#337798" stroke-width="0.3" />
<path d="M333.5,464.6 L330.2,463.3 L331.7,464.3 L334.3,465.4Z" fill="#2a627d" stroke="#2a627d" stroke-width="0.3" />
<path d="M336.4,465.8 L334.3,465 L337.3,465.3 L338.9,465.5Z" fill="#214b60" stroke="#214b60" stroke-width="0.3" />
<path d="M342.6,464.9 L344.1,468.6 L348.7,470.6 L345.4,466.2Z" fill="#770000" stroke="#770000" stroke-width="0.3" />
<path d="M357.7,432.9 L353.8,429.7 L352.7,428.4 L356.4,430.9Z" fill="#1b3e50" stroke="#1b3e50" stroke-width="0.3" />
<path d="M358.5,446.2 L358.4,439.6 L358.6,437.4 L359.3,443.4Z" fill="#142e3b" stroke="#142e3b" stroke-width="0.3" />
<path d="M392.5,477.9 L390,481.3 L388.8,475.4 L391.3,472.1Z" fill="#280000" stroke="#280000" stroke-width="0.3" />
<path d="M341.6,466.2 L341.7,469.7 L345.3,473.2 L344.1,468.6Z" fill="#7c0000" stroke="#7c0000" stroke-width="0.3" />
<path d="M329,458.4 L324.8,453.7 L324.2,454.3 L327.2,458.7Z" fill="#327393" stroke="#327393" stroke-width="0.3" />
<path d="M348.3,460.2 L352.1,454.7 L353.4,453.8 L348.9,459.6Z" fill="#163341" stroke="#163341" stroke-width="0.3" />
<path d="M349.5,463 L358.9,465.3 L362.1,463.5 L351.2,462.1Z" fill="#6e0000" stroke="#6e0000" stroke-width="0.3" />
<path d="M325.9,446.3 L325.4,439.4 L324.7,440.2 L324.7,446.8Z" fill="#347a9b" stroke="#347a9b" stroke-width="0.3" />
<path d="M345.3,480 L344,475.7 L348.6,481 L351.3,485.4Z" fill="#600000" stroke="#600000" stroke-width="0.3" />
<path d="M340,465.1 L339.2,463.7 L341.7,463.7 L341.6,464.5Z" fill="#1b3f51" stroke="#1b3f51" stroke-width="0.3" />
<path d="M347,463.7 L354.4,466.4 L358.9,465.3 L349.5,463Z" fill="#700000" stroke="#700000" stroke-width="0.3" />
<path d="M363.2,461.5 L374.6,464 L373.4,461 L361.9,459.8Z" fill="#640000" stroke="#640000" stroke-width="0.3" />
<path d="M334.3,465.4 L331.7,464.3 L334.3,465 L336.4,465.8Z" fill="#265870" stroke="#265870" stroke-width="0.3" />
<path d="M341.4,426.1 L341.5,426.4 L340.3,426.6 L339.3,426.6Z" fill="#2c6783" stroke="#2c6783" stroke-width="0.3" />
<path d="M343.6,425.8 L342.7,426.4 L341.5,426.4 L341.4,426.1Z" fill="#2b637e" stroke="#2b637e" stroke-width="0.3" />
<path d="M327.6,437.6 L329.9,432 L329,432.9 L326.4,438.5Z" fill="#34799b" stroke="#34799b" stroke-width="0.3" />
<path d="M339.3,426.6 L340.3,426.6 L339.2,426.9 L337.3,427.4Z" fill="#2e6a87" stroke="#2e6a87" stroke-width="0.3" />
<path d="M341.8,475.9 L341.7,474.1 L345.3,480 L346.1,481.7Z" fill="#6d0000" stroke="#6d0000" stroke-width="0.3" />
<path d="M345.7,425.7 L343.8,426.4 L342.7,426.4 L343.6,425.8Z" fill="#295f79" stroke="#295f79" stroke-width="0.3" />
<path d="M343.3,463.5 L344.2,460.8 L345.9,460.8 L343.8,463.3Z" fill="#193949" stroke="#193949" stroke-width="0.3" />
<path d="M337.3,427.4 L339.2,426.9 L338.2,427.2 L335.5,428.2Z" fill="#2f6d8b" stroke="#2f6d8b" stroke-width="0.3" />
<path d="M358.4,435.1 L354.5,431.1 L353.8,429.7 L357.7,432.9Z" fill="#1a3b4c" stroke="#1a3b4c" stroke-width="0.3" />
<path d="M347.7,425.9 L344.9,426.6 L343.8,426.4 L345.7,425.7Z" fill="#275b75" stroke="#275b75" stroke-width="0.3" />
<path d="M357.3,448.7 L357.8,441.8 L358.4,439.6 L358.5,446.2Z" fill="#142f3c" stroke="#142f3c" stroke-width="0.3" />
<path d="M375.5,490.3 L367.7,487.2 L372.2,485 L381.1,487.3Z" fill="#440000" stroke="#440000" stroke-width="0.3" />
<path d="M326.2,453.4 L323.7,447.3 L323.2,448 L324.8,453.7Z" fill="#34799a" stroke="#34799a" stroke-width="0.3" />
<path d="M335.5,428.2 L338.2,427.2 L337.2,427.7 L333.8,429.2Z" fill="#306f8e" stroke="#306f8e" stroke-width="0.3" />
<path d="M347.7,460.5 L350.7,455.4 L352.1,454.7 L348.3,460.2Z" fill="#173543" stroke="#173543" stroke-width="0.3" />
<path d="M349.6,426.5 L345.9,426.9 L344.9,426.6 L347.7,425.9Z" fill="#265770" stroke="#265770" stroke-width="0.3" />
<path d="M330.2,462.3 L326.7,459.5 L327.5,460.6 L330.2,463.3Z" fill="#306e8d" stroke="#306e8d" stroke-width="0.3" />
<path d="M387.2,486.6 L381.1,487.3 L383.5,482.6 L390,481.3Z" fill="#350000" stroke="#350000" stroke-width="0.3" />
<path d="M333.8,429.2 L337.2,427.7 L336.3,428.2 L332.3,430.1Z" fill="#317191" stroke="#317191" stroke-width="0.3" />
<path d="M326.4,438.5 L329,432.9 L328.4,433.8 L325.4,439.4Z" fill="#357b9e" stroke="#357b9e" stroke-width="0.3" />
<path d="M351.3,427.3 L346.8,427.4 L345.9,426.9 L349.6,426.5Z" fill="#24546b" stroke="#24546b" stroke-width="0.3" />
<path d="M358.6,437.4 L354.9,432.7 L354.5,431.1 L358.4,435.1Z" fill="#193949" stroke="#193949" stroke-width="0.3" />
<path d="M356,450.8 L356.9,443.7 L357.8,441.8 L357.3,448.7Z" fill="#15303e" stroke="#15303e" stroke-width="0.3" />
<path d="M390.5,473.2 L392.5,477.9 L391.3,472.1 L389.3,468Z" fill="#340000" stroke="#340000" stroke-width="0.3" />
<path d="M324.7,446.8 L324.7,440.2 L324.4,441.1 L323.7,447.3Z" fill="#367d9f" stroke="#367d9f" stroke-width="0.3" />
<path d="M332.3,430.1 L336.3,428.2 L335.6,428.7 L331,431.1Z" fill="#327393" stroke="#327393" stroke-width="0.3" />
<path d="M374.6,464 L384.2,468.2 L383,463.9 L373.4,461Z" fill="#5a0000" stroke="#5a0000" stroke-width="0.3" />
<path d="M351.3,485.4 L348.6,481 L354.7,485.1 L359.2,489.3Z" fill="#5a0000" stroke="#5a0000" stroke-width="0.3" />
<path d="M352.7,428.4 L347.6,427.9 L346.8,427.4 L351.3,427.3Z" fill="#235167" stroke="#235167" stroke-width="0.3" />
<path d="M337.3,465.3 L336,463.4 L339.2,463.7 L340,465.1Z" fill="#1f485b" stroke="#1f485b" stroke-width="0.3" />
<path d="M327.2,458.7 L324.2,454.3 L324.6,455.3 L326.7,459.5Z" fill="#337697" stroke="#337697" stroke-width="0.3" />
<path d="M347,460.7 L349.1,455.8 L350.7,455.4 L347.7,460.5Z" fill="#183746" stroke="#183746" stroke-width="0.3" />
<path d="M384.2,468.2 L390.5,473.2 L389.3,468 L383,463.9Z" fill="#4b0000" stroke="#4b0000" stroke-width="0.3" />
<path d="M354.7,452.5 L355.8,445.3 L356.9,443.7 L356,450.8Z" fill="#153240" stroke="#153240" stroke-width="0.3" />
<path d="M367.8,491 L361.5,487.3 L367.7,487.2 L375.5,490.3Z" fill="#4b0000" stroke="#4b0000" stroke-width="0.3" />
<path d="M341.7,469.7 L341.8,473.1 L346.2,477.6 L345.3,473.2Z" fill="#810000" stroke="#810000" stroke-width="0.3" />
<path d="M358.4,439.6 L355,434.2 L354.9,432.7 L358.6,437.4Z" fill="#183948" stroke="#183948" stroke-width="0.3" />
<path d="M331,431.1 L335.6,428.7 L335,429.2 L329.9,432Z" fill="#327595" stroke="#327595" stroke-width="0.3" />
<path d="M341.8,475.4 L341.8,475.9 L346.1,481.7 L346.4,480.7Z" fill="#7a0000" stroke="#7a0000" stroke-width="0.3" />
<path d="M353.8,429.7 L348.2,428.5 L347.6,427.9 L352.7,428.4Z" fill="#224e63" stroke="#224e63" stroke-width="0.3" />
<path d="M341.7,463.7 L341.8,460.7 L344.2,460.8 L343.3,463.5Z" fill="#1b3e4f" stroke="#1b3e4f" stroke-width="0.3" />
<path d="M345.4,466.2 L348.7,470.6 L354.9,471.7 L349.6,466.7Z" fill="#750000" stroke="#750000" stroke-width="0.3" />
<path d="M325.4,439.4 L328.4,433.8 L328.1,434.7 L324.7,440.2Z" fill="#367da0" stroke="#367da0" stroke-width="0.3" />
<path d="M330.2,463.3 L327.5,460.6 L329.6,461.7 L331.7,464.3Z" fill="#2e6a87" stroke="#2e6a87" stroke-width="0.3" />
<path d="M362.1,463.5 L372.8,467.2 L374.6,464 L363.2,461.5Z" fill="#660000" stroke="#660000" stroke-width="0.3" />
<path d="M359.2,489.3 L354.7,485.1 L361.5,487.3 L367.8,491Z" fill="#530000" stroke="#530000" stroke-width="0.3" />
<path d="M324.8,453.7 L323.2,448 L323.4,448.9 L324.2,454.3Z" fill="#367c9f" stroke="#367c9f" stroke-width="0.3" />
<path d="M329.9,432 L335,429.2 L334.5,429.8 L329,432.9Z" fill="#337697" stroke="#337697" stroke-width="0.3" />
<path d="M354.5,431.1 L348.6,429.2 L348.2,428.5 L353.8,429.7Z" fill="#214c61" stroke="#214c61" stroke-width="0.3" />
<path d="M341.8,473.1 L341.8,475.4 L346.4,480.7 L346.2,477.6Z" fill="#820000" stroke="#820000" stroke-width="0.3" />
<path d="M353.4,453.8 L354.5,446.7 L355.8,445.3 L354.7,452.5Z" fill="#163442" stroke="#163442" stroke-width="0.3" />
<path d="M334.3,465 L332.6,462.7 L336,463.4 L337.3,465.3Z" fill="#24536a" stroke="#24536a" stroke-width="0.3" />
<path d="M357.8,441.8 L354.8,435.7 L355,434.2 L358.4,439.6Z" fill="#183948" stroke="#183948" stroke-width="0.3" />
<path d="M323.7,447.3 L324.4,441.1 L324.5,442 L323.2,448Z" fill="#3780a3" stroke="#3780a3" stroke-width="0.3" />
<path d="M331.7,464.3 L329.6,461.7 L332.6,462.7 L334.3,465Z" fill="#29607a" stroke="#29607a" stroke-width="0.3" />
<path d="M346.1,481.7 L345.3,480 L351.3,485.4 L353.2,486.8Z" fill="#680000" stroke="#680000" stroke-width="0.3" />
<path d="M345.9,460.8 L347.1,455.9 L349.1,455.8 L347,460.7Z" fill="#193a4a" stroke="#193a4a" stroke-width="0.3" />
<path d="M344.1,468.6 L345.3,473.2 L351.4,476.1 L348.7,470.6Z" fill="#7a0000" stroke="#7a0000" stroke-width="0.3" />
<path d="M354.9,432.7 L348.9,429.9 L348.6,429.2 L354.5,431.1Z" fill="#204a5f" stroke="#204a5f" stroke-width="0.3" />
<path d="M329,432.9 L334.5,429.8 L334.2,430.4 L328.4,433.8Z" fill="#337798" stroke="#337798" stroke-width="0.3" />
<path d="M389.6,483.3 L387.2,486.6 L390,481.3 L392.5,477.9Z" fill="#2e0000" stroke="#2e0000" stroke-width="0.3" />
<path d="M324.7,440.2 L328.1,434.7 L328.1,435.6 L324.4,441.1Z" fill="#377fa2" stroke="#377fa2" stroke-width="0.3" />
<path d="M326.7,459.5 L324.6,455.3 L326,456.4 L327.5,460.6Z" fill="#337798" stroke="#337798" stroke-width="0.3" />
<path d="M352.1,454.7 L353,447.7 L354.5,446.7 L353.4,453.8Z" fill="#173644" stroke="#173644" stroke-width="0.3" />
<path d="M356.9,443.7 L354.2,437.1 L354.8,435.7 L357.8,441.8Z" fill="#193949" stroke="#193949" stroke-width="0.3" />
<path d="M380.9,490.2 L375.5,490.3 L381.1,487.3 L387.2,486.6Z" fill="#3e0000" stroke="#3e0000" stroke-width="0.3" />
<path d="M341.5,426.4 L341.6,429.5 L341.6,429.5 L340.3,426.6Z" fill="#2c6783" stroke="#2c6783" stroke-width="0.3" />
<path d="M342.7,426.4 L341.6,429.5 L341.6,429.5 L341.5,426.4Z" fill="#2c6581" stroke="#2c6581" stroke-width="0.3" />
<path d="M340.3,426.6 L341.6,429.5 L341.6,429.5 L339.2,426.9Z" fill="#2d6885" stroke="#2d6885" stroke-width="0.3" />
<path d="M343.8,426.4 L341.6,429.5 L341.6,429.5 L342.7,426.4Z" fill="#2b647f" stroke="#2b647f" stroke-width="0.3" />
<path d="M339.2,426.9 L341.6,429.5 L341.6,429.5 L338.2,427.2Z" fill="#2d6986" stroke="#2d6986" stroke-width="0.3" />
<path d="M344.9,426.6 L341.6,429.5 L341.6,429.5 L343.8,426.4Z" fill="#2a627d" stroke="#2a627d" stroke-width="0.3" />
<path d="M339.2,463.7 L338.7,460.3 L341.8,460.7 L341.7,463.7Z" fill="#1e4558" stroke="#1e4558" stroke-width="0.3" />
<path d="M355,434.2 L349,430.7 L348.9,429.9 L354.9,432.7Z" fill="#20495d" stroke="#20495d" stroke-width="0.3" />
<path d="M338.2,427.2 L341.6,429.5 L341.6,429.5 L337.2,427.7Z" fill="#2e6a87" stroke="#2e6a87" stroke-width="0.3" />
<path d="M358.9,465.3 L368.3,469.8 L372.8,467.2 L362.1,463.5Z" fill="#690000" stroke="#690000" stroke-width="0.3" />
<path d="M345.9,426.9 L341.6,429.5 L341.6,429.5 L344.9,426.6Z" fill="#29607b" stroke="#29607b" stroke-width="0.3" />
<path d="M349.6,466.7 L354.9,471.7 L361.9,471.4 L354.4,466.4Z" fill="#710000" stroke="#710000" stroke-width="0.3" />
<path d="M337.2,427.7 L341.6,429.5 L341.6,429.5 L336.3,428.2Z" fill="#2e6a87" stroke="#2e6a87" stroke-width="0.3" />
<path d="M328.4,433.8 L334.2,430.4 L334.1,430.9 L328.1,434.7Z" fill="#347899" stroke="#347899" stroke-width="0.3" />
<path d="M346.8,427.4 L341.6,429.5 L341.6,429.5 L345.9,426.9Z" fill="#295e79" stroke="#295e79" stroke-width="0.3" />
<path d="M324.2,454.3 L323.4,448.9 L324.4,449.9 L324.6,455.3Z" fill="#367ea1" stroke="#367ea1" stroke-width="0.3" />
<path d="M336.3,428.2 L341.6,429.5 L341.6,429.5 L335.6,428.7Z" fill="#2e6a88" stroke="#2e6a88" stroke-width="0.3" />
<path d="M347.6,427.9 L341.6,429.5 L341.6,429.5 L346.8,427.4Z" fill="#285d77" stroke="#285d77" stroke-width="0.3" />
<path d="M355.8,445.3 L353.4,438.4 L354.2,437.1 L356.9,443.7Z" fill="#193a4a" stroke="#193a4a" stroke-width="0.3" />
<path d="M348.2,428.5 L341.6,429.5 L341.6,429.5 L347.6,427.9Z" fill="#285c76" stroke="#285c76" stroke-width="0.3" />
<path d="M335.6,428.7 L341.6,429.5 L341.6,429.5 L335,429.2Z" fill="#2e6a88" stroke="#2e6a88" stroke-width="0.3" />
<path d="M350.7,455.4 L351.3,448.5 L353,447.7 L352.1,454.7Z" fill="#183848" stroke="#183848" stroke-width="0.3" />
<path d="M323.2,448 L324.5,442 L325.1,442.9 L323.4,448.9Z" fill="#3882a5" stroke="#3882a5" stroke-width="0.3" />
<path d="M354.8,435.7 L348.9,431.4 L349,430.7 L355,434.2Z" fill="#1f495d" stroke="#1f495d" stroke-width="0.3" />
<path d="M372.8,467.2 L381.8,472.4 L384.2,468.2 L374.6,464Z" fill="#5d0000" stroke="#5d0000" stroke-width="0.3" />
<path d="M344.2,460.8 L344.6,455.9 L347.1,455.9 L345.9,460.8Z" fill="#1b3e4f" stroke="#1b3e4f" stroke-width="0.3" />
<path d="M354.4,466.4 L361.9,471.4 L368.3,469.8 L358.9,465.3Z" fill="#6d0000" stroke="#6d0000" stroke-width="0.3" />
<path d="M348.6,429.2 L341.6,429.5 L341.6,429.5 L348.2,428.5Z" fill="#275c75" stroke="#275c75" stroke-width="0.3" />
<path d="M324.4,441.1 L328.1,435.6 L328.4,436.4 L324.5,442Z" fill="#3780a3" stroke="#3780a3" stroke-width="0.3" />
<path d="M335,429.2 L341.6,429.5 L341.6,429.5 L334.5,429.8Z" fill="#2e6b88" stroke="#2e6b88" stroke-width="0.3" />
<path d="M328.1,434.7 L334.1,430.9 L334.2,431.5 L328.1,435.6Z" fill="#34789a" stroke="#34789a" stroke-width="0.3" />
<path d="M348.9,429.9 L341.6,429.5 L341.6,429.5 L348.6,429.2Z" fill="#275b75" stroke="#275b75" stroke-width="0.3" />
<path d="M334.5,429.8 L341.6,429.5 L341.6,429.5 L334.2,430.4Z" fill="#2e6b89" stroke="#2e6b89" stroke-width="0.3" />
<path d="M327.5,460.6 L326,456.4 L328.5,457.6 L329.6,461.7Z" fill="#317291" stroke="#317291" stroke-width="0.3" />
<path d="M387.7,478.2 L389.6,483.3 L392.5,477.9 L390.5,473.2Z" fill="#3b0000" stroke="#3b0000" stroke-width="0.3" />
<path d="M353.2,486.8 L351.3,485.4 L359.2,489.3 L362.3,490.3Z" fill="#600000" stroke="#600000" stroke-width="0.3" />
<path d="M349,430.7 L341.6,429.5 L341.6,429.5 L348.9,429.9Z" fill="#275b75" stroke="#275b75" stroke-width="0.3" />
<path d="M354.2,437.1 L348.7,432.1 L348.9,431.4 L354.8,435.7Z" fill="#1f495d" stroke="#1f495d" stroke-width="0.3" />
<path d="M336,463.4 L335.2,459.7 L338.7,460.3 L339.2,463.7Z" fill="#224f64" stroke="#224f64" stroke-width="0.3" />
<path d="M334.2,430.4 L341.6,429.5 L341.6,429.5 L334.1,430.9Z" fill="#2e6b89" stroke="#2e6b89" stroke-width="0.3" />
<path d="M354.5,446.7 L352.3,439.4 L353.4,438.4 L355.8,445.3Z" fill="#1a3c4c" stroke="#1a3c4c" stroke-width="0.3" />
<path d="M346.4,480.7 L346.1,481.7 L353.2,486.8 L353.9,485.3Z" fill="#740000" stroke="#740000" stroke-width="0.3" />
<path d="M348.9,431.4 L341.6,429.5 L341.6,429.5 L349,430.7Z" fill="#275b75" stroke="#275b75" stroke-width="0.3" />
<path d="M334.1,430.9 L341.6,429.5 L341.6,429.5 L334.2,431.5Z" fill="#2e6b89" stroke="#2e6b89" stroke-width="0.3" />
<path d="M381.8,472.4 L387.7,478.2 L390.5,473.2 L384.2,468.2Z" fill="#500000" stroke="#500000" stroke-width="0.3" />
<path d="M372,491.6 L367.8,491 L375.5,490.3 L380.9,490.2Z" fill="#490000" stroke="#490000" stroke-width="0.3" />
<path d="M349.1,455.8 L349.3,449 L351.3,448.5 L350.7,455.4Z" fill="#193b4c" stroke="#193b4c" stroke-width="0.3" />
<path d="M345.3,473.2 L346.2,477.6 L353.3,481.4 L351.4,476.1Z" fill="#7d0000" stroke="#7d0000" stroke-width="0.3" />
<path d="M348.7,432.1 L341.6,429.5 L341.6,429.5 L348.9,431.4Z" fill="#275c75" stroke="#275c75" stroke-width="0.3" />
<path d="M328.1,435.6 L334.2,431.5 L334.5,432 L328.4,436.4Z" fill="#347899" stroke="#347899" stroke-width="0.3" />
<path d="M334.2,431.5 L341.6,429.5 L341.6,429.5 L334.5,432Z" fill="#2e6b89" stroke="#2e6b89" stroke-width="0.3" />
<path d="M353.4,438.4 L348.2,432.8 L348.7,432.1 L354.2,437.1Z" fill="#204a5e" stroke="#204a5e" stroke-width="0.3" />
<path d="M329.6,461.7 L328.5,457.6 L331.7,458.8 L332.6,462.7Z" fill="#2d6884" stroke="#2d6884" stroke-width="0.3" />
<path d="M348.2,432.8 L341.6,429.5 L341.6,429.5 L348.7,432.1Z" fill="#285c75" stroke="#285c75" stroke-width="0.3" />
<path d="M332.6,462.7 L331.7,458.8 L335.2,459.7 L336,463.4Z" fill="#275b74" stroke="#275b74" stroke-width="0.3" />
<path d="M324.6,455.3 L324.4,449.9 L326.2,451.1 L326,456.4Z" fill="#367da0" stroke="#367da0" stroke-width="0.3" />
<path d="M324.5,442 L328.4,436.4 L329.1,437.3 L325.1,442.9Z" fill="#3780a3" stroke="#3780a3" stroke-width="0.3" />
<path d="M362.3,490.3 L359.2,489.3 L367.8,491 L372,491.6Z" fill="#550000" stroke="#550000" stroke-width="0.3" />
<path d="M334.5,432 L341.6,429.5 L341.6,429.5 L334.9,432.6Z" fill="#2e6b89" stroke="#2e6b89" stroke-width="0.3" />
<path d="M341.8,460.7 L341.8,455.6 L344.6,455.9 L344.2,460.8Z" fill="#1d4457" stroke="#1d4457" stroke-width="0.3" />
<path d="M353,447.7 L351,440.3 L352.3,439.4 L354.5,446.7Z" fill="#1b3e4f" stroke="#1b3e4f" stroke-width="0.3" />
<path d="M347.6,433.4 L341.6,429.5 L341.6,429.5 L348.2,432.8Z" fill="#285c75" stroke="#285c75" stroke-width="0.3" />
<path d="M323.4,448.9 L325.1,442.9 L326.3,444 L324.4,449.9Z" fill="#3882a6" stroke="#3882a6" stroke-width="0.3" />
<path d="M348.7,470.6 L351.4,476.1 L359.4,477.8 L354.9,471.7Z" fill="#760000" stroke="#760000" stroke-width="0.3" />
<path d="M346.2,477.6 L346.4,480.7 L353.9,485.3 L353.3,481.4Z" fill="#7d0000" stroke="#7d0000" stroke-width="0.3" />
<path d="M334.9,432.6 L341.6,429.5 L341.6,429.5 L335.5,433.1Z" fill="#2e6b88" stroke="#2e6b88" stroke-width="0.3" />
<path d="M346.9,433.9 L341.6,429.5 L341.6,429.5 L347.6,433.4Z" fill="#285c76" stroke="#285c76" stroke-width="0.3" />
<path d="M352.3,439.4 L347.6,433.4 L348.2,432.8 L353.4,438.4Z" fill="#204b60" stroke="#204b60" stroke-width="0.3" />
<path d="M346,434.3 L341.6,429.5 L341.6,429.5 L346.9,433.9Z" fill="#285c76" stroke="#285c76" stroke-width="0.3" />
<path d="M328.4,436.4 L334.5,432 L334.9,432.6 L329.1,437.3Z" fill="#337798" stroke="#337798" stroke-width="0.3" />
<path d="M335.5,433.1 L341.6,429.5 L341.6,429.5 L336.3,433.5Z" fill="#2e6a87" stroke="#2e6a87" stroke-width="0.3" />
<path d="M382.9,487.2 L380.9,490.2 L387.2,486.6 L389.6,483.3Z" fill="#3b0000" stroke="#3b0000" stroke-width="0.3" />
<path d="M345,434.6 L341.6,429.5 L341.6,429.5 L346,434.3Z" fill="#285d77" stroke="#285d77" stroke-width="0.3" />
<path d="M347.1,455.9 L347,449.2 L349.3,449 L349.1,455.8Z" fill="#1b3f51" stroke="#1b3f51" stroke-width="0.3" />
<path d="M336.3,433.5 L341.6,429.5 L341.6,429.5 L337.2,433.9Z" fill="#2d6985" stroke="#2d6985" stroke-width="0.3" />
<path d="M344,434.8 L341.6,429.5 L341.6,429.5 L345,434.6Z" fill="#285e77" stroke="#285e77" stroke-width="0.3" />
<path d="M337.2,433.9 L341.6,429.5 L341.6,429.5 L338.2,434.3Z" fill="#2c6783" stroke="#2c6783" stroke-width="0.3" />
<path d="M351.3,448.5 L349.5,441 L351,440.3 L353,447.7Z" fill="#1c4153" stroke="#1c4153" stroke-width="0.3" />
<path d="M342.8,434.9 L341.6,429.5 L341.6,429.5 L344,434.8Z" fill="#295f79" stroke="#295f79" stroke-width="0.3" />
<path d="M338.2,434.3 L341.6,429.5 L341.6,429.5 L339.3,434.6Z" fill="#2c6581" stroke="#2c6581" stroke-width="0.3" />
<path d="M341.6,434.9 L341.6,429.5 L341.6,429.5 L342.8,434.9Z" fill="#29607a" stroke="#29607a" stroke-width="0.3" />
<path d="M351,440.3 L346.9,433.9 L347.6,433.4 L352.3,439.4Z" fill="#214c62" stroke="#214c62" stroke-width="0.3" />
<path d="M339.3,434.6 L341.6,429.5 L341.6,429.5 L340.5,434.8Z" fill="#2b637f" stroke="#2b637f" stroke-width="0.3" />
<path d="M368.3,469.8 L376.1,475.8 L381.8,472.4 L372.8,467.2Z" fill="#620000" stroke="#620000" stroke-width="0.3" />
<path d="M340.5,434.8 L341.6,429.5 L341.6,429.5 L341.6,434.9Z" fill="#2a617c" stroke="#2a617c" stroke-width="0.3" />
<path d="M325.1,442.9 L329.1,437.3 L330.2,438.1 L326.3,444Z" fill="#377fa2" stroke="#377fa2" stroke-width="0.3" />
<path d="M329.1,437.3 L334.9,432.6 L335.5,433.1 L330.2,438.1Z" fill="#337697" stroke="#337697" stroke-width="0.3" />
<path d="M326,456.4 L326.2,451.1 L328.7,452.3 L328.5,457.6Z" fill="#347899" stroke="#347899" stroke-width="0.3" />
<path d="M338.7,460.3 L338.5,455.1 L341.8,455.6 L341.8,460.7Z" fill="#214c61" stroke="#214c61" stroke-width="0.3" />
<path d="M349.5,441 L346,434.3 L346.9,433.9 L351,440.3Z" fill="#224f64" stroke="#224f64" stroke-width="0.3" />
<path d="M324.4,449.9 L326.3,444 L328.1,445 L326.2,451.1Z" fill="#377fa3" stroke="#377fa3" stroke-width="0.3" />
<path d="M349.3,449 L347.8,441.5 L349.5,441 L351.3,448.5Z" fill="#1d4457" stroke="#1d4457" stroke-width="0.3" />
<path d="M344.6,455.9 L344.5,449.2 L347,449.2 L347.1,455.9Z" fill="#1e4558" stroke="#1e4558" stroke-width="0.3" />
<path d="M353.9,485.3 L353.2,486.8 L362.3,490.3 L363.4,488.3Z" fill="#6a0000" stroke="#6a0000" stroke-width="0.3" />
<path d="M330.2,438.1 L335.5,433.1 L336.3,433.5 L331.6,438.9Z" fill="#327494" stroke="#327494" stroke-width="0.3" />
<path d="M354.9,471.7 L359.4,477.8 L368.2,477.7 L361.9,471.4Z" fill="#700000" stroke="#700000" stroke-width="0.3" />
<path d="M347.8,441.5 L345,434.6 L346,434.3 L349.5,441Z" fill="#235168" stroke="#235168" stroke-width="0.3" />
<path d="M335.2,459.7 L335.1,454.3 L338.5,455.1 L338.7,460.3Z" fill="#25566e" stroke="#25566e" stroke-width="0.3" />
<path d="M328.5,457.6 L328.7,452.3 L331.7,453.4 L331.7,458.8Z" fill="#306f8d" stroke="#306f8d" stroke-width="0.3" />
<path d="M361.9,471.4 L368.2,477.7 L376.1,475.8 L368.3,469.8Z" fill="#690000" stroke="#690000" stroke-width="0.3" />
<path d="M381.2,482 L382.9,487.2 L389.6,483.3 L387.7,478.2Z" fill="#480000" stroke="#480000" stroke-width="0.3" />
<path d="M326.3,444 L330.2,438.1 L331.6,438.9 L328.1,445Z" fill="#357c9e" stroke="#357c9e" stroke-width="0.3" />
<path d="M331.7,458.8 L331.7,453.4 L335.1,454.3 L335.2,459.7Z" fill="#2a627e" stroke="#2a627e" stroke-width="0.3" />
<path d="M331.6,438.9 L336.3,433.5 L337.2,433.9 L333.3,439.7Z" fill="#317190" stroke="#317190" stroke-width="0.3" />
<path d="M376.1,475.8 L381.2,482 L387.7,478.2 L381.8,472.4Z" fill="#580000" stroke="#580000" stroke-width="0.3" />
<path d="M351.4,476.1 L353.3,481.4 L362.4,483.7 L359.4,477.8Z" fill="#760000" stroke="#760000" stroke-width="0.3" />
<path d="M345.9,441.7 L344,434.8 L345,434.6 L347.8,441.5Z" fill="#24546c" stroke="#24546c" stroke-width="0.3" />
<path d="M347,449.2 L345.9,441.7 L347.8,441.5 L349.3,449Z" fill="#1f495d" stroke="#1f495d" stroke-width="0.3" />
<path d="M373.7,489 L372,491.6 L380.9,490.2 L382.9,487.2Z" fill="#4c0000" stroke="#4c0000" stroke-width="0.3" />
<path d="M341.8,455.6 L341.8,448.9 L344.5,449.2 L344.6,455.9Z" fill="#214c61" stroke="#214c61" stroke-width="0.3" />
<path d="M326.2,451.1 L328.1,445 L330.3,446 L328.7,452.3Z" fill="#357a9c" stroke="#357a9c" stroke-width="0.3" />
<path d="M333.3,439.7 L337.2,433.9 L338.2,434.3 L335.2,440.4Z" fill="#2f6d8b" stroke="#2f6d8b" stroke-width="0.3" />
<path d="M343.9,441.8 L342.8,434.9 L344,434.8 L345.9,441.7Z" fill="#265870" stroke="#265870" stroke-width="0.3" />
<path d="M363.4,488.3 L362.3,490.3 L372,491.6 L373.7,489Z" fill="#5d0000" stroke="#5d0000" stroke-width="0.3" />
<path d="M353.3,481.4 L353.9,485.3 L363.4,488.3 L362.4,483.7Z" fill="#740000" stroke="#740000" stroke-width="0.3" />
<path d="M341.7,441.7 L341.6,434.9 L342.8,434.9 L343.9,441.8Z" fill="#285c75" stroke="#285c75" stroke-width="0.3" />
<path d="M335.2,440.4 L338.2,434.3 L339.3,434.6 L337.3,440.9Z" fill="#2d6986" stroke="#2d6986" stroke-width="0.3" />
<path d="M328.1,445 L331.6,438.9 L333.3,439.7 L330.3,446Z" fill="#337798" stroke="#337798" stroke-width="0.3" />
<path d="M344.5,449.2 L343.9,441.8 L345.9,441.7 L347,449.2Z" fill="#224e64" stroke="#224e64" stroke-width="0.3" />
<path d="M339.5,441.4 L340.5,434.8 L341.6,434.9 L341.7,441.7Z" fill="#29607b" stroke="#29607b" stroke-width="0.3" />
<path d="M337.3,440.9 L339.3,434.6 L340.5,434.8 L339.5,441.4Z" fill="#2b6580" stroke="#2b6580" stroke-width="0.3" />
<path d="M338.5,455.1 L338.8,448.5 L341.8,448.9 L341.8,455.6Z" fill="#24546b" stroke="#24546b" stroke-width="0.3" />
<path d="M328.7,452.3 L330.3,446 L333,447 L331.7,453.4Z" fill="#317292" stroke="#317292" stroke-width="0.3" />
<path d="M341.8,448.9 L341.7,441.7 L343.9,441.8 L344.5,449.2Z" fill="#24546c" stroke="#24546c" stroke-width="0.3" />
<path d="M330.3,446 L333.3,439.7 L335.2,440.4 L333,447Z" fill="#317191" stroke="#317191" stroke-width="0.3" />
<path d="M335.1,454.3 L335.8,447.8 L338.8,448.5 L338.5,455.1Z" fill="#285e78" stroke="#285e78" stroke-width="0.3" />
<path d="M331.7,453.4 L333,447 L335.8,447.8 L335.1,454.3Z" fill="#2d6885" stroke="#2d6885" stroke-width="0.3" />
<path d="M368.2,477.7 L372.3,484 L381.2,482 L376.1,475.8Z" fill="#630000" stroke="#630000" stroke-width="0.3" />
<path d="M359.4,477.8 L362.4,483.7 L372.3,484 L368.2,477.7Z" fill="#6d0000" stroke="#6d0000" stroke-width="0.3" />
<path d="M338.8,448.5 L339.5,441.4 L341.7,441.7 L341.8,448.9Z" fill="#275b75" stroke="#275b75" stroke-width="0.3" />
<path d="M372.3,484 L373.7,489 L382.9,487.2 L381.2,482Z" fill="#580000" stroke="#580000" stroke-width="0.3" />
<path d="M333,447 L335.2,440.4 L337.3,440.9 L335.8,447.8Z" fill="#2e6a88" stroke="#2e6a88" stroke-width="0.3" />
<path d="M335.8,447.8 L337.3,440.9 L339.5,441.4 L338.8,448.5Z" fill="#2b637e" stroke="#2b637e" stroke-width="0.3" />
<path d="M362.4,483.7 L363.4,488.3 L373.7,489 L372.3,484Z" fill="#680000" stroke="#680000" stroke-width="0.3" />
<text x="264.5" y="514.5" text-anchor="middle" fill="#222" style="font-family:'Liberation Sans';font-size:8.4px;" textLength="19.1" lengthAdjust="spacingAndGlyphs" >-400</text>
<text x="306.5" y="532.3" text-anchor="middle" fill="#222" style="font-family:'Liberation Sans';font-size:8.4px;" textLength="5.3" lengthAdjust="spacingAndGlyphs" >0</text>
<text x="344" y="548.6" text-anchor="middle" fill="#222" style="font-family:'Liberation Sans';font-size:8.4px;" textLength="16" lengthAdjust="spacingAndGlyphs" >400</text>
<text x="363.5" y="548.6" text-anchor="middle" fill="#222" style="font-family:'Liberation Sans';font-size:8.4px;" textLength="19.1" lengthAdjust="spacingAndGlyphs" >-400</text>
<text x="391" y="521" text-anchor="middle" fill="#222" style="font-family:'Liberation Sans';font-size:8.4px;" textLength="5.3" lengthAdjust="spacingAndGlyphs" >0</text>
<text x="417.7" y="494.2" text-anchor="middle" fill="#222" style="font-family:'Liberation Sans';font-size:8.4px;" textLength="16" lengthAdjust="spacingAndGlyphs" >400</text>
<text x="427.8" y="429.5" text-anchor="middle" fill="#222" style="font-family:'Liberation Sans';font-size:8.4px;" textLength="16" lengthAdjust="spacingAndGlyphs" >400</text>
<text x="422.9" y="457.6" text-anchor="middle" fill="#222" style="font-family:'Liberation Sans';font-size:8.4px;" textLength="5.3" lengthAdjust="spacingAndGlyphs" >0</text>
<text x="420.5" y="486.4" text-anchor="middle" fill="#222" style="font-family:'Liberation Sans';font-size:8.4px;" textLength="19.1" lengthAdjust="spacingAndGlyphs" >-400</text>
<text x="0" y="0" text-anchor="middle" fill="#222" style="font-family:'Liberation Sans';font-size:8.6px;" transform="translate(299.5 537.5) rotate(27)"><tspan font-style="italic">δ</tspan><tspan font-style="italic" font-size="6px" dy="1.6">PCS</tspan><tspan dy="-1.6"> / </tspan><tspan font-style="italic">Hz</tspan></text>
<text x="0" y="0" text-anchor="middle" fill="#222" style="font-family:'Liberation Sans';font-size:8.6px;" transform="translate(406.0 527.0) rotate(-46)"><tspan font-style="italic">δ</tspan><tspan font-style="italic" font-size="6px" dy="1.6">PCS</tspan><tspan dy="-1.6"> / </tspan><tspan font-style="italic">Hz</tspan></text>
<text x="0" y="0" text-anchor="middle" fill="#222" style="font-family:'Liberation Sans';font-size:8.6px;" transform="translate(438.5 456.5) rotate(-82)"><tspan font-style="italic">δ</tspan><tspan font-style="italic" font-size="6px" dy="1.6">PCS</tspan><tspan dy="-1.6"> / </tspan><tspan font-style="italic">Hz</tspan></text>
<line x1="252.5" y1="38.6" x2="255.5" y2="38.6" stroke="#6a6a6a" stroke-width="0.7" />
<line x1="252.5" y1="62.8" x2="255.5" y2="62.8" stroke="#6a6a6a" stroke-width="0.7" />
<line x1="252.5" y1="87" x2="255.5" y2="87" stroke="#6a6a6a" stroke-width="0.7" />
<line x1="252.5" y1="111.2" x2="255.5" y2="111.2" stroke="#6a6a6a" stroke-width="0.7" />
<line x1="252.5" y1="135.4" x2="255.5" y2="135.4" stroke="#6a6a6a" stroke-width="0.7" />
<line x1="252.5" y1="159.6" x2="255.5" y2="159.6" stroke="#6a6a6a" stroke-width="0.7" />
<line x1="263.8" y1="176" x2="263.8" y2="179" stroke="#6a6a6a" stroke-width="0.7" />
<text x="263.8" y="188" text-anchor="middle" fill="#222" style="font-family:'Liberation Sans';font-size:9.79px;" textLength="12" lengthAdjust="spacingAndGlyphs" >20</text>
<line x1="307.6" y1="176" x2="307.6" y2="179" stroke="#6a6a6a" stroke-width="0.7" />
<text x="307.6" y="188" text-anchor="middle" fill="#222" style="font-family:'Liberation Sans';font-size:9.79px;" textLength="12" lengthAdjust="spacingAndGlyphs" >10</text>
<line x1="351.4" y1="176" x2="351.4" y2="179" stroke="#6a6a6a" stroke-width="0.7" />
<text x="351.4" y="188" text-anchor="middle" fill="#222" style="font-family:'Liberation Sans';font-size:9.79px;" textLength="6" lengthAdjust="spacingAndGlyphs" >0</text>
<line x1="395.2" y1="176" x2="395.2" y2="179" stroke="#6a6a6a" stroke-width="0.7" />
<text x="395.2" y="188" text-anchor="middle" fill="#222" style="font-family:'Liberation Sans';font-size:9.79px;" textLength="19.8" lengthAdjust="spacingAndGlyphs" >−10</text>
<line x1="439" y1="176" x2="439" y2="179" stroke="#6a6a6a" stroke-width="0.7" />
<text x="439" y="188" text-anchor="middle" fill="#222" style="font-family:'Liberation Sans';font-size:9.79px;" textLength="19.8" lengthAdjust="spacingAndGlyphs" >−20</text>
<text x="244.7" y="99.7" text-anchor="middle" fill="#222" style="font-family:'Liberation Sans';font-size:8.4px;" transform="rotate(-90 244.7 99.7)" textLength="34" lengthAdjust="spacingAndGlyphs" >Intensity</text>
<text x="351.4" y="201.2" text-anchor="middle" fill="#222" style="font-family:'Liberation Sans';font-size:8.6px;" textLength="43.4" lengthAdjust="spacingAndGlyphs"><tspan font-style="italic">ν</tspan><tspan font-style="italic" font-size="6px" dy="1.5">off</tspan><tspan dy="-1.5"> / ppm</tspan></text>
<path d="M263.4,39.1 L263.8,39.1 L264.3,39.1 L264.7,39.1 L265.2,39.1 L265.6,39.1 L266,39.1 L266.5,39.1 L266.9,39.1 L267.4,39.2 L267.8,39.2 L268.2,39.2 L268.7,39.2 L269.1,39.2 L269.6,39.2 L270,39.2 L270.5,39.2 L270.9,39.2 L271.3,39.2 L271.8,39.2 L272.2,39.2 L272.7,39.2 L273.1,39.3 L273.5,39.3 L274,39.3 L274.4,39.3 L274.9,39.3 L275.3,39.3 L275.7,39.3 L276.2,39.3 L276.6,39.3 L277.1,39.3 L277.5,39.4 L277.9,39.4 L278.4,39.4 L278.8,39.4 L279.3,39.4 L279.7,39.4 L280.2,39.4 L280.6,39.4 L281,39.4 L281.5,39.5 L281.9,39.5 L282.4,39.5 L282.8,39.5 L283.2,39.5 L283.7,39.5 L284.1,39.5 L284.6,39.6 L285,39.6 L285.4,39.6 L285.9,39.6 L286.3,39.6 L286.8,39.6 L287.2,39.7 L287.6,39.7 L288.1,39.7 L288.5,39.7 L289,39.7 L289.4,39.8 L289.9,39.8 L290.3,39.8 L290.7,39.8 L291.2,39.9 L291.6,39.9 L292.1,40 L292.5,40 L292.9,40 L293.4,40.1 L293.8,40.1 L294.3,40.2 L294.7,40.3 L295.1,40.3 L295.6,40.4 L296,40.5 L296.5,40.5 L296.9,40.6 L297.3,40.7 L297.8,40.8 L298.2,40.9 L298.7,41 L299.1,41.1 L299.5,41.2 L300,41.3 L300.4,41.4 L300.9,41.5 L301.3,41.6 L301.8,41.8 L302.2,41.9 L302.6,42 L303.1,42.2 L303.5,42.3 L304,42.5 L304.4,42.8 L304.8,43 L305.3,43.3 L305.7,43.6 L306.2,43.9 L306.6,44.2 L307,44.6 L307.5,45 L307.9,45.4 L308.4,45.8 L308.8,46.3 L309.2,46.8 L309.7,47.4 L310.1,48.1 L310.6,48.9 L311,49.7 L311.5,50.7 L311.9,51.6 L312.3,52.7 L312.8,53.8 L313.2,55 L313.7,56.2 L314.1,57.7 L314.5,59.2 L315,61 L315.4,62.8 L315.9,64.8 L316.3,66.9 L316.7,69 L317.2,71.3 L317.6,73.8 L318.1,76.5 L318.5,79.5 L318.9,82.6 L319.4,86.5 L319.8,90.5 L320.3,93.5 L320.7,95.1 L321.2,95.5 L321.6,94.1 L322,91.4 L322.5,88.7 L322.9,86 L323.4,83.3 L323.8,80.5 L324.2,77.6 L324.7,74.7 L325.1,71.9 L325.6,69.4 L326,67.4 L326.4,65.5 L326.9,63.8 L327.3,62.2 L327.8,60.7 L328.2,59.4 L328.6,58.2 L329.1,57.1 L329.5,56.2 L330,55.3 L330.4,54.5 L330.9,53.7 L331.3,53 L331.7,52.3 L332.2,51.7 L332.6,51.1 L333.1,50.6 L333.5,50.2 L333.9,49.8 L334.4,49.4 L334.8,49.1 L335.3,48.7 L335.7,48.4 L336.1,48.1 L336.6,47.8 L337,47.5 L337.5,47.2 L337.9,47 L338.3,46.8 L338.8,46.6 L339.2,46.4 L339.7,46.3 L340.1,46.2 L340.5,46.1 L341,46 L341.4,45.9 L341.9,45.8 L342.3,45.8 L342.8,45.7 L343.2,45.6 L343.6,45.5 L344.1,45.5 L344.5,45.4 L345,45.4 L345.4,45.3 L345.8,45.3 L346.3,45.2 L346.7,45.2 L347.2,45.2 L347.6,45.1 L348,45.1 L348.5,45.1 L348.9,45.1 L349.4,45.1 L349.8,45.1 L350.2,45.1 L350.7,45.1 L351.1,45.1 L351.6,45.2 L352,45.2 L352.5,45.2 L352.9,45.2 L353.3,45.3 L353.8,45.3 L354.2,45.3 L354.7,45.4 L355.1,45.4 L355.5,45.5 L356,45.5 L356.4,45.6 L356.9,45.7 L357.3,45.9 L357.7,46 L358.2,46.2 L358.6,46.3 L359.1,46.5 L359.5,46.7 L359.9,46.9 L360.4,47.1 L360.8,47.4 L361.3,47.6 L361.7,47.8 L362.2,48.1 L362.6,48.3 L363,48.5 L363.5,48.8 L363.9,49.1 L364.4,49.4 L364.8,49.7 L365.2,50.1 L365.7,50.5 L366.1,50.8 L366.6,51.3 L367,51.7 L367.4,52.2 L367.9,52.7 L368.3,53.2 L368.8,53.8 L369.2,54.4 L369.6,55.2 L370.1,56 L370.5,56.9 L371,58 L371.4,59.1 L371.8,60.3 L372.3,61.5 L372.7,62.9 L373.2,64.3 L373.6,65.9 L374.1,67.7 L374.5,69.8 L374.9,72.4 L375.4,75.5 L375.8,80.1 L376.3,86.2 L376.7,93.8 L377.1,104 L377.6,113 L378,120.9 L378.5,127 L378.9,132.8 L379.3,140.5 L379.8,150.3 L380.2,157.4 L380.7,162.6 L381.1,167 L381.5,168.9 L382,167.6 L382.4,164.6 L382.9,159.9 L383.3,154 L383.8,148.3 L384.2,142.3 L384.6,135.2 L385.1,125.5 L385.5,116.5 L386,108.5 L386.4,96.1 L386.8,84.4 L387.3,75.9 L387.7,70.1 L388.2,65.3 L388.6,61.5 L389,58.8 L389.5,56.6 L389.9,54.6 L390.4,52.8 L390.8,51.2 L391.2,49.8 L391.7,48.6 L392.1,47.6 L392.6,46.7 L393,46.1 L393.5,45.6 L393.9,45 L394.3,44.5 L394.8,44.1 L395.2,43.7 L395.7,43.3 L396.1,42.9 L396.5,42.6 L397,42.3 L397.4,42 L397.9,41.8 L398.3,41.6 L398.7,41.4 L399.2,41.3 L399.6,41.1 L400.1,41 L400.5,40.9 L400.9,40.7 L401.4,40.6 L401.8,40.5 L402.3,40.4 L402.7,40.3 L403.2,40.2 L403.6,40.1 L404,40 L404.5,39.9 L404.9,39.9 L405.4,39.8 L405.8,39.7 L406.2,39.7 L406.7,39.6 L407.1,39.6 L407.6,39.5 L408,39.5 L408.4,39.5 L408.9,39.4 L409.3,39.4 L409.8,39.4 L410.2,39.3 L410.6,39.3 L411.1,39.3 L411.5,39.2 L412,39.2 L412.4,39.2 L412.8,39.2 L413.3,39.1 L413.7,39.1 L414.2,39.1 L414.6,39.1 L415.1,39 L415.5,39 L415.9,39 L416.4,39 L416.8,39 L417.3,38.9 L417.7,38.9 L418.1,38.9 L418.6,38.9 L419,38.9 L419.5,38.9 L419.9,38.8 L420.3,38.8 L420.8,38.8 L421.2,38.8 L421.7,38.8 L422.1,38.8 L422.5,38.8 L423,38.7 L423.4,38.7 L423.9,38.7 L424.3,38.7 L424.8,38.7 L425.2,38.7 L425.6,38.7 L426.1,38.7 L426.5,38.7 L427,38.7 L427.4,38.6 L427.8,38.6 L428.3,38.6 L428.7,38.6 L429.2,38.6 L429.6,38.6 L430,38.6 L430.5,38.6 L430.9,38.6 L431.4,38.6 L431.8,38.6 L432.2,38.6 L432.7,38.6 L433.1,38.5 L433.6,38.5 L434,38.5 L434.5,38.5 L434.9,38.5 L435.3,38.5 L435.8,38.5 L436.2,38.5 L436.7,38.5 L437.1,38.5 L437.5,38.5 L438,38.5 L438.4,38.5 L438.9,38.5 L439.3,38.5" fill="none" stroke="#7b1a80" stroke-width="1.25" stroke-linejoin="round" stroke-linecap="round" />
<rect x="255.5" y="32.6" width="192.3" height="143.4" fill="none" stroke="#4d4d4d" stroke-width="0.9" />
<rect x="261.1" y="100.5" width="108.6" height="61.5" fill="#fff" stroke="#777" stroke-width="0.8" />
<line x1="258.6" y1="113.4" x2="261.1" y2="113.4" stroke="#6a6a6a" stroke-width="0.6" />
<line x1="258.6" y1="136.1" x2="261.1" y2="136.1" stroke="#6a6a6a" stroke-width="0.6" />
<line x1="258.6" y1="159.8" x2="261.1" y2="159.8" stroke="#6a6a6a" stroke-width="0.6" />
<line x1="265.5" y1="162" x2="265.5" y2="164.5" stroke="#6a6a6a" stroke-width="0.6" />
<text x="265.5" y="171.9" text-anchor="middle" fill="#222" style="font-family:'Liberation Sans';font-size:7.48px;" textLength="8.9" lengthAdjust="spacingAndGlyphs" >20</text>
<line x1="314.9" y1="162" x2="314.9" y2="164.5" stroke="#6a6a6a" stroke-width="0.6" />
<text x="314.9" y="171.9" text-anchor="middle" fill="#222" style="font-family:'Liberation Sans';font-size:7.48px;" textLength="4.5" lengthAdjust="spacingAndGlyphs" >0</text>
<line x1="364.2" y1="162" x2="364.2" y2="164.5" stroke="#6a6a6a" stroke-width="0.6" />
<text x="364.2" y="171.9" text-anchor="middle" fill="#222" style="font-family:'Liberation Sans';font-size:7.48px;" textLength="14.8" lengthAdjust="spacingAndGlyphs" >−20</text>
<path d="M265.5,159.7 L265.7,159.7 L265.9,159.7 L266,159.7 L266.2,159.7 L266.4,159.7 L266.5,159.7 L266.7,159.7 L266.9,159.7 L267,159.7 L267.2,159.7 L267.4,159.7 L267.5,159.7 L267.7,159.7 L267.9,159.7 L268,159.7 L268.2,159.7 L268.4,159.7 L268.5,159.7 L268.7,159.7 L268.8,159.7 L269,159.7 L269.2,159.7 L269.3,159.7 L269.5,159.7 L269.7,159.7 L269.8,159.7 L270,159.7 L270.2,159.7 L270.3,159.7 L270.5,159.7 L270.7,159.7 L270.8,159.7 L271,159.7 L271.2,159.7 L271.3,159.7 L271.5,159.7 L271.6,159.7 L271.8,159.7 L272,159.7 L272.1,159.7 L272.3,159.7 L272.5,159.7 L272.6,159.7 L272.8,159.7 L273,159.7 L273.1,159.7 L273.3,159.7 L273.5,159.7 L273.6,159.7 L273.8,159.7 L274,159.7 L274.1,159.7 L274.3,159.7 L274.4,159.7 L274.6,159.7 L274.8,159.7 L274.9,159.7 L275.1,159.7 L275.3,159.7 L275.4,159.7 L275.6,159.7 L275.8,159.7 L275.9,159.7 L276.1,159.7 L276.3,159.7 L276.4,159.7 L276.6,159.7 L276.8,159.7 L276.9,159.7 L277.1,159.7 L277.2,159.7 L277.4,159.7 L277.6,159.7 L277.7,159.7 L277.9,159.7 L278.1,159.7 L278.2,159.7 L278.4,159.7 L278.6,159.7 L278.7,159.7 L278.9,159.7 L279.1,159.7 L279.2,159.7 L279.4,159.7 L279.6,159.7 L279.7,159.7 L279.9,159.7 L280.1,159.7 L280.2,159.7 L280.4,159.7 L280.5,159.7 L280.7,159.7 L280.9,159.7 L281,159.7 L281.2,159.7 L281.4,159.7 L281.5,159.7 L281.7,159.7 L281.9,159.7 L282,159.7 L282.2,159.7 L282.4,159.7 L282.5,159.7 L282.7,159.7 L282.9,159.7 L283,159.7 L283.2,159.7 L283.3,159.7 L283.5,159.7 L283.7,159.7 L283.8,159.7 L284,159.7 L284.2,159.7 L284.3,159.7 L284.5,159.7 L284.7,159.7 L284.8,159.7 L285,159.7 L285.2,159.7 L285.3,159.7 L285.5,159.7 L285.7,159.7 L285.8,159.7 L286,159.7 L286.1,159.7 L286.3,159.7 L286.5,159.7 L286.6,159.7 L286.8,159.7 L287,159.7 L287.1,159.7 L287.3,159.7 L287.5,159.7 L287.6,159.7 L287.8,159.7 L288,159.7 L288.1,159.7 L288.3,159.7 L288.5,159.7 L288.6,159.7 L288.8,159.7 L288.9,159.7 L289.1,159.7 L289.3,159.7 L289.4,159.7 L289.6,159.7 L289.8,159.7 L289.9,159.7 L290.1,159.7 L290.3,159.7 L290.4,159.7 L290.6,159.7 L290.8,159.7 L290.9,159.7 L291.1,159.7 L291.3,159.7 L291.4,159.7 L291.6,159.7 L291.7,159.7 L291.9,159.7 L292.1,159.7 L292.2,159.7 L292.4,159.7 L292.6,159.7 L292.7,159.7 L292.9,159.7 L293.1,159.7 L293.2,159.7 L293.4,159.7 L293.6,159.7 L293.7,159.7 L293.9,159.7 L294.1,159.7 L294.2,159.7 L294.4,159.7 L294.6,159.7 L294.7,159.7 L294.9,159.7 L295,159.7 L295.2,159.7 L295.4,159.7 L295.5,159.7 L295.7,159.7 L295.9,159.7 L296,159.7 L296.2,159.7 L296.4,159.7 L296.5,159.7 L296.7,159.7 L296.9,159.7 L297,159.7 L297.2,159.7 L297.4,159.7 L297.5,159.7 L297.7,159.7 L297.8,159.7 L298,159.7 L298.2,159.7 L298.3,159.7 L298.5,159.7 L298.7,159.7 L298.8,159.7 L299,159.7 L299.2,159.7 L299.3,159.7 L299.5,159.7 L299.7,159.7 L299.8,159.7 L300,159.7 L300.2,159.7 L300.3,159.7 L300.5,159.7 L300.6,159.7 L300.8,159.7 L301,159.7 L301.1,159.7 L301.3,159.7 L301.5,159.7 L301.6,159.7 L301.8,159.7 L302,159.7 L302.1,159.7 L302.3,159.7 L302.5,159.7 L302.6,159.7 L302.8,159.7 L303,159.7 L303.1,159.7 L303.3,159.7 L303.4,159.7 L303.6,159.7 L303.8,159.7 L303.9,159.7 L304.1,159.7 L304.3,159.7 L304.4,159.7 L304.6,159.7 L304.8,159.7 L304.9,159.7 L305.1,159.7 L305.3,159.7 L305.4,159.7 L305.6,159.7 L305.8,159.7 L305.9,159.7 L306.1,159.7 L306.2,159.7 L306.4,159.7 L306.6,159.7 L306.7,159.7 L306.9,159.7 L307.1,159.7 L307.2,159.7 L307.4,159.7 L307.6,159.7 L307.7,159.7 L307.9,159.7 L308.1,159.7 L308.2,159.7 L308.4,159.7 L308.6,159.7 L308.7,159.7 L308.9,159.7 L309.1,159.7 L309.2,159.7 L309.4,159.7 L309.5,159.7 L309.7,159.7 L309.9,159.7 L310,159.7 L310.2,159.7 L310.4,159.7 L310.5,159.7 L310.7,159.7 L310.9,159.7 L311,159.7 L311.2,159.7 L311.4,159.7 L311.5,159.7 L311.7,159.7 L311.9,159.7 L312,159.7 L312.2,159.7 L312.3,159.7 L312.5,159.7 L312.7,159.7 L312.8,159.7 L313,159.7 L313.2,159.7 L313.3,159.7 L313.5,159.7 L313.7,159.7 L313.8,159.7 L314,159.7 L314.2,159.7 L314.3,159.7 L314.5,159.7 L314.7,159.7 L314.8,159.7 L315,159.7 L315.1,159.7 L315.3,159.7 L315.5,159.7 L315.6,159.7 L315.8,159.7 L316,159.7 L316.1,159.7 L316.3,159.7 L316.5,159.7 L316.6,159.7 L316.8,159.7 L317,159.7 L317.1,159.7 L317.3,159.7 L317.5,159.7 L317.6,159.7 L317.8,159.7 L317.9,159.7 L318.1,159.7 L318.3,159.7 L318.4,159.7 L318.6,159.7 L318.8,159.7 L318.9,159.7 L319.1,159.7 L319.3,159.7 L319.4,159.7 L319.6,159.7 L319.8,159.7 L319.9,159.7 L320.1,159.7 L320.3,159.7 L320.4,159.7 L320.6,159.7 L320.7,159.7 L320.9,159.7 L321.1,159.7 L321.2,159.7 L321.4,159.7 L321.6,159.7 L321.7,159.7 L321.9,159.7 L322.1,159.7 L322.2,159.7 L322.4,159.7 L322.6,159.7 L322.7,159.7 L322.9,159.7 L323.1,159.7 L323.2,159.7 L323.4,159.7 L323.6,159.7 L323.7,159.7 L323.9,159.7 L324,159.7 L324.2,159.7 L324.4,159.7 L324.5,159.7 L324.7,159.7 L324.9,159.6 L325,159.6 L325.2,159.6 L325.4,159.6 L325.5,159.6 L325.7,159.6 L325.9,159.6 L326,159.6 L326.2,159.6 L326.4,159.6 L326.5,159.6 L326.7,159.6 L326.8,159.6 L327,159.6 L327.2,159.6 L327.3,159.6 L327.5,159.6 L327.7,159.6 L327.8,159.6 L328,159.5 L328.2,159.5 L328.3,159.5 L328.5,159.5 L328.7,159.5 L328.8,159.5 L329,159.4 L329.2,159.4 L329.3,159.4 L329.5,159.3 L329.6,159.3 L329.8,159.2 L330,159.1 L330.1,159 L330.3,158.9 L330.5,158.8 L330.6,158.5 L330.8,158.3 L331,157.8 L331.1,157.2 L331.3,156.3 L331.5,154.7 L331.6,151.7 L331.8,145.5 L332,131 L332.1,103.2 L332.1,106.3 L332.3,114.5 L332.4,137.5 L332.6,148.3 L332.8,153 L332.9,155.4 L333.1,156.7 L333.3,157.5 L333.4,158 L333.6,158.4 L333.8,158.6 L333.9,158.8 L334.1,159 L334.3,159.1 L334.4,159.2 L334.6,159.2 L334.8,159.3 L334.9,159.3 L335.1,159.4 L335.2,159.4 L335.4,159.4 L335.6,159.5 L335.7,159.5 L335.9,159.5 L336.1,159.5 L336.2,159.5 L336.4,159.5 L336.6,159.6 L336.7,159.6 L336.9,159.6 L337.1,159.6 L337.2,159.6 L337.4,159.6 L337.6,159.6 L337.7,159.6 L337.9,159.6 L338.1,159.6 L338.2,159.6 L338.4,159.6 L338.5,159.6 L338.7,159.6 L338.9,159.6 L339,159.6 L339.2,159.6 L339.4,159.6 L339.5,159.6 L339.7,159.7 L339.9,159.7 L340,159.7 L340.2,159.7 L340.4,159.7 L340.5,159.7 L340.7,159.7 L340.9,159.7 L341,159.7 L341.2,159.7 L341.3,159.7 L341.5,159.7 L341.7,159.7 L341.8,159.7 L342,159.7 L342.2,159.7 L342.3,159.7 L342.5,159.7 L342.7,159.7 L342.8,159.7 L343,159.7 L343.2,159.7 L343.3,159.7 L343.5,159.7 L343.7,159.7 L343.8,159.7 L344,159.7 L344.1,159.7 L344.3,159.7 L344.5,159.7 L344.6,159.7 L344.8,159.7 L345,159.7 L345.1,159.7 L345.3,159.7 L345.5,159.7 L345.6,159.7 L345.8,159.7 L346,159.7 L346.1,159.7 L346.3,159.7 L346.5,159.7 L346.6,159.7 L346.8,159.7 L346.9,159.7 L347.1,159.7 L347.3,159.7 L347.4,159.7 L347.6,159.7 L347.8,159.7 L347.9,159.7 L348.1,159.7 L348.3,159.7 L348.4,159.7 L348.6,159.7 L348.8,159.7 L348.9,159.7 L349.1,159.7 L349.3,159.7 L349.4,159.7 L349.6,159.7 L349.7,159.7 L349.9,159.7 L350.1,159.7 L350.2,159.7 L350.4,159.7 L350.6,159.7 L350.7,159.7 L350.9,159.7 L351.1,159.7 L351.2,159.7 L351.4,159.7 L351.6,159.7 L351.7,159.7 L351.9,159.7 L352.1,159.7 L352.2,159.7 L352.4,159.7 L352.6,159.7 L352.7,159.7 L352.9,159.7 L353,159.7 L353.2,159.7 L353.4,159.7 L353.5,159.7 L353.7,159.7 L353.9,159.7 L354,159.7 L354.2,159.7 L354.4,159.7 L354.5,159.7 L354.7,159.7 L354.9,159.7 L355,159.7 L355.2,159.7 L355.4,159.7 L355.5,159.7 L355.7,159.7 L355.8,159.7 L356,159.7 L356.2,159.7 L356.3,159.7 L356.5,159.7 L356.7,159.7 L356.8,159.7 L357,159.7 L357.2,159.7 L357.3,159.7 L357.5,159.7 L357.7,159.7 L357.8,159.7 L358,159.7 L358.2,159.7 L358.3,159.7 L358.5,159.7 L358.6,159.7 L358.8,159.7 L359,159.7 L359.1,159.7 L359.3,159.7 L359.5,159.7 L359.6,159.7 L359.8,159.7 L360,159.7 L360.1,159.7 L360.3,159.7 L360.5,159.7 L360.6,159.7 L360.8,159.7 L361,159.7 L361.1,159.7 L361.3,159.7 L361.4,159.7 L361.6,159.7 L361.8,159.7 L361.9,159.7 L362.1,159.7 L362.3,159.7 L362.4,159.7 L362.6,159.7 L362.8,159.7 L362.9,159.7 L363.1,159.7 L363.3,159.7 L363.4,159.7 L363.6,159.7 L363.8,159.7 L363.9,159.7 L364.1,159.7 L364.2,159.7" fill="none" stroke="#2e7f77" stroke-width="1.0" stroke-linejoin="round" stroke-linecap="round" />
<text x="270.2" y="114.2" text-anchor="start" fill="#222" style="font-family:'Liberation Sans';font-size:10.0px;" textLength="46.3" lengthAdjust="spacingAndGlyphs" >Spectrum</text>
<text x="276.5" y="136" text-anchor="start" fill="#222" style="font-family:'Liberation Sans';font-size:8.0px;" textLength="46" lengthAdjust="spacingAndGlyphs" >5% of signal</text>
<line x1="298.5" y1="139.2" x2="298.5" y2="150.5" stroke="#111" stroke-width="0.9" />
<path d="M296.2,149.5 L300.8,149.5 L298.5,155Z" fill="#111" stroke="none" stroke-width="0" />
<line x1="474.5" y1="41.3" x2="682.8" y2="41.3" stroke="#6e6e6e" stroke-width="1.0" stroke-dasharray="3.6,1.6"/>
<line x1="474.5" y1="164.8" x2="682.8" y2="164.8" stroke="#222" stroke-width="1.0" stroke-dasharray="1.0,1.6"/>
<path d="M483.7,154 L484.2,153.2 L484.7,152.6 L485.1,151.9 L485.6,151.3 L486.1,150.8 L486.6,150.4 L487.1,149.9 L487.5,149.5 L488,149.2 L488.5,148.9 L489,148.6 L489.5,148.4 L490,148.2 L490.4,148 L490.9,147.9 L491.4,147.8 L491.9,147.7 L492.4,147.6 L492.8,147.6 L493.3,147.5 L493.8,147.5 L494.3,147.5 L494.8,147.6 L495.2,147.6 L495.7,147.6 L496.2,147.7 L496.7,147.8 L497.2,147.9 L497.7,148 L498.1,148.1 L498.6,148.2 L499.1,148.3 L499.6,148.4 L500.1,148.6 L500.5,148.7 L501,148.8 L501.5,149 L502,149.1 L502.5,149.3 L502.9,149.5 L503.4,149.6 L503.9,149.8 L504.4,150 L504.9,150.1 L505.4,150.3 L505.8,150.5 L506.3,150.7 L506.8,150.8 L507.3,151 L507.8,151.2 L508.2,151.4 L508.7,151.5 L509.2,151.7 L509.7,151.9 L510.2,152.1 L510.6,152.3 L511.1,152.4 L511.6,152.6 L512.1,152.8 L512.6,153 L513.1,153.1 L513.5,153.3 L514,153.5 L514.5,153.6 L515,153.8 L515.5,154 L515.9,154.1 L516.4,154.3 L516.9,154.5 L517.4,154.6 L517.9,154.8 L518.3,154.9 L518.8,155.1 L519.3,155.2 L519.8,155.4 L520.3,155.5 L520.8,155.7 L521.2,155.8 L521.7,156 L522.2,156.1 L522.7,156.3 L523.2,156.4 L523.6,156.5 L524.1,156.7 L524.6,156.8 L525.1,156.9 L525.6,157.1 L526,157.2 L526.5,157.3 L527,157.4 L527.5,157.6 L528,157.7 L528.5,157.8 L528.9,157.9 L529.4,158 L529.9,158.1 L530.4,158.3 L530.9,158.4 L531.3,158.5 L531.8,158.6 L532.3,158.7 L532.8,158.8 L533.3,158.9 L533.7,159 L534.2,159.1 L534.7,159.2 L535.2,159.3 L535.7,159.4 L536.2,159.5 L536.6,159.6 L537.1,159.7 L537.6,159.7 L538.1,159.8 L538.6,159.9 L539,160 L539.5,160.1 L540,160.2 L540.5,160.2 L541,160.3 L541.4,160.4 L541.9,160.5 L542.4,160.5 L542.9,160.6 L543.4,160.7 L543.9,160.8 L544.3,160.8 L544.8,160.9 L545.3,161 L545.8,161 L546.3,161.1 L546.7,161.2 L547.2,161.2 L547.7,161.3 L548.2,161.4 L548.7,161.4 L549.1,161.5 L549.6,161.5 L550.1,161.6 L550.6,161.6 L551.1,161.7 L551.5,161.8 L552,161.8 L552.5,161.9 L553,161.9 L553.5,162 L554,162 L554.4,162.1 L554.9,162.1 L555.4,162.2 L555.9,162.2 L556.4,162.3 L556.8,162.3 L557.3,162.3 L557.8,162.4 L558.3,162.4 L558.8,162.5 L559.2,162.5 L559.7,162.6 L560.2,162.6 L560.7,162.6 L561.2,162.7 L561.7,162.7 L562.1,162.7 L562.6,162.8 L563.1,162.8 L563.6,162.9 L564.1,162.9 L564.5,162.9 L565,163 L565.5,163 L566,163 L566.5,163.1 L566.9,163.1 L567.4,163.1 L567.9,163.1 L568.4,163.2 L568.9,163.2 L569.4,163.2 L569.8,163.3 L570.3,163.3 L570.8,163.3 L571.3,163.3 L571.8,163.4 L572.2,163.4 L572.7,163.4 L573.2,163.4 L573.7,163.5 L574.2,163.5 L574.6,163.5 L575.1,163.5 L575.6,163.6 L576.1,163.6 L576.6,163.6 L577.1,163.6 L577.5,163.7 L578,163.7 L578.5,163.7 L579,163.7 L579.5,163.7 L579.9,163.8 L580.4,163.8 L580.9,163.8 L581.4,163.8 L581.9,163.8 L582.3,163.8 L582.8,163.9 L583.3,163.9 L583.8,163.9 L584.3,163.9 L584.8,163.9 L585.2,163.9 L585.7,164 L586.2,164 L586.7,164 L587.2,164 L587.6,164 L588.1,164 L588.6,164.1 L589.1,164.1 L589.6,164.1 L590,164.1 L590.5,164.1 L591,164.1 L591.5,164.1 L592,164.1 L592.5,164.2 L592.9,164.2 L593.4,164.2 L593.9,164.2 L594.4,164.2 L594.9,164.2 L595.3,164.2 L595.8,164.2 L596.3,164.2 L596.8,164.3 L597.3,164.3 L597.7,164.3 L598.2,164.3 L598.7,164.3 L599.2,164.3 L599.7,164.3 L600.2,164.3 L600.6,164.3 L601.1,164.3 L601.6,164.4 L602.1,164.4 L602.6,164.4 L603,164.4 L603.5,164.4 L604,164.4 L604.5,164.4 L605,164.4 L605.4,164.4 L605.9,164.4 L606.4,164.4 L606.9,164.4 L607.4,164.5 L607.9,164.5 L608.3,164.5 L608.8,164.5 L609.3,164.5 L609.8,164.5 L610.3,164.5 L610.7,164.5 L611.2,164.5 L611.7,164.5 L612.2,164.5 L612.7,164.5 L613.1,164.5 L613.6,164.5 L614.1,164.5 L614.6,164.5 L615.1,164.6 L615.5,164.6 L616,164.6 L616.5,164.6 L617,164.6 L617.5,164.6 L618,164.6 L618.4,164.6 L618.9,164.6 L619.4,164.6 L619.9,164.6 L620.4,164.6 L620.8,164.6 L621.3,164.6 L621.8,164.6 L622.3,164.6 L622.8,164.6 L623.2,164.6 L623.7,164.6 L624.2,164.6 L624.7,164.6 L625.2,164.6 L625.7,164.7 L626.1,164.7 L626.6,164.7 L627.1,164.7 L627.6,164.7 L628.1,164.7 L628.5,164.7 L629,164.7 L629.5,164.7 L630,164.7 L630.5,164.7 L630.9,164.7 L631.4,164.7 L631.9,164.7 L632.4,164.7 L632.9,164.7 L633.4,164.7 L633.8,164.7 L634.3,164.7 L634.8,164.7 L635.3,164.7 L635.8,164.7 L636.2,164.7 L636.7,164.7 L637.2,164.7 L637.7,164.7 L638.2,164.7 L638.6,164.7 L639.1,164.7 L639.6,164.7 L640.1,164.7 L640.6,164.7 L641.1,164.7 L641.5,164.7 L642,164.7 L642.5,164.7 L643,164.8 L643.5,164.8 L643.9,164.8 L644.4,164.8 L644.9,164.8 L645.4,164.8 L645.9,164.8 L646.3,164.8 L646.8,164.8 L647.3,164.8 L647.8,164.8 L648.3,164.8 L648.8,164.8 L649.2,164.8 L649.7,164.8 L650.2,164.8 L650.7,164.8 L651.2,164.8 L651.6,164.8 L652.1,164.8 L652.6,164.8 L653.1,164.8 L653.6,164.8 L654,164.8 L654.5,164.8 L655,164.8 L655.5,164.8 L656,164.8 L656.5,164.8 L656.9,164.8 L657.4,164.8 L657.9,164.8 L658.4,164.8 L658.9,164.8 L659.3,164.8 L659.8,164.8 L660.3,164.8 L660.8,164.8 L661.3,164.8 L661.7,164.8 L662.2,164.8 L662.7,164.8 L663.2,164.8 L663.7,164.8 L664.2,164.8 L664.6,164.8 L665.1,164.8 L665.6,164.8 L666.1,164.8 L666.6,164.8 L667,164.8 L667.5,164.8 L668,164.8 L668.5,164.8 L669,164.8 L669.4,164.8 L669.9,164.8 L670.4,164.8 L670.9,164.8 L671.4,164.8 L671.9,164.8 L672.3,164.8 L672.8,164.8 L673.3,164.8 L673.8,164.8 L674.3,164.8 L674.7,164.8 L675.2,164.8 L675.7,164.8" fill="none" stroke="#3a64ad" stroke-width="1.2" stroke-linejoin="round" stroke-linecap="round" />
<path d="M483.7,154 L484.2,150.4 L484.7,147.1 L485.1,144 L485.6,141.2 L486.1,138.7 L486.6,136.3 L487.1,134 L487.5,132 L488,130 L488.5,128.2 L489,126.4 L489.5,124.8 L490,123.2 L490.4,121.7 L490.9,120.2 L491.4,118.8 L491.9,117.5 L492.4,116.2 L492.8,115 L493.3,113.7 L493.8,112.6 L494.3,111.4 L494.8,110.3 L495.2,109.2 L495.7,108.1 L496.2,107.1 L496.7,106.1 L497.2,105.1 L497.7,104.1 L498.1,103.1 L498.6,102.2 L499.1,101.3 L499.6,100.4 L500.1,99.5 L500.5,98.6 L501,97.7 L501.5,96.9 L502,96 L502.5,95.2 L502.9,94.4 L503.4,93.6 L503.9,92.8 L504.4,92.1 L504.9,91.3 L505.4,90.6 L505.8,89.8 L506.3,89.1 L506.8,88.4 L507.3,87.7 L507.8,87 L508.2,86.3 L508.7,85.6 L509.2,85 L509.7,84.3 L510.2,83.7 L510.6,83.1 L511.1,82.4 L511.6,81.8 L512.1,81.2 L512.6,80.6 L513.1,80.1 L513.5,79.5 L514,78.9 L514.5,78.4 L515,77.8 L515.5,77.3 L515.9,76.7 L516.4,76.2 L516.9,75.7 L517.4,75.2 L517.9,74.7 L518.3,74.2 L518.8,73.7 L519.3,73.2 L519.8,72.7 L520.3,72.3 L520.8,71.8 L521.2,71.3 L521.7,70.9 L522.2,70.5 L522.7,70 L523.2,69.6 L523.6,69.2 L524.1,68.8 L524.6,68.4 L525.1,68 L525.6,67.6 L526,67.2 L526.5,66.8 L527,66.4 L527.5,66 L528,65.7 L528.5,65.3 L528.9,65 L529.4,64.6 L529.9,64.3 L530.4,63.9 L530.9,63.6 L531.3,63.2 L531.8,62.9 L532.3,62.6 L532.8,62.3 L533.3,62 L533.7,61.7 L534.2,61.4 L534.7,61.1 L535.2,60.8 L535.7,60.5 L536.2,60.2 L536.6,59.9 L537.1,59.6 L537.6,59.4 L538.1,59.1 L538.6,58.8 L539,58.6 L539.5,58.3 L540,58.1 L540.5,57.8 L541,57.6 L541.4,57.3 L541.9,57.1 L542.4,56.9 L542.9,56.6 L543.4,56.4 L543.9,56.2 L544.3,56 L544.8,55.7 L545.3,55.5 L545.8,55.3 L546.3,55.1 L546.7,54.9 L547.2,54.7 L547.7,54.5 L548.2,54.3 L548.7,54.1 L549.1,53.9 L549.6,53.7 L550.1,53.5 L550.6,53.4 L551.1,53.2 L551.5,53 L552,52.8 L552.5,52.7 L553,52.5 L553.5,52.3 L554,52.2 L554.4,52 L554.9,51.8 L555.4,51.7 L555.9,51.5 L556.4,51.4 L556.8,51.2 L557.3,51.1 L557.8,50.9 L558.3,50.8 L558.8,50.7 L559.2,50.5 L559.7,50.4 L560.2,50.2 L560.7,50.1 L561.2,50 L561.7,49.8 L562.1,49.7 L562.6,49.6 L563.1,49.5 L563.6,49.4 L564.1,49.2 L564.5,49.1 L565,49 L565.5,48.9 L566,48.8 L566.5,48.7 L566.9,48.6 L567.4,48.4 L567.9,48.3 L568.4,48.2 L568.9,48.1 L569.4,48 L569.8,47.9 L570.3,47.8 L570.8,47.7 L571.3,47.6 L571.8,47.5 L572.2,47.5 L572.7,47.4 L573.2,47.3 L573.7,47.2 L574.2,47.1 L574.6,47 L575.1,46.9 L575.6,46.8 L576.1,46.8 L576.6,46.7 L577.1,46.6 L577.5,46.5 L578,46.4 L578.5,46.4 L579,46.3 L579.5,46.2 L579.9,46.1 L580.4,46.1 L580.9,46 L581.4,45.9 L581.9,45.9 L582.3,45.8 L582.8,45.7 L583.3,45.7 L583.8,45.6 L584.3,45.5 L584.8,45.5 L585.2,45.4 L585.7,45.3 L586.2,45.3 L586.7,45.2 L587.2,45.2 L587.6,45.1 L588.1,45.1 L588.6,45 L589.1,44.9 L589.6,44.9 L590,44.8 L590.5,44.8 L591,44.7 L591.5,44.7 L592,44.6 L592.5,44.6 L592.9,44.5 L593.4,44.5 L593.9,44.4 L594.4,44.4 L594.9,44.3 L595.3,44.3 L595.8,44.3 L596.3,44.2 L596.8,44.2 L597.3,44.1 L597.7,44.1 L598.2,44 L598.7,44 L599.2,44 L599.7,43.9 L600.2,43.9 L600.6,43.8 L601.1,43.8 L601.6,43.8 L602.1,43.7 L602.6,43.7 L603,43.7 L603.5,43.6 L604,43.6 L604.5,43.6 L605,43.5 L605.4,43.5 L605.9,43.5 L606.4,43.4 L606.9,43.4 L607.4,43.4 L607.9,43.3 L608.3,43.3 L608.8,43.3 L609.3,43.2 L609.8,43.2 L610.3,43.2 L610.7,43.2 L611.2,43.1 L611.7,43.1 L612.2,43.1 L612.7,43 L613.1,43 L613.6,43 L614.1,43 L614.6,42.9 L615.1,42.9 L615.5,42.9 L616,42.9 L616.5,42.9 L617,42.8 L617.5,42.8 L618,42.8 L618.4,42.8 L618.9,42.7 L619.4,42.7 L619.9,42.7 L620.4,42.7 L620.8,42.7 L621.3,42.6 L621.8,42.6 L622.3,42.6 L622.8,42.6 L623.2,42.6 L623.7,42.5 L624.2,42.5 L624.7,42.5 L625.2,42.5 L625.7,42.5 L626.1,42.5 L626.6,42.4 L627.1,42.4 L627.6,42.4 L628.1,42.4 L628.5,42.4 L629,42.4 L629.5,42.3 L630,42.3 L630.5,42.3 L630.9,42.3 L631.4,42.3 L631.9,42.3 L632.4,42.2 L632.9,42.2 L633.4,42.2 L633.8,42.2 L634.3,42.2 L634.8,42.2 L635.3,42.2 L635.8,42.2 L636.2,42.1 L636.7,42.1 L637.2,42.1 L637.7,42.1 L638.2,42.1 L638.6,42.1 L639.1,42.1 L639.6,42.1 L640.1,42 L640.6,42 L641.1,42 L641.5,42 L642,42 L642.5,42 L643,42 L643.5,42 L643.9,42 L644.4,42 L644.9,41.9 L645.4,41.9 L645.9,41.9 L646.3,41.9 L646.8,41.9 L647.3,41.9 L647.8,41.9 L648.3,41.9 L648.8,41.9 L649.2,41.9 L649.7,41.9 L650.2,41.8 L650.7,41.8 L651.2,41.8 L651.6,41.8 L652.1,41.8 L652.6,41.8 L653.1,41.8 L653.6,41.8 L654,41.8 L654.5,41.8 L655,41.8 L655.5,41.8 L656,41.8 L656.5,41.7 L656.9,41.7 L657.4,41.7 L657.9,41.7 L658.4,41.7 L658.9,41.7 L659.3,41.7 L659.8,41.7 L660.3,41.7 L660.8,41.7 L661.3,41.7 L661.7,41.7 L662.2,41.7 L662.7,41.7 L663.2,41.7 L663.7,41.7 L664.2,41.7 L664.6,41.6 L665.1,41.6 L665.6,41.6 L666.1,41.6 L666.6,41.6 L667,41.6 L667.5,41.6 L668,41.6 L668.5,41.6 L669,41.6 L669.4,41.6 L669.9,41.6 L670.4,41.6 L670.9,41.6 L671.4,41.6 L671.9,41.6 L672.3,41.6 L672.8,41.6 L673.3,41.6 L673.8,41.6 L674.3,41.6 L674.7,41.6 L675.2,41.6 L675.7,41.5" fill="none" stroke="#f3652a" stroke-width="1.2" stroke-linejoin="round" stroke-linecap="round" />
<rect x="474.5" y="35.8" width="208.3" height="135.4" fill="none" stroke="#4d4d4d" stroke-width="0.9" />
<line x1="471.5" y1="154" x2="474.5" y2="154" stroke="#6a6a6a" stroke-width="0.7" />
<text x="466.4" y="156.6" text-anchor="middle" fill="#222" style="font-family:'Liberation Sans';font-size:9.68px;" textLength="5.9" lengthAdjust="spacingAndGlyphs" >0</text>
<line x1="471.5" y1="119" x2="474.5" y2="119" stroke="#6a6a6a" stroke-width="0.7" />
<text x="466.4" y="121.6" text-anchor="middle" fill="#222" style="font-family:'Liberation Sans';font-size:9.68px;" textLength="5.9" lengthAdjust="spacingAndGlyphs" >1</text>
<line x1="471.5" y1="84" x2="474.5" y2="84" stroke="#6a6a6a" stroke-width="0.7" />
<text x="466.4" y="86.6" text-anchor="middle" fill="#222" style="font-family:'Liberation Sans';font-size:9.68px;" textLength="5.9" lengthAdjust="spacingAndGlyphs" >2</text>
<line x1="471.5" y1="49" x2="474.5" y2="49" stroke="#6a6a6a" stroke-width="0.7" />
<text x="466.4" y="51.6" text-anchor="middle" fill="#222" style="font-family:'Liberation Sans';font-size:9.68px;" textLength="5.9" lengthAdjust="spacingAndGlyphs" >3</text>
<line x1="483.7" y1="171.2" x2="483.7" y2="174.2" stroke="#6a6a6a" stroke-width="0.7" />
<text x="483.7" y="183" text-anchor="middle" fill="#222" style="font-family:'Liberation Sans';font-size:9.68px;" textLength="5.9" lengthAdjust="spacingAndGlyphs" >0</text>
<line x1="522.1" y1="171.2" x2="522.1" y2="174.2" stroke="#6a6a6a" stroke-width="0.7" />
<text x="522.1" y="183" text-anchor="middle" fill="#222" style="font-family:'Liberation Sans';font-size:9.68px;" textLength="5.9" lengthAdjust="spacingAndGlyphs" >2</text>
<line x1="560.5" y1="171.2" x2="560.5" y2="174.2" stroke="#6a6a6a" stroke-width="0.7" />
<text x="560.5" y="183" text-anchor="middle" fill="#222" style="font-family:'Liberation Sans';font-size:9.68px;" textLength="5.9" lengthAdjust="spacingAndGlyphs" >4</text>
<line x1="598.9" y1="171.2" x2="598.9" y2="174.2" stroke="#6a6a6a" stroke-width="0.7" />
<text x="598.9" y="183" text-anchor="middle" fill="#222" style="font-family:'Liberation Sans';font-size:9.68px;" textLength="5.9" lengthAdjust="spacingAndGlyphs" >6</text>
<line x1="637.3" y1="171.2" x2="637.3" y2="174.2" stroke="#6a6a6a" stroke-width="0.7" />
<text x="637.3" y="183" text-anchor="middle" fill="#222" style="font-family:'Liberation Sans';font-size:9.68px;" textLength="5.9" lengthAdjust="spacingAndGlyphs" >8</text>
<line x1="675.7" y1="171.2" x2="675.7" y2="174.2" stroke="#6a6a6a" stroke-width="0.7" />
<text x="675.7" y="183" text-anchor="middle" fill="#222" style="font-family:'Liberation Sans';font-size:9.68px;" textLength="11.7" lengthAdjust="spacingAndGlyphs" >10</text>
<text x="578.6" y="194.6" text-anchor="middle" fill="#222" style="font-family:'Liberation Sans';font-size:9.68px;" textLength="17.3" lengthAdjust="spacingAndGlyphs" >t / s</text>
<text x="474" y="33.3" text-anchor="start" fill="#222" style="font-family:'Liberation Sans';font-size:8.8px;" textLength="25.3" lengthAdjust="spacingAndGlyphs" >1e−5</text>
<text x="458.2" y="104.5" text-anchor="middle" fill="#222" style="font-family:'Liberation Sans';font-size:9.4px;" transform="rotate(-90 458.2 104.5)" textLength="27.5" lengthAdjust="spacingAndGlyphs" >&lt;Op&gt;</text>
<rect x="608.8" y="84.8" width="69.4" height="37.2" rx="2" fill="#fff" fill-opacity="0.8" stroke="#d6d6d6" stroke-width="0.8"/>
<line x1="611.2" y1="94.5" x2="631.6" y2="94.5" stroke="#3a64ad" stroke-width="1.3" />
<line x1="611.2" y1="112.4" x2="631.6" y2="112.4" stroke="#f3652a" stroke-width="1.3" />
<text x="639.8" y="97.7" fill="#222" style="font-family:'Liberation Sans';font-size:9.2px;" textLength="34.2" lengthAdjust="spacingAndGlyphs">&lt;<tspan font-size="6.4px" dy="-3.2">15</tspan><tspan font-style="italic" dy="3.2">N</tspan><tspan font-style="italic" font-size="6.4px" dy="1.6">z</tspan><tspan dy="-1.6">&gt;</tspan></text>
<text x="639.8" y="115.5" fill="#222" style="font-family:'Liberation Sans';font-size:9.2px;" textLength="30.2" lengthAdjust="spacingAndGlyphs">&lt;<tspan font-size="6.4px" dy="-3.2">1</tspan><tspan font-style="italic" dy="3.2">H</tspan><tspan font-style="italic" font-size="6.4px" dy="1.6">z</tspan><tspan dy="-1.6">&gt;</tspan></text>
<path d="M32.3,241.5 L32.7,241.9 L33,242.3 L33.4,242.7 L33.8,243.1 L34.2,243.5 L34.5,243.9 L34.9,244.3 L35.3,244.8 L35.6,245.2 L36,245.7 L36.4,246.2 L36.8,246.7 L37.1,247.3 L37.5,247.9 L37.9,248.5 L38.2,249.1 L38.6,249.8 L39,250.4 L39.4,251.1 L39.7,251.8 L40.1,252.5 L40.5,253.2 L40.9,253.9 L41.2,254.7 L41.6,255.4 L42,256.1 L42.3,256.9 L42.7,257.6 L43.1,258.4 L43.5,259.1 L43.8,259.9 L44.2,260.6 L44.6,261.3 L44.9,262.1 L45.3,262.8 L45.7,263.6 L46.1,264.3 L46.4,265 L46.8,265.8 L47.2,266.5 L47.5,267.2 L47.9,267.9 L48.3,268.6 L48.7,269.3 L49,270 L49.4,270.6 L49.8,271.3 L50.1,272 L50.5,272.6 L50.9,273.2 L51.3,273.8 L51.6,274.5 L52,275 L52.4,275.6 L52.7,276.2 L53.1,276.7 L53.5,277.2 L53.9,277.7 L54.2,278.2 L54.6,278.7 L55,279.1 L55.4,279.6 L55.7,280 L56.1,280.4 L56.5,280.7 L56.8,281.1 L57.2,281.4 L57.6,281.7 L58,281.9 L58.3,282.2 L58.7,282.4 L59.1,282.6 L59.4,282.8 L59.8,282.9 L60.2,283 L60.6,283.1 L60.9,283.2 L61.3,283.2 L61.7,283.3 L62,283.3 L62.4,283.2 L62.8,283.2 L63.2,283.1 L63.5,283 L63.9,282.9 L64.3,282.8 L64.6,282.6 L65,282.5 L65.4,282.3 L65.8,282.1 L66.1,281.9 L66.5,281.7 L66.9,281.5 L67.3,281.3 L67.6,281.1 L68,281 L68.4,280.8 L68.7,280.6 L69.1,280.4 L69.5,280.3 L69.9,280.1 L70.2,279.9 L70.6,279.8 L71,279.6 L71.3,279.5 L71.7,279.3 L72.1,279.2 L72.5,279.1 L72.8,278.9 L73.2,278.8 L73.6,278.6 L73.9,278.5 L74.3,278.4 L74.7,278.2 L75.1,278.1 L75.4,277.9 L75.8,277.8 L76.2,277.7 L76.5,277.5 L76.9,277.4 L77.3,277.3 L77.7,277.1 L78,277 L78.4,276.9 L78.8,276.8 L79.1,276.7 L79.5,276.7 L79.9,276.6 L80.3,276.5 L80.6,276.5 L81,276.5 L81.4,276.5 L81.8,276.5 L82.1,276.5 L82.5,276.6 L82.9,276.6 L83.2,276.7 L83.6,276.8 L84,276.9 L84.4,277 L84.7,277.1 L85.1,277.2 L85.5,277.3 L85.8,277.4 L86.2,277.6 L86.6,277.7 L87,277.8 L87.3,278 L87.7,278.1" fill="none" stroke="#3a64ad" stroke-width="0.9" stroke-linejoin="round" stroke-linecap="round" />
<rect x="29.8" y="239.6" width="60.6" height="45.6" fill="none" stroke="#858585" stroke-width="0.85" />
<line x1="27.8" y1="241.3" x2="29.8" y2="241.3" stroke="#6a6a6a" stroke-width="0.6" />
<line x1="27.8" y1="261.6" x2="29.8" y2="261.6" stroke="#6a6a6a" stroke-width="0.6" />
<line x1="27.8" y1="281.8" x2="29.8" y2="281.8" stroke="#6a6a6a" stroke-width="0.6" />
<line x1="31.3" y1="285.2" x2="31.3" y2="287.2" stroke="#6a6a6a" stroke-width="0.6" />
<line x1="67.1" y1="285.2" x2="67.1" y2="287.2" stroke="#6a6a6a" stroke-width="0.6" />
<text x="30.6" y="235.3" fill="#222" style="font-family:'Liberation Sans';font-size:8.2px;" textLength="52.6" lengthAdjust="spacingAndGlyphs">log<tspan font-size="6.2px" dy="2.7">10</tspan><tspan dy="-2.7">(</tspan><tspan font-style="italic">τ</tspan><tspan font-style="italic" font-size="6.2px" dy="2.7">c</tspan><tspan dy="-2.7">)=</tspan>-6.0</text>
<text x="24.8" y="243.5" text-anchor="middle" fill="#222" style="font-family:'Liberation Sans';font-size:8.25px;" textLength="4.8" lengthAdjust="spacingAndGlyphs" >1</text>
<text x="24.8" y="284" text-anchor="middle" fill="#222" style="font-family:'Liberation Sans';font-size:8.25px;" textLength="4.8" lengthAdjust="spacingAndGlyphs" >0</text>
<text x="0" y="0" text-anchor="middle" fill="#222" style="font-family:'Liberation Sans';font-size:9.2px;" textLength="27" lengthAdjust="spacingAndGlyphs" transform="translate(23.2 259.6) rotate(-90)">&lt;<tspan font-size="6.5px" dy="-3">15</tspan><tspan dy="3">N</tspan><tspan font-size="6.5px" dy="1.8">x</tspan><tspan dy="-1.8">&gt;</tspan></text>
<path d="M101.4,240.9 L101.8,241.2 L102.1,241.6 L102.5,241.9 L102.9,242.2 L103.2,242.6 L103.6,242.9 L104,243.3 L104.3,243.7 L104.7,244 L105.1,244.5 L105.4,244.9 L105.8,245.3 L106.2,245.8 L106.5,246.2 L106.9,246.7 L107.3,247.3 L107.6,247.8 L108,248.4 L108.4,248.9 L108.7,249.5 L109.1,250.1 L109.5,250.8 L109.8,251.4 L110.2,252.1 L110.6,252.7 L110.9,253.4 L111.3,254.1 L111.7,254.8 L112,255.5 L112.4,256.2 L112.8,256.9 L113.1,257.7 L113.5,258.4 L113.9,259.1 L114.2,259.9 L114.6,260.6 L115,261.4 L115.4,262.1 L115.7,262.9 L116.1,263.6 L116.5,264.3 L116.8,265 L117.2,265.8 L117.6,266.5 L117.9,267.2 L118.3,267.8 L118.7,268.5 L119,269.2 L119.4,269.8 L119.8,270.4 L120.1,271.1 L120.5,271.7 L120.9,272.3 L121.2,272.9 L121.6,273.5 L122,274.1 L122.3,274.7 L122.7,275.2 L123.1,275.8 L123.4,276.4 L123.8,276.9 L124.2,277.5 L124.5,278.1 L124.9,278.6 L125.3,279.1 L125.6,279.6 L126,280.1 L126.4,280.6 L126.7,281 L127.1,281.4 L127.5,281.7 L127.8,282.1 L128.2,282.3 L128.6,282.5 L128.9,282.7 L129.3,282.9 L129.7,283 L130,283.1 L130.4,283.1 L130.8,283.1 L131.1,283.1 L131.5,283.1 L131.9,283 L132.2,282.9 L132.6,282.8 L133,282.7 L133.3,282.6 L133.7,282.5 L134.1,282.4 L134.4,282.3 L134.8,282.2 L135.2,282.1 L135.5,282 L135.9,281.9 L136.3,281.8 L136.6,281.7 L137,281.6 L137.4,281.4 L137.7,281.3 L138.1,281.2 L138.5,281 L138.8,280.9 L139.2,280.7 L139.6,280.5 L139.9,280.4 L140.3,280.2 L140.7,280 L141,279.9 L141.4,279.7 L141.8,279.5 L142.1,279.4 L142.5,279.2 L142.9,279 L143.3,278.9 L143.6,278.7 L144,278.6 L144.4,278.4 L144.7,278.3 L145.1,278.1 L145.5,278 L145.8,277.9 L146.2,277.8 L146.6,277.7 L146.9,277.6 L147.3,277.5 L147.7,277.4 L148,277.4 L148.4,277.3 L148.8,277.3 L149.1,277.3 L149.5,277.3 L149.9,277.2 L150.2,277.3 L150.6,277.3 L151,277.3 L151.3,277.3 L151.7,277.4 L152.1,277.4 L152.4,277.5 L152.8,277.6 L153.2,277.6 L153.5,277.7 L153.9,277.8 L154.3,277.9 L154.6,278 L155,278.1 L155.4,278.2 L155.7,278.3 L156.1,278.4" fill="none" stroke="#3a64ad" stroke-width="0.9" stroke-linejoin="round" stroke-linecap="round" />
<rect x="98.8" y="239.6" width="60.6" height="45.6" fill="none" stroke="#858585" stroke-width="0.85" />
<line x1="96.8" y1="241.3" x2="98.8" y2="241.3" stroke="#6a6a6a" stroke-width="0.6" />
<line x1="96.8" y1="261.6" x2="98.8" y2="261.6" stroke="#6a6a6a" stroke-width="0.6" />
<line x1="96.8" y1="281.8" x2="98.8" y2="281.8" stroke="#6a6a6a" stroke-width="0.6" />
<line x1="100.3" y1="285.2" x2="100.3" y2="287.2" stroke="#6a6a6a" stroke-width="0.6" />
<line x1="136.1" y1="285.2" x2="136.1" y2="287.2" stroke="#6a6a6a" stroke-width="0.6" />
<text x="99.6" y="235.3" fill="#222" style="font-family:'Liberation Sans';font-size:8.2px;" textLength="52.6" lengthAdjust="spacingAndGlyphs">log<tspan font-size="6.2px" dy="2.7">10</tspan><tspan dy="-2.7">(</tspan><tspan font-style="italic">τ</tspan><tspan font-style="italic" font-size="6.2px" dy="2.7">c</tspan><tspan dy="-2.7">)=</tspan>-5.6</text>
<path d="M170.3,241.3 L170.7,241.8 L171,242.3 L171.4,242.9 L171.8,243.4 L172.2,243.9 L172.5,244.5 L172.9,245 L173.3,245.6 L173.6,246.2 L174,246.7 L174.4,247.3 L174.8,247.9 L175.1,248.6 L175.5,249.2 L175.9,249.8 L176.2,250.5 L176.6,251.2 L177,251.9 L177.4,252.6 L177.7,253.3 L178.1,254.1 L178.5,254.8 L178.9,255.6 L179.2,256.4 L179.6,257.1 L180,257.9 L180.3,258.7 L180.7,259.5 L181.1,260.3 L181.5,261.1 L181.8,261.9 L182.2,262.7 L182.6,263.5 L182.9,264.3 L183.3,265.1 L183.7,265.8 L184.1,266.6 L184.4,267.4 L184.8,268.1 L185.2,268.9 L185.5,269.6 L185.9,270.3 L186.3,271 L186.7,271.7 L187,272.4 L187.4,273 L187.8,273.7 L188.1,274.3 L188.5,274.8 L188.9,275.4 L189.3,275.9 L189.6,276.5 L190,277 L190.4,277.4 L190.7,277.9 L191.1,278.3 L191.5,278.7 L191.9,279.1 L192.2,279.5 L192.6,279.9 L193,280.2 L193.4,280.6 L193.7,280.9 L194.1,281.2 L194.5,281.4 L194.8,281.7 L195.2,281.9 L195.6,282.1 L196,282.3 L196.3,282.5 L196.7,282.7 L197.1,282.8 L197.4,282.9 L197.8,283 L198.2,283.1 L198.6,283.1 L198.9,283.1 L199.3,283.2 L199.7,283.1 L200,283.1 L200.4,283 L200.8,283 L201.2,282.9 L201.5,282.8 L201.9,282.7 L202.3,282.5 L202.6,282.4 L203,282.3 L203.4,282.1 L203.8,282 L204.1,281.8 L204.5,281.7 L204.9,281.5 L205.3,281.3 L205.6,281.2 L206,281 L206.4,280.9 L206.7,280.7 L207.1,280.5 L207.5,280.4 L207.9,280.2 L208.2,280.1 L208.6,279.9 L209,279.8 L209.3,279.7 L209.7,279.5 L210.1,279.4 L210.5,279.3 L210.8,279.1 L211.2,279 L211.6,278.9 L211.9,278.8 L212.3,278.7 L212.7,278.6 L213.1,278.5 L213.4,278.4 L213.8,278.3 L214.2,278.2 L214.5,278.2 L214.9,278.1 L215.3,278 L215.7,278 L216,278 L216.4,277.9 L216.8,277.9 L217.1,277.9 L217.5,277.9 L217.9,277.9 L218.3,277.9 L218.6,277.9 L219,277.9 L219.4,277.9 L219.8,278 L220.1,278 L220.5,278.1 L220.9,278.1 L221.2,278.2 L221.6,278.3 L222,278.4 L222.4,278.5 L222.7,278.5 L223.1,278.6 L223.5,278.7 L223.8,278.8 L224.2,279 L224.6,279.1 L225,279.2 L225.3,279.3 L225.7,279.4" fill="none" stroke="#3a64ad" stroke-width="0.9" stroke-linejoin="round" stroke-linecap="round" />
<rect x="168.2" y="239.6" width="60.6" height="45.6" fill="none" stroke="#858585" stroke-width="0.85" />
<line x1="166.2" y1="241.3" x2="168.2" y2="241.3" stroke="#6a6a6a" stroke-width="0.6" />
<line x1="166.2" y1="261.6" x2="168.2" y2="261.6" stroke="#6a6a6a" stroke-width="0.6" />
<line x1="166.2" y1="281.8" x2="168.2" y2="281.8" stroke="#6a6a6a" stroke-width="0.6" />
<line x1="169.7" y1="285.2" x2="169.7" y2="287.2" stroke="#6a6a6a" stroke-width="0.6" />
<line x1="205.5" y1="285.2" x2="205.5" y2="287.2" stroke="#6a6a6a" stroke-width="0.6" />
<text x="169" y="235.3" fill="#222" style="font-family:'Liberation Sans';font-size:8.2px;" textLength="52.6" lengthAdjust="spacingAndGlyphs">log<tspan font-size="6.2px" dy="2.7">10</tspan><tspan dy="-2.7">(</tspan><tspan font-style="italic">τ</tspan><tspan font-style="italic" font-size="6.2px" dy="2.7">c</tspan><tspan dy="-2.7">)=</tspan>-5.1</text>
<path d="M239.4,240.9 L239.8,241.5 L240.1,242.2 L240.5,242.8 L240.9,243.4 L241.2,244.1 L241.6,244.7 L242,245.4 L242.3,246 L242.7,246.7 L243.1,247.4 L243.4,248.2 L243.8,248.9 L244.2,249.6 L244.5,250.4 L244.9,251.2 L245.3,252 L245.6,252.9 L246,253.7 L246.4,254.5 L246.7,255.4 L247.1,256.3 L247.5,257.2 L247.8,258 L248.2,258.9 L248.6,259.8 L248.9,260.7 L249.3,261.6 L249.7,262.4 L250,263.3 L250.4,264.1 L250.8,265 L251.1,265.8 L251.5,266.6 L251.9,267.4 L252.2,268.2 L252.6,268.9 L253,269.7 L253.4,270.4 L253.7,271.1 L254.1,271.8 L254.5,272.5 L254.8,273.1 L255.2,273.8 L255.6,274.4 L255.9,275 L256.3,275.5 L256.7,276.1 L257,276.6 L257.4,277.1 L257.8,277.6 L258.1,278 L258.5,278.4 L258.9,278.8 L259.2,279.2 L259.6,279.6 L260,279.9 L260.3,280.2 L260.7,280.5 L261.1,280.8 L261.4,281.1 L261.8,281.3 L262.2,281.6 L262.5,281.8 L262.9,282 L263.3,282.1 L263.6,282.3 L264,282.4 L264.4,282.6 L264.7,282.7 L265.1,282.8 L265.5,282.9 L265.8,283 L266.2,283 L266.6,283.1 L266.9,283.1 L267.3,283.2 L267.7,283.2 L268,283.2 L268.4,283.2 L268.8,283.2 L269.1,283.2 L269.5,283.2 L269.9,283.1 L270.2,283.1 L270.6,283.1 L271,283 L271.3,283 L271.7,282.9 L272.1,282.8 L272.4,282.8 L272.8,282.7 L273.2,282.6 L273.5,282.5 L273.9,282.4 L274.3,282.3 L274.6,282.2 L275,282.1 L275.4,282 L275.7,281.9 L276.1,281.8 L276.5,281.7 L276.8,281.6 L277.2,281.5 L277.6,281.4 L277.9,281.3 L278.3,281.2 L278.7,281.1 L279,281 L279.4,280.9 L279.8,280.7 L280.1,280.6 L280.5,280.5 L280.9,280.4 L281.3,280.3 L281.6,280.3 L282,280.2 L282.4,280.1 L282.7,280 L283.1,279.9 L283.5,279.8 L283.8,279.8 L284.2,279.7 L284.6,279.6 L284.9,279.6 L285.3,279.5 L285.7,279.5 L286,279.5 L286.4,279.4 L286.8,279.4 L287.1,279.4 L287.5,279.4 L287.9,279.4 L288.2,279.4 L288.6,279.4 L289,279.4 L289.3,279.5 L289.7,279.5 L290.1,279.6 L290.4,279.6 L290.8,279.6 L291.2,279.7 L291.5,279.8 L291.9,279.8 L292.3,279.9 L292.6,279.9 L293,280 L293.4,280.1 L293.7,280.1 L294.1,280.2" fill="none" stroke="#3a64ad" stroke-width="0.9" stroke-linejoin="round" stroke-linecap="round" />
<rect x="237.4" y="239.6" width="60.6" height="45.6" fill="none" stroke="#858585" stroke-width="0.85" />
<line x1="235.4" y1="241.3" x2="237.4" y2="241.3" stroke="#6a6a6a" stroke-width="0.6" />
<line x1="235.4" y1="261.6" x2="237.4" y2="261.6" stroke="#6a6a6a" stroke-width="0.6" />
<line x1="235.4" y1="281.8" x2="237.4" y2="281.8" stroke="#6a6a6a" stroke-width="0.6" />
<line x1="238.9" y1="285.2" x2="238.9" y2="287.2" stroke="#6a6a6a" stroke-width="0.6" />
<line x1="274.7" y1="285.2" x2="274.7" y2="287.2" stroke="#6a6a6a" stroke-width="0.6" />
<text x="238.2" y="235.3" fill="#222" style="font-family:'Liberation Sans';font-size:8.2px;" textLength="52.6" lengthAdjust="spacingAndGlyphs">log<tspan font-size="6.2px" dy="2.7">10</tspan><tspan dy="-2.7">(</tspan><tspan font-style="italic">τ</tspan><tspan font-style="italic" font-size="6.2px" dy="2.7">c</tspan><tspan dy="-2.7">)=</tspan>-4.7</text>
<path d="M32.3,305.5 L32.7,306.2 L33,306.9 L33.4,307.6 L33.8,308.3 L34.2,309.1 L34.5,309.9 L34.9,310.7 L35.3,311.5 L35.6,312.3 L36,313.2 L36.4,314.2 L36.8,315.1 L37.1,316.1 L37.5,317.2 L37.9,318.2 L38.2,319.3 L38.6,320.3 L39,321.4 L39.4,322.5 L39.7,323.6 L40.1,324.7 L40.5,325.8 L40.9,326.8 L41.2,327.9 L41.6,328.9 L42,330 L42.3,331 L42.7,331.9 L43.1,332.9 L43.5,333.8 L43.8,334.7 L44.2,335.6 L44.6,336.5 L44.9,337.3 L45.3,338.1 L45.7,338.8 L46.1,339.5 L46.4,340.2 L46.8,340.8 L47.2,341.4 L47.5,342 L47.9,342.6 L48.3,343.1 L48.7,343.5 L49,344 L49.4,344.4 L49.8,344.7 L50.1,345.1 L50.5,345.4 L50.9,345.7 L51.3,345.9 L51.6,346.1 L52,346.4 L52.4,346.5 L52.7,346.7 L53.1,346.9 L53.5,347 L53.9,347.1 L54.2,347.2 L54.6,347.2 L55,347.3 L55.4,347.4 L55.7,347.4 L56.1,347.4 L56.5,347.4 L56.8,347.4 L57.2,347.4 L57.6,347.4 L58,347.4 L58.3,347.4 L58.7,347.3 L59.1,347.3 L59.4,347.3 L59.8,347.3 L60.2,347.2 L60.6,347.2 L60.9,347.2 L61.3,347.2 L61.7,347.1 L62,347.1 L62.4,347.1 L62.8,347 L63.2,347 L63.5,347 L63.9,346.9 L64.3,346.9 L64.6,346.9 L65,346.8 L65.4,346.8 L65.8,346.8 L66.1,346.7 L66.5,346.7 L66.9,346.6 L67.3,346.6 L67.6,346.5 L68,346.5 L68.4,346.4 L68.7,346.4 L69.1,346.3 L69.5,346.3 L69.9,346.2 L70.2,346.2 L70.6,346.1 L71,346.1 L71.3,346 L71.7,346 L72.1,345.9 L72.5,345.9 L72.8,345.8 L73.2,345.8 L73.6,345.7 L73.9,345.7 L74.3,345.7 L74.7,345.6 L75.1,345.6 L75.4,345.5 L75.8,345.5 L76.2,345.5 L76.5,345.5 L76.9,345.4 L77.3,345.4 L77.7,345.4 L78,345.4 L78.4,345.4 L78.8,345.4 L79.1,345.4 L79.5,345.4 L79.9,345.4 L80.3,345.4 L80.6,345.5 L81,345.5 L81.4,345.5 L81.8,345.6 L82.1,345.6 L82.5,345.6 L82.9,345.7 L83.2,345.7 L83.6,345.8 L84,345.8 L84.4,345.9 L84.7,345.9 L85.1,346 L85.5,346 L85.8,346.1 L86.2,346.2 L86.6,346.2 L87,346.3 L87.3,346.3 L87.7,346.4" fill="none" stroke="#3a64ad" stroke-width="0.9" stroke-linejoin="round" stroke-linecap="round" />
<rect x="29.8" y="304.1" width="60.6" height="45.6" fill="none" stroke="#858585" stroke-width="0.85" />
<line x1="27.8" y1="305.8" x2="29.8" y2="305.8" stroke="#6a6a6a" stroke-width="0.6" />
<line x1="27.8" y1="326.1" x2="29.8" y2="326.1" stroke="#6a6a6a" stroke-width="0.6" />
<line x1="27.8" y1="346.3" x2="29.8" y2="346.3" stroke="#6a6a6a" stroke-width="0.6" />
<line x1="31.3" y1="349.7" x2="31.3" y2="351.7" stroke="#6a6a6a" stroke-width="0.6" />
<line x1="67.1" y1="349.7" x2="67.1" y2="351.7" stroke="#6a6a6a" stroke-width="0.6" />
<text x="30.6" y="299.8" fill="#222" style="font-family:'Liberation Sans';font-size:8.2px;" textLength="52.6" lengthAdjust="spacingAndGlyphs">log<tspan font-size="6.2px" dy="2.7">10</tspan><tspan dy="-2.7">(</tspan><tspan font-style="italic">τ</tspan><tspan font-style="italic" font-size="6.2px" dy="2.7">c</tspan><tspan dy="-2.7">)=</tspan>-4.3</text>
<text x="24.8" y="308" text-anchor="middle" fill="#222" style="font-family:'Liberation Sans';font-size:8.25px;" textLength="4.8" lengthAdjust="spacingAndGlyphs" >1</text>
<text x="24.8" y="348.5" text-anchor="middle" fill="#222" style="font-family:'Liberation Sans';font-size:8.25px;" textLength="4.8" lengthAdjust="spacingAndGlyphs" >0</text>
<text x="0" y="0" text-anchor="middle" fill="#222" style="font-family:'Liberation Sans';font-size:9.2px;" textLength="27" lengthAdjust="spacingAndGlyphs" transform="translate(23.2 324.1) rotate(-90)">&lt;<tspan font-size="6.5px" dy="-3">15</tspan><tspan dy="3">N</tspan><tspan font-size="6.5px" dy="1.8">x</tspan><tspan dy="-1.8">&gt;</tspan></text>
<text x="31.5" y="359.1" text-anchor="middle" fill="#222" style="font-family:'Liberation Sans';font-size:8.25px;" textLength="4.8" lengthAdjust="spacingAndGlyphs" >0</text>
<text x="66.6" y="359.1" text-anchor="middle" fill="#222" style="font-family:'Liberation Sans';font-size:8.25px;" textLength="14.5" lengthAdjust="spacingAndGlyphs" >500</text>
<text x="56.8" y="366.6" text-anchor="middle" fill="#222" style="font-family:'Liberation Sans';font-size:8.2px;">t / <tspan font-style="italic">μ</tspan>s</text>
<path d="M101.4,304.9 L101.8,305.5 L102.1,306.2 L102.5,306.9 L102.9,307.6 L103.2,308.3 L103.6,309.1 L104,310 L104.3,310.9 L104.7,311.9 L105.1,313 L105.4,314.2 L105.8,315.5 L106.2,316.8 L106.5,318.3 L106.9,319.8 L107.3,321.4 L107.6,322.9 L108,324.6 L108.4,326.2 L108.7,327.8 L109.1,329.4 L109.5,330.9 L109.8,332.4 L110.2,333.9 L110.6,335.3 L110.9,336.7 L111.3,337.9 L111.7,339.1 L112,340.2 L112.4,341.2 L112.8,342.1 L113.1,343 L113.5,343.7 L113.9,344.4 L114.2,345 L114.6,345.5 L115,346 L115.4,346.4 L115.7,346.6 L116.1,346.9 L116.5,347.1 L116.8,347.2 L117.2,347.3 L117.6,347.3 L117.9,347.3 L118.3,347.3 L118.7,347.2 L119,347.2 L119.4,347.1 L119.8,347 L120.1,346.9 L120.5,346.8 L120.9,346.7 L121.2,346.7 L121.6,346.6 L122,346.5 L122.3,346.5 L122.7,346.4 L123.1,346.4 L123.4,346.4 L123.8,346.4 L124.2,346.4 L124.5,346.4 L124.9,346.4 L125.3,346.5 L125.6,346.5 L126,346.5 L126.4,346.6 L126.7,346.6 L127.1,346.7 L127.5,346.7 L127.8,346.8 L128.2,346.8 L128.6,346.9 L128.9,346.9 L129.3,347 L129.7,347 L130,347 L130.4,347.1 L130.8,347.1 L131.1,347.1 L131.5,347.1 L131.9,347.1 L132.2,347.1 L132.6,347.2 L133,347.2 L133.3,347.2 L133.7,347.2 L134.1,347.2 L134.4,347.2 L134.8,347.2 L135.2,347.1 L135.5,347.1 L135.9,347.1 L136.3,347.1 L136.6,347.1 L137,347.1 L137.4,347.1 L137.7,347.1 L138.1,347.1 L138.5,347.1 L138.8,347.1 L139.2,347.1 L139.6,347.1 L139.9,347.1 L140.3,347.1 L140.7,347.1 L141,347.1 L141.4,347.1 L141.8,347.1 L142.1,347.1 L142.5,347.1 L142.9,347.1 L143.3,347.1 L143.6,347.1 L144,347.1 L144.4,347.1 L144.7,347.1 L145.1,347.1 L145.5,347.1 L145.8,347.1 L146.2,347.1 L146.6,347.2 L146.9,347.2 L147.3,347.2 L147.7,347.2 L148,347.2 L148.4,347.2 L148.8,347.2 L149.1,347.2 L149.5,347.2 L149.9,347.3 L150.2,347.3 L150.6,347.3 L151,347.3 L151.3,347.3 L151.7,347.3 L152.1,347.3 L152.4,347.4 L152.8,347.4 L153.2,347.4 L153.5,347.4 L153.9,347.4 L154.3,347.4 L154.6,347.4 L155,347.5 L155.4,347.5 L155.7,347.5 L156.1,347.5" fill="none" stroke="#3a64ad" stroke-width="0.9" stroke-linejoin="round" stroke-linecap="round" />
<rect x="98.8" y="304.1" width="60.6" height="45.6" fill="none" stroke="#858585" stroke-width="0.85" />
<line x1="96.8" y1="305.8" x2="98.8" y2="305.8" stroke="#6a6a6a" stroke-width="0.6" />
<line x1="96.8" y1="326.1" x2="98.8" y2="326.1" stroke="#6a6a6a" stroke-width="0.6" />
<line x1="96.8" y1="346.3" x2="98.8" y2="346.3" stroke="#6a6a6a" stroke-width="0.6" />
<line x1="100.3" y1="349.7" x2="100.3" y2="351.7" stroke="#6a6a6a" stroke-width="0.6" />
<line x1="136.1" y1="349.7" x2="136.1" y2="351.7" stroke="#6a6a6a" stroke-width="0.6" />
<text x="99.6" y="299.8" fill="#222" style="font-family:'Liberation Sans';font-size:8.2px;" textLength="52.6" lengthAdjust="spacingAndGlyphs">log<tspan font-size="6.2px" dy="2.7">10</tspan><tspan dy="-2.7">(</tspan><tspan font-style="italic">τ</tspan><tspan font-style="italic" font-size="6.2px" dy="2.7">c</tspan><tspan dy="-2.7">)=</tspan>-3.9</text>
<text x="100.5" y="359.1" text-anchor="middle" fill="#222" style="font-family:'Liberation Sans';font-size:8.25px;" textLength="4.8" lengthAdjust="spacingAndGlyphs" >0</text>
<text x="135.6" y="359.1" text-anchor="middle" fill="#222" style="font-family:'Liberation Sans';font-size:8.25px;" textLength="14.5" lengthAdjust="spacingAndGlyphs" >500</text>
<text x="125.8" y="366.6" text-anchor="middle" fill="#222" style="font-family:'Liberation Sans';font-size:8.2px;">t / <tspan font-style="italic">μ</tspan>s</text>
<path d="M170.3,304.9 L170.7,305.5 L171,306.2 L171.4,306.9 L171.8,307.6 L172.2,308.3 L172.5,309.2 L172.9,310.1 L173.3,311 L173.6,312.1 L174,313.3 L174.4,314.5 L174.8,315.7 L175.1,317.1 L175.5,318.5 L175.9,319.9 L176.2,321.4 L176.6,322.9 L177,324.4 L177.4,325.9 L177.7,327.4 L178.1,329 L178.5,330.4 L178.9,331.9 L179.2,333.3 L179.6,334.6 L180,336 L180.3,337.2 L180.7,338.4 L181.1,339.6 L181.5,340.7 L181.8,341.7 L182.2,342.7 L182.6,343.6 L182.9,344.4 L183.3,345.2 L183.7,345.8 L184.1,346.4 L184.4,346.8 L184.8,347.2 L185.2,347.4 L185.5,347.5 L185.9,347.5 L186.3,347.5 L186.7,347.3 L187,347.1 L187.4,346.9 L187.8,346.6 L188.1,346.3 L188.5,346 L188.9,345.7 L189.3,345.3 L189.6,345 L190,344.7 L190.4,344.3 L190.7,344 L191.1,343.7 L191.5,343.4 L191.9,343.2 L192.2,342.9 L192.6,342.7 L193,342.5 L193.4,342.3 L193.7,342.2 L194.1,342.1 L194.5,342.1 L194.8,342.1 L195.2,342.1 L195.6,342.2 L196,342.3 L196.3,342.5 L196.7,342.7 L197.1,342.9 L197.4,343.1 L197.8,343.3 L198.2,343.6 L198.6,343.8 L198.9,344.1 L199.3,344.4 L199.7,344.6 L200,344.9 L200.4,345.1 L200.8,345.4 L201.2,345.6 L201.5,345.9 L201.9,346.1 L202.3,346.3 L202.6,346.5 L203,346.6 L203.4,346.8 L203.8,347 L204.1,347.1 L204.5,347.2 L204.9,347.3 L205.3,347.4 L205.6,347.4 L206,347.5 L206.4,347.5 L206.7,347.5 L207.1,347.5 L207.5,347.5 L207.9,347.4 L208.2,347.4 L208.6,347.3 L209,347.2 L209.3,347.2 L209.7,347.1 L210.1,347 L210.5,346.8 L210.8,346.7 L211.2,346.6 L211.6,346.5 L211.9,346.4 L212.3,346.3 L212.7,346.2 L213.1,346 L213.4,345.9 L213.8,345.8 L214.2,345.7 L214.5,345.7 L214.9,345.6 L215.3,345.5 L215.7,345.5 L216,345.5 L216.4,345.4 L216.8,345.4 L217.1,345.4 L217.5,345.4 L217.9,345.4 L218.3,345.4 L218.6,345.5 L219,345.5 L219.4,345.5 L219.8,345.6 L220.1,345.7 L220.5,345.7 L220.9,345.8 L221.2,345.9 L221.6,345.9 L222,346 L222.4,346.1 L222.7,346.2 L223.1,346.3 L223.5,346.4 L223.8,346.5 L224.2,346.6 L224.6,346.7 L225,346.8 L225.3,346.9 L225.7,347" fill="none" stroke="#3a64ad" stroke-width="0.9" stroke-linejoin="round" stroke-linecap="round" />
<rect x="168.2" y="304.1" width="60.6" height="45.6" fill="none" stroke="#858585" stroke-width="0.85" />
<line x1="166.2" y1="305.8" x2="168.2" y2="305.8" stroke="#6a6a6a" stroke-width="0.6" />
<line x1="166.2" y1="326.1" x2="168.2" y2="326.1" stroke="#6a6a6a" stroke-width="0.6" />
<line x1="166.2" y1="346.3" x2="168.2" y2="346.3" stroke="#6a6a6a" stroke-width="0.6" />
<line x1="169.7" y1="349.7" x2="169.7" y2="351.7" stroke="#6a6a6a" stroke-width="0.6" />
<line x1="205.5" y1="349.7" x2="205.5" y2="351.7" stroke="#6a6a6a" stroke-width="0.6" />
<text x="169" y="299.8" fill="#222" style="font-family:'Liberation Sans';font-size:8.2px;" textLength="52.6" lengthAdjust="spacingAndGlyphs">log<tspan font-size="6.2px" dy="2.7">10</tspan><tspan dy="-2.7">(</tspan><tspan font-style="italic">τ</tspan><tspan font-style="italic" font-size="6.2px" dy="2.7">c</tspan><tspan dy="-2.7">)=</tspan>-3.4</text>
<text x="169.9" y="359.1" text-anchor="middle" fill="#222" style="font-family:'Liberation Sans';font-size:8.25px;" textLength="4.8" lengthAdjust="spacingAndGlyphs" >0</text>
<text x="205" y="359.1" text-anchor="middle" fill="#222" style="font-family:'Liberation Sans';font-size:8.25px;" textLength="14.5" lengthAdjust="spacingAndGlyphs" >500</text>
<text x="195.2" y="366.6" text-anchor="middle" fill="#222" style="font-family:'Liberation Sans';font-size:8.2px;">t / <tspan font-style="italic">μ</tspan>s</text>
<path d="M239.4,304.9 L239.8,305.5 L240.1,306.1 L240.5,306.7 L240.9,307.4 L241.2,308.2 L241.6,309 L242,309.9 L242.3,310.9 L242.7,312 L243.1,313.3 L243.4,314.6 L243.8,315.9 L244.2,317.4 L244.5,318.8 L244.9,320.3 L245.3,321.8 L245.6,323.3 L246,324.7 L246.4,326.2 L246.7,327.7 L247.1,329.1 L247.5,330.5 L247.8,331.9 L248.2,333.3 L248.6,334.7 L248.9,336.1 L249.3,337.4 L249.7,338.7 L250,339.9 L250.4,341.1 L250.8,342.1 L251.1,343.1 L251.5,344 L251.9,344.8 L252.2,345.4 L252.6,346 L253,346.5 L253.4,346.9 L253.7,347.1 L254.1,347.3 L254.5,347.5 L254.8,347.5 L255.2,347.4 L255.6,347.3 L255.9,347.2 L256.3,346.9 L256.7,346.7 L257,346.3 L257.4,346 L257.8,345.6 L258.1,345.1 L258.5,344.7 L258.9,344.2 L259.2,343.8 L259.6,343.3 L260,342.9 L260.3,342.4 L260.7,342 L261.1,341.6 L261.4,341.3 L261.8,341 L262.2,340.8 L262.5,340.6 L262.9,340.5 L263.3,340.4 L263.6,340.5 L264,340.6 L264.4,340.7 L264.7,340.9 L265.1,341.2 L265.5,341.4 L265.8,341.7 L266.2,342.1 L266.6,342.4 L266.9,342.8 L267.3,343.2 L267.7,343.6 L268,343.9 L268.4,344.3 L268.8,344.7 L269.1,345 L269.5,345.3 L269.9,345.6 L270.2,345.9 L270.6,346.1 L271,346.3 L271.3,346.5 L271.7,346.7 L272.1,346.9 L272.4,347 L272.8,347.1 L273.2,347.2 L273.5,347.3 L273.9,347.3 L274.3,347.3 L274.6,347.3 L275,347.3 L275.4,347.2 L275.7,347.1 L276.1,347 L276.5,346.9 L276.8,346.8 L277.2,346.6 L277.6,346.5 L277.9,346.3 L278.3,346.1 L278.7,345.9 L279,345.7 L279.4,345.5 L279.8,345.3 L280.1,345.1 L280.5,344.9 L280.9,344.7 L281.3,344.5 L281.6,344.4 L282,344.2 L282.4,344 L282.7,343.9 L283.1,343.7 L283.5,343.6 L283.8,343.5 L284.2,343.4 L284.6,343.4 L284.9,343.3 L285.3,343.3 L285.7,343.3 L286,343.3 L286.4,343.3 L286.8,343.4 L287.1,343.4 L287.5,343.5 L287.9,343.6 L288.2,343.7 L288.6,343.8 L289,344 L289.3,344.1 L289.7,344.3 L290.1,344.4 L290.4,344.6 L290.8,344.8 L291.2,344.9 L291.5,345.1 L291.9,345.3 L292.3,345.5 L292.6,345.7 L293,346 L293.4,346.2 L293.7,346.4 L294.1,346.6" fill="none" stroke="#3a64ad" stroke-width="0.9" stroke-linejoin="round" stroke-linecap="round" />
<rect x="237.4" y="304.1" width="60.6" height="45.6" fill="none" stroke="#858585" stroke-width="0.85" />
<line x1="235.4" y1="305.8" x2="237.4" y2="305.8" stroke="#6a6a6a" stroke-width="0.6" />
<line x1="235.4" y1="326.1" x2="237.4" y2="326.1" stroke="#6a6a6a" stroke-width="0.6" />
<line x1="235.4" y1="346.3" x2="237.4" y2="346.3" stroke="#6a6a6a" stroke-width="0.6" />
<line x1="238.9" y1="349.7" x2="238.9" y2="351.7" stroke="#6a6a6a" stroke-width="0.6" />
<line x1="274.7" y1="349.7" x2="274.7" y2="351.7" stroke="#6a6a6a" stroke-width="0.6" />
<text x="238.2" y="299.8" fill="#222" style="font-family:'Liberation Sans';font-size:8.2px;" textLength="52.6" lengthAdjust="spacingAndGlyphs">log<tspan font-size="6.2px" dy="2.7">10</tspan><tspan dy="-2.7">(</tspan><tspan font-style="italic">τ</tspan><tspan font-style="italic" font-size="6.2px" dy="2.7">c</tspan><tspan dy="-2.7">)=</tspan>-3.0</text>
<text x="239.1" y="359.1" text-anchor="middle" fill="#222" style="font-family:'Liberation Sans';font-size:8.25px;" textLength="4.8" lengthAdjust="spacingAndGlyphs" >0</text>
<text x="274.2" y="359.1" text-anchor="middle" fill="#222" style="font-family:'Liberation Sans';font-size:8.25px;" textLength="14.5" lengthAdjust="spacingAndGlyphs" >500</text>
<text x="264.4" y="366.6" text-anchor="middle" fill="#222" style="font-family:'Liberation Sans';font-size:8.2px;">t / <tspan font-style="italic">μ</tspan>s</text>
<path d="M344.5,237.1 L344.9,242.8 L345.3,250 L345.7,259.6 L346.1,269.9 L346.5,279 L346.9,287.1 L347.3,292.5 L347.7,296.6 L348.1,300 L348.5,302.8 L348.9,305.3 L349.2,307.5 L349.6,309.5 L350,311.4 L350.4,313.1 L350.8,314.7 L351.2,316.1 L351.6,317.4 L352,318.6 L352.4,319.6 L352.8,320.6 L353.2,321.6 L353.6,322.5 L354,323.3 L354.4,324.1 L354.8,324.8 L355.2,325.5 L355.6,326.1 L356,326.6 L356.4,327 L356.8,327.4 L357.2,327.7 L357.6,328.1 L358,328.4 L358.3,328.7 L358.7,329 L359.1,329.3 L359.5,329.6 L359.9,329.8 L360.3,330 L360.7,330.3 L361.1,330.4 L361.5,330.6 L361.9,330.8 L362.3,330.9 L362.7,331.1 L363.1,331.2 L363.5,331.4 L363.9,331.5 L364.3,331.6 L364.7,331.7 L365.1,331.8 L365.5,332 L365.9,332.1 L366.3,332.2 L366.7,332.3 L367.1,332.4 L367.4,332.5 L367.8,332.5 L368.2,332.6 L368.6,332.7 L369,332.8 L369.4,332.9 L369.8,332.9 L370.2,333 L370.6,333.1 L371,333.1 L371.4,333.2 L371.8,333.2 L372.2,333.3 L372.6,333.3 L373,333.4 L373.4,333.4 L373.8,333.5 L374.2,333.5 L374.6,333.6 L375,333.6 L375.4,333.7 L375.8,333.7 L376.2,333.7 L376.5,333.8 L376.9,333.8 L377.3,333.8 L377.7,333.9 L378.1,333.9 L378.5,333.9 L378.9,334 L379.3,334 L379.7,334 L380.1,334 L380.5,334.1 L380.9,334.1 L381.3,334.1 L381.7,334.1 L382.1,334.1 L382.5,334.1 L382.9,334.1 L383.3,334.1 L383.7,334.1 L384.1,334.1 L384.5,334.1 L384.9,334.1 L385.3,334.1 L385.6,334.1 L386,334.1 L386.4,334 L386.8,334 L387.2,334 L387.6,334 L388,334 L388.4,334 L388.8,334 L389.2,334 L389.6,333.9 L390,333.9 L390.4,333.9 L390.8,333.9 L391.2,333.9 L391.6,333.9 L392,333.8 L392.4,333.8 L392.8,333.8 L393.2,333.8 L393.6,333.8 L394,333.7 L394.4,333.7 L394.7,333.7 L395.1,333.7 L395.5,333.6 L395.9,333.6 L396.3,333.5 L396.7,333.5 L397.1,333.4 L397.5,333.3 L397.9,333.3 L398.3,333.2 L398.7,333.1 L399.1,333.1 L399.5,333 L399.9,332.9 L400.3,332.9 L400.7,332.8 L401.1,332.7 L401.5,332.7 L401.9,332.6 L402.3,332.5 L402.7,332.4 L403.1,332.4 L403.5,332.3 L403.8,332.2 L404.2,332.1 L404.6,332.1 L405,332 L405.4,331.9 L405.8,331.8 L406.2,331.8 L406.6,331.7 L407,331.6 L407.4,331.5 L407.8,331.4 L408.2,331.4 L408.6,331.3 L409,331.2 L409.4,331.1 L409.8,331 L410.2,330.9 L410.6,330.9 L411,330.8 L411.4,330.7 L411.8,330.6 L412.2,330.5 L412.6,330.4 L412.9,330.4 L413.3,330.3 L413.7,330.2 L414.1,330.1 L414.5,330 L414.9,329.9 L415.3,329.9 L415.7,329.8 L416.1,329.7 L416.5,329.6 L416.9,329.5 L417.3,329.4 L417.7,329.3 L418.1,329.2 L418.5,329.2 L418.9,329.1 L419.3,329 L419.7,328.9 L420.1,328.8 L420.5,328.7 L420.9,328.6 L421.3,328.5 L421.7,328.4 L422,328.2 L422.4,328.1 L422.8,328 L423.2,327.9 L423.6,327.8 L424,327.7 L424.4,327.5 L424.8,327.4 L425.2,327.3 L425.6,327.1 L426,327 L426.4,326.9 L426.8,326.7 L427.2,326.6 L427.6,326.5 L428,326.3 L428.4,326.2 L428.8,326 L429.2,325.9 L429.6,325.7 L430,325.6 L430.4,325.4 L430.8,325.2 L431.1,325.1 L431.5,324.9 L431.9,324.7 L432.3,324.6 L432.7,324.4 L433.1,324.2 L433.5,324.1 L433.9,323.9 L434.3,323.7 L434.7,323.5 L435.1,323.3 L435.5,323.1 L435.9,323 L436.3,322.8 L436.7,322.6 L437.1,322.4 L437.5,322.1 L437.9,321.9 L438.3,321.7 L438.7,321.5 L439.1,321.3 L439.5,321 L439.9,320.8 L440.2,320.5 L440.6,320.3 L441,320 L441.4,319.8 L441.8,319.5 L442.2,319.2 L442.6,318.9 L443,318.6 L443.4,318.3 L443.8,318 L444.2,317.7 L444.6,317.3 L445,317 L445.4,316.6 L445.8,316.2 L446.2,315.9 L446.6,315.5 L447,315.1 L447.4,314.7 L447.8,314.2 L448.2,313.8 L448.6,313.4 L449,312.9 L449.3,312.4 L449.7,312 L450.1,311.4 L450.5,310.9 L450.9,310.4 L451.3,309.8 L451.7,309.2 L452.1,308.6 L452.5,308 L452.9,307.3 L453.3,306.7 L453.7,306 L454.1,305.3 L454.5,304.5 L454.9,303.7 L455.3,302.9 L455.7,302 L456.1,301.1 L456.5,300.1 L456.9,299 L457.3,298 L457.7,296.9 L458.1,295.7 L458.4,294.5 L458.8,293.3 L459.2,292.1 L459.6,290.7 L460,289.4 L460.4,287.9 L460.8,286.4 L461.2,284.8 L461.6,283.2 L462,281.5 L462.4,279.8 L462.8,278" fill="none" stroke="#3a64ad" stroke-width="1.2" stroke-linejoin="round" stroke-linecap="round" />
<rect x="339.5" y="232.6" width="129" height="106.2" fill="none" stroke="#4d4d4d" stroke-width="0.9" />
<line x1="336.5" y1="321.6" x2="339.5" y2="321.6" stroke="#6a6a6a" stroke-width="0.7" />
<text x="333.3" y="323.7" text-anchor="end" fill="#222" style="font-family:'Liberation Sans';font-size:8.03px;" textLength="9.9" lengthAdjust="spacingAndGlyphs" >50</text>
<line x1="336.5" y1="302.9" x2="339.5" y2="302.9" stroke="#6a6a6a" stroke-width="0.7" />
<text x="333.3" y="305" text-anchor="end" fill="#222" style="font-family:'Liberation Sans';font-size:8.03px;" textLength="14.9" lengthAdjust="spacingAndGlyphs" >100</text>
<line x1="336.5" y1="284.2" x2="339.5" y2="284.2" stroke="#6a6a6a" stroke-width="0.7" />
<text x="333.3" y="286.3" text-anchor="end" fill="#222" style="font-family:'Liberation Sans';font-size:8.03px;" textLength="14.9" lengthAdjust="spacingAndGlyphs" >150</text>
<line x1="336.5" y1="265.5" x2="339.5" y2="265.5" stroke="#6a6a6a" stroke-width="0.7" />
<text x="333.3" y="267.6" text-anchor="end" fill="#222" style="font-family:'Liberation Sans';font-size:8.03px;" textLength="14.9" lengthAdjust="spacingAndGlyphs" >200</text>
<line x1="336.5" y1="246.9" x2="339.5" y2="246.9" stroke="#6a6a6a" stroke-width="0.7" />
<text x="333.3" y="249" text-anchor="end" fill="#222" style="font-family:'Liberation Sans';font-size:8.03px;" textLength="14.9" lengthAdjust="spacingAndGlyphs" >250</text>
<line x1="342" y1="338.8" x2="342" y2="341.8" stroke="#6a6a6a" stroke-width="0.7" />
<text x="342" y="348.6" text-anchor="middle" fill="#222" style="font-family:'Liberation Sans';font-size:8.03px;" textLength="5" lengthAdjust="spacingAndGlyphs" >0</text>
<line x1="389.5" y1="338.8" x2="389.5" y2="341.8" stroke="#6a6a6a" stroke-width="0.7" />
<text x="389.5" y="348.6" text-anchor="middle" fill="#222" style="font-family:'Liberation Sans';font-size:8.03px;" textLength="9.9" lengthAdjust="spacingAndGlyphs" >20</text>
<line x1="437" y1="338.8" x2="437" y2="341.8" stroke="#6a6a6a" stroke-width="0.7" />
<text x="437" y="348.6" text-anchor="middle" fill="#222" style="font-family:'Liberation Sans';font-size:8.03px;" textLength="9.9" lengthAdjust="spacingAndGlyphs" >40</text>
<text x="402.6" y="360.0" text-anchor="middle" fill="#222" style="font-family:'Liberation Sans';font-size:8.2px;"><tspan font-style="italic">ν</tspan><tspan font-size="6px" dy="1.6">1</tspan><tspan dy="-1.6"> / kHz</tspan></text>
<text x="0" y="0" text-anchor="middle" fill="#222" style="font-family:'Liberation Sans';font-size:8.2px;" textLength="32" lengthAdjust="spacingAndGlyphs" transform="translate(312.6 286.5) rotate(-90)"><tspan font-style="italic">R</tspan><tspan font-size="6px" dy="1.6">1</tspan><tspan font-size="6px" font-style="italic">ρ</tspan><tspan dy="-1.6"> / s</tspan><tspan font-size="6px" dy="-3">−1</tspan></text>
<text x="355.8" y="276.5" text-anchor="start" fill="#222" style="font-family:'Liberation Sans';font-size:8.6px;" textLength="76" lengthAdjust="spacingAndGlyphs" >(chemical exchange</text>
<text x="355.8" y="287.4" text-anchor="start" fill="#222" style="font-family:'Liberation Sans';font-size:8.6px;" textLength="90.3" lengthAdjust="spacingAndGlyphs" >+ reorientation motion)</text>
<rect x="506.2" y="366" width="6.2" height="3.5" fill="#2f8a2a" stroke="none" stroke-width="1" />
<rect x="519.7" y="366" width="6.2" height="3.5" fill="#2f8a2a" stroke="none" stroke-width="1" />
<rect x="533.2" y="366" width="6.2" height="3.5" fill="#2f8a2a" stroke="none" stroke-width="1" />
<rect x="546.7" y="364.9" width="6.2" height="4.6" fill="#2f8a2a" stroke="none" stroke-width="1" />
<rect x="553.5" y="360.2" width="6.2" height="9.3" fill="#2f8a2a" stroke="none" stroke-width="1" />
<rect x="560.2" y="353.9" width="6.2" height="15.6" fill="#2f8a2a" stroke="none" stroke-width="1" />
<rect x="567" y="356" width="6.2" height="13.5" fill="#2f8a2a" stroke="none" stroke-width="1" />
<rect x="573.7" y="338.1" width="6.2" height="31.4" fill="#2f8a2a" stroke="none" stroke-width="1" />
<rect x="580.5" y="340" width="6.2" height="29.5" fill="#2f8a2a" stroke="none" stroke-width="1" />
<rect x="587.2" y="352.8" width="6.2" height="16.7" fill="#2f8a2a" stroke="none" stroke-width="1" />
<rect x="594" y="349.7" width="6.2" height="19.8" fill="#2f8a2a" stroke="none" stroke-width="1" />
<rect x="600.7" y="330.4" width="6.2" height="39.1" fill="#2f8a2a" stroke="none" stroke-width="1" />
<rect x="607.5" y="304.4" width="6.2" height="65.1" fill="#2f8a2a" stroke="none" stroke-width="1" />
<rect x="614.2" y="281.3" width="6.2" height="88.2" fill="#2f8a2a" stroke="none" stroke-width="1" />
<rect x="621" y="233.8" width="6.2" height="135.7" fill="#2f8a2a" stroke="none" stroke-width="1" />
<rect x="627.7" y="267.5" width="6.2" height="102" fill="#2f8a2a" stroke="none" stroke-width="1" />
<rect x="634.5" y="296.7" width="6.2" height="72.8" fill="#2f8a2a" stroke="none" stroke-width="1" />
<rect x="641.2" y="314.5" width="6.2" height="55" fill="#2f8a2a" stroke="none" stroke-width="1" />
<rect x="648" y="317.2" width="6.2" height="52.3" fill="#2f8a2a" stroke="none" stroke-width="1" />
<rect x="654.7" y="319.7" width="6.2" height="49.8" fill="#2f8a2a" stroke="none" stroke-width="1" />
<rect x="661.5" y="316" width="6.2" height="53.5" fill="#2f8a2a" stroke="none" stroke-width="1" />
<rect x="668.2" y="368.6" width="6.2" height="0.9" fill="#2f8a2a" stroke="none" stroke-width="1" />
<rect x="498.4" y="227.4" width="185.4" height="142.1" fill="none" stroke="#4d4d4d" stroke-width="0.9" />
<line x1="495.4" y1="369.5" x2="498.4" y2="369.5" stroke="#6a6a6a" stroke-width="0.7" />
<line x1="495.4" y1="334.2" x2="498.4" y2="334.2" stroke="#6a6a6a" stroke-width="0.7" />
<line x1="495.4" y1="298.9" x2="498.4" y2="298.9" stroke="#6a6a6a" stroke-width="0.7" />
<line x1="495.4" y1="263.6" x2="498.4" y2="263.6" stroke="#6a6a6a" stroke-width="0.7" />
<line x1="495.4" y1="228.3" x2="498.4" y2="228.3" stroke="#6a6a6a" stroke-width="0.7" />
<line x1="509.9" y1="369.5" x2="509.9" y2="372" stroke="#6a6a6a" stroke-width="0.7" />
<text x="512.1" y="380.6" text-anchor="middle" fill="#222" style="font-family:'Liberation Sans';font-size:8.3px;" textLength="18.7" lengthAdjust="spacingAndGlyphs" >0.01</text>
<line x1="543.7" y1="369.5" x2="543.7" y2="372" stroke="#6a6a6a" stroke-width="0.7" />
<text x="545.9" y="380.6" text-anchor="middle" fill="#222" style="font-family:'Liberation Sans';font-size:8.3px;" textLength="18.7" lengthAdjust="spacingAndGlyphs" >0.19</text>
<line x1="577.5" y1="369.5" x2="577.5" y2="372" stroke="#6a6a6a" stroke-width="0.7" />
<text x="580.1" y="380.6" text-anchor="middle" fill="#222" style="font-family:'Liberation Sans';font-size:8.3px;" textLength="18.7" lengthAdjust="spacingAndGlyphs" >3.26</text>
<line x1="611.3" y1="369.5" x2="611.3" y2="372" stroke="#6a6a6a" stroke-width="0.7" />
<text x="612" y="380.6" text-anchor="middle" fill="#222" style="font-family:'Liberation Sans';font-size:8.3px;" textLength="24" lengthAdjust="spacingAndGlyphs" >56.30</text>
<line x1="645.1" y1="369.5" x2="645.1" y2="372" stroke="#6a6a6a" stroke-width="0.7" />
<text x="644.4" y="380.6" text-anchor="middle" fill="#222" style="font-family:'Liberation Sans';font-size:8.3px;" textLength="29.4" lengthAdjust="spacingAndGlyphs" >971.72</text>
<text x="564.7" y="394.4" fill="#222" style="font-family:'Liberation Sans';font-size:8.6px;" textLength="51.1" lengthAdjust="spacingAndGlyphs"><tspan font-style="italic">R</tspan><tspan font-size="6px" dy="1.6">1</tspan><tspan dy="-1.6"> · 10</tspan><tspan font-size="6px" dy="-3">3</tspan><tspan dy="3"> / s</tspan><tspan font-size="6px" dy="-3">−1</tspan></text>
<text x="491" y="303.8" text-anchor="middle" fill="#222" style="font-family:'Liberation Sans';font-size:8.2px;" transform="rotate(-90 491 303.8)" textLength="34.8" lengthAdjust="spacingAndGlyphs" >Intensity</text>
<text x="517.3" y="334.2" fill="#222" style="font-family:'Liberation Sans';font-size:8.6px;" textLength="72.7" lengthAdjust="spacingAndGlyphs">⟨<tspan font-style="italic">R</tspan><tspan font-size="6px" dy="1.6">1</tspan><tspan dy="-1.6">⟩</tspan><tspan font-style="italic" font-size="6.2px" dy="1.6">static</tspan><tspan dy="-1.6">: 0.66 </tspan><tspan font-style="italic">s</tspan><tspan font-size="6px" dy="-3">−1</tspan></text>
<rect x="528.9" y="238.1" width="83.4" height="55.2" fill="#fff" stroke="#777" stroke-width="0.8" />
<line x1="531.4" y1="290.3" x2="609.3" y2="290.3" stroke="#888" stroke-width="0.7" stroke-dasharray="2,1.4"/>
<path d="M535.6,240.8 L535.7,244.1 L535.8,247.2 L535.9,250 L536,252.6 L536,255 L536.1,257.2 L536.2,259.2 L536.3,261 L536.4,262.7 L536.5,264.2 L536.6,265.6 L536.7,267 L536.7,268.2 L536.8,269.3 L536.9,270.3 L537,271.2 L537.1,272.1 L537.2,272.9 L537.3,273.7 L537.4,274.4 L537.4,275 L537.5,275.6 L537.6,276.1 L537.7,276.7 L537.8,277.1 L537.9,277.6 L538,278 L538.1,278.4 L538.2,278.7 L538.2,279.1 L538.3,279.4 L538.4,279.7 L538.5,279.9 L538.6,280.2 L538.7,280.4 L538.8,280.7 L538.9,280.9 L538.9,281.1 L539,281.3 L539.1,281.5 L539.2,281.6 L539.3,281.8 L539.4,282 L539.5,282.1 L539.6,282.3 L539.6,282.4 L539.7,282.5 L539.8,282.7 L539.9,282.8 L540,282.9 L540.1,283 L540.2,283.1 L540.3,283.2 L540.4,283.3 L540.4,283.4 L540.5,283.5 L540.6,283.6 L540.7,283.7 L540.8,283.8 L540.9,283.9 L541,284 L541.1,284.1 L541.1,284.2 L541.2,284.2 L541.3,284.3 L541.4,284.4 L541.5,284.5 L541.6,284.5 L541.7,284.6 L541.8,284.7 L541.8,284.7 L541.9,284.8 L542,284.9 L542.1,284.9 L542.2,285 L542.3,285.1 L542.4,285.1 L542.5,285.2 L542.6,285.3 L542.6,285.3 L543.3,285.8 L544.1,286.2 L544.9,286.6 L545.7,287 L546.5,287.3 L547.3,287.6 L548.1,287.9 L548.9,288.1 L549.7,288.3 L550.5,288.5 L551.3,288.7 L552.1,288.8 L552.8,289 L553.6,289.1 L554.4,289.2 L555.2,289.3 L556,289.4 L556.8,289.5 L557.6,289.6 L558.4,289.6 L559.2,289.7 L560,289.8 L560.8,289.8 L561.6,289.9 L562.3,289.9 L563.1,289.9 L563.9,290 L564.7,290 L565.5,290 L566.3,290 L567.1,290.1 L567.9,290.1 L568.7,290.1 L569.5,290.1 L570.3,290.1 L571.1,290.2 L571.8,290.2 L572.6,290.2 L573.4,290.2 L574.2,290.2 L575,290.2 L575.8,290.2 L576.6,290.2 L577.4,290.2 L578.2,290.2 L579,290.2 L579.8,290.2 L580.6,290.2 L581.3,290.2 L582.1,290.2 L582.9,290.2 L583.7,290.2 L584.5,290.2 L585.3,290.3 L586.1,290.3 L586.9,290.3 L587.7,290.3 L588.5,290.3 L589.3,290.3 L590.1,290.3 L590.8,290.3 L591.6,290.3 L592.4,290.3 L593.2,290.3 L594,290.3 L594.8,290.3 L595.6,290.3 L596.4,290.3 L597.2,290.3 L598,290.3 L598.8,290.3 L599.6,290.3 L600.3,290.3 L601.1,290.3 L601.9,290.3 L602.7,290.3 L603.5,290.3 L604.3,290.3 L605.1,290.3" fill="none" stroke="#3a64ad" stroke-width="0.9" stroke-linejoin="round" stroke-linecap="round" />
<line x1="526.4" y1="240.8" x2="528.9" y2="240.8" stroke="#6a6a6a" stroke-width="0.6" />
<text x="527.3" y="243" text-anchor="end" fill="#222" style="font-family:'Liberation Sans';font-size:8.14px;" textLength="4.8" lengthAdjust="spacingAndGlyphs" >0</text>
<line x1="526.4" y1="261.2" x2="528.9" y2="261.2" stroke="#6a6a6a" stroke-width="0.6" />
<text x="527.3" y="263.4" text-anchor="end" fill="#222" style="font-family:'Liberation Sans';font-size:8.14px;" textLength="11.2" lengthAdjust="spacingAndGlyphs" >−2</text>
<line x1="526.4" y1="281.6" x2="528.9" y2="281.6" stroke="#6a6a6a" stroke-width="0.6" />
<text x="527.3" y="283.8" text-anchor="end" fill="#222" style="font-family:'Liberation Sans';font-size:8.14px;" textLength="11.2" lengthAdjust="spacingAndGlyphs" >−4</text>
<line x1="535.6" y1="293.3" x2="535.6" y2="295.8" stroke="#6a6a6a" stroke-width="0.6" />
<text x="535.6" y="301.9" text-anchor="middle" fill="#222" style="font-family:'Liberation Sans';font-size:8.14px;" textLength="4.8" lengthAdjust="spacingAndGlyphs" >0</text>
<line x1="570.4" y1="293.3" x2="570.4" y2="295.8" stroke="#6a6a6a" stroke-width="0.6" />
<text x="570.4" y="301.9" text-anchor="middle" fill="#222" style="font-family:'Liberation Sans';font-size:8.14px;" textLength="9.7" lengthAdjust="spacingAndGlyphs" >50</text>
<line x1="605.1" y1="293.3" x2="605.1" y2="295.8" stroke="#6a6a6a" stroke-width="0.6" />
<text x="605.1" y="301.9" text-anchor="middle" fill="#222" style="font-family:'Liberation Sans';font-size:8.14px;" textLength="14.5" lengthAdjust="spacingAndGlyphs" >100</text>
<text x="570" y="310.8" text-anchor="middle" fill="#222" style="font-family:'Liberation Sans';font-size:8.36px;" textLength="14.7" lengthAdjust="spacingAndGlyphs" >t / s</text>
<text x="529.4" y="237.3" text-anchor="start" fill="#222" style="font-family:'Liberation Sans';font-size:8.2px;" textLength="20.9" lengthAdjust="spacingAndGlyphs" >1e−6</text>
<text x="0" y="0" text-anchor="middle" fill="#222" style="font-family:'Liberation Sans';font-size:9.2px;" textLength="29.8" lengthAdjust="spacingAndGlyphs" transform="translate(511.2 265.3) rotate(-90)">&lt;<tspan font-size="6px" dy="-2.8">15</tspan><tspan font-style="italic" dy="2.8">N</tspan><tspan font-style="italic" font-size="6px" dy="1.6">z</tspan><tspan dy="-1.6">&gt;</tspan></text>
<path d="M53.5,457.8 L53.6,424.5 L54.1,423.3 L54.5,422.7 L55,422.7 L55.5,423 L56,423.5 L56.4,424.1 L56.9,424.7 L57.4,425.6 L57.9,426.8 L58.3,428.2 L58.8,429.5 L59.3,430.5 L59.8,431.4 L60.2,432.3 L60.7,433.1 L61.2,433.9 L61.7,434.6 L62.1,435.4 L62.6,436 L63.1,436.7 L63.6,437.3 L64,438 L64.5,438.5 L65,439.1 L65.4,439.7 L65.9,440.2 L66.4,440.8 L66.9,441.3 L67.3,441.8 L67.8,442.3 L68.3,442.8 L68.8,443.3 L69.2,443.8 L69.7,444.2 L70.2,444.7 L70.7,445.1 L71.1,445.6 L71.6,446 L72.1,446.5 L72.6,446.9 L73,447.4 L73.5,447.8 L74,448.3 L74.5,448.7 L74.9,449.2 L75.4,449.6 L75.9,450 L76.3,450.4 L76.8,450.8 L77.3,451.2 L77.8,451.5 L78.2,451.8 L78.7,452.2 L79.2,452.5 L79.7,452.8 L80.1,453.1 L80.6,453.4 L81.1,453.7 L81.6,453.9 L82,454.2 L82.5,454.4 L83,454.6 L83.5,454.8 L83.9,455 L84.4,455.2 L84.9,455.4 L85.4,455.6 L85.8,455.8 L86.3,456 L86.8,456.1 L87.3,456.2 L87.7,456.4 L88.2,456.5 L88.7,456.6 L89.1,456.7 L89.6,456.8 L90.1,456.9 L90.6,456.9 L91,457 L91.5,457.1 L92,457.1 L92.5,457.2 L92.9,457.2 L93.4,457.3 L93.9,457.3 L94.4,457.4 L94.8,457.4 L95.3,457.4 L95.8,457.5 L96.3,457.5 L96.7,457.5 L97.2,457.5 L97.7,457.6 L98.2,457.6 L98.6,457.6 L99.1,457.6 L99.6,457.6 L100,457.6 L100.5,457.6 L101,457.7 L101.5,457.7 L101.9,457.7 L102.4,457.7 L102.9,457.7 L103.4,457.7 L103.8,457.7 L104.3,457.7 L104.8,457.7 L105.3,457.8 L105.7,457.8 L106.2,457.8 L106.7,457.8 L107.2,457.8 L107.6,457.8 L108.1,457.8 L108.6,457.8 L109.1,457.8 L109.5,457.8 L110,457.8 L110,458 L109.5,458 L109.1,458 L108.6,458.1 L108.1,458.1 L107.6,458.1 L107.2,458.2 L106.7,458.2 L106.2,458.2 L105.7,458.3 L105.3,458.3 L104.8,458.4 L104.3,458.4 L103.8,458.5 L103.4,458.5 L102.9,458.6 L102.4,458.6 L101.9,458.7 L101.5,458.7 L101,458.8 L100.5,458.8 L100,458.9 L99.6,459 L99.1,459 L98.6,459.1 L98.2,459.2 L97.7,459.2 L97.2,459.3 L96.7,459.4 L96.3,459.5 L95.8,459.6 L95.3,459.7 L94.8,459.8 L94.4,459.9 L93.9,460 L93.4,460.2 L92.9,460.3 L92.5,460.5 L92,460.6 L91.5,460.8 L91,461 L90.6,461.2 L90.1,461.4 L89.6,461.6 L89.1,461.8 L88.7,462 L88.2,462.2 L87.7,462.5 L87.3,462.7 L86.8,463 L86.3,463.3 L85.8,463.6 L85.4,463.9 L84.9,464.3 L84.4,464.6 L83.9,465 L83.5,465.3 L83,465.7 L82.5,466.1 L82,466.6 L81.6,467 L81.1,467.5 L80.6,468 L80.1,468.5 L79.7,469.1 L79.2,469.6 L78.7,470.2 L78.2,470.8 L77.8,471.4 L77.3,472 L76.8,472.6 L76.3,473.2 L75.9,473.9 L75.4,474.5 L74.9,475.2 L74.5,475.9 L74,476.7 L73.5,477.4 L73,478.2 L72.6,479 L72.1,479.8 L71.6,480.6 L71.1,481.4 L70.7,482.3 L70.2,483.2 L69.7,484.1 L69.2,485 L68.8,486 L68.3,486.9 L67.8,488 L67.3,489 L66.9,490.1 L66.4,491.2 L65.9,492.4 L65.4,493.6 L65,494.9 L64.5,496.2 L64,497.6 L63.6,498.9 L63.1,500.3 L62.6,501.7 L62.1,503.1 L61.7,504.5 L61.2,506 L60.7,507.5 L60.2,509 L59.8,510.5 L59.3,511.9 L58.8,513.2 L58.3,514.4 L57.9,515.6 L57.4,516.8 L56.9,518 L56.4,519.2 L56,520.5 L55.5,522.1 L55,524.2 L54.5,525.9 L54.1,526.4 L53.6,525.5Z" fill="#2e5a9e" stroke="none" stroke-width="0" />
<line x1="100" y1="457.8" x2="189.8" y2="457.8" stroke="#2e5a9e" stroke-width="1.2" />
<path d="M54,457.8 L54.7,458.4 L55.4,458.9 L56,459.4 L56.7,459.8 L57.4,460.3 L58.1,460.7 L58.8,461.1 L59.5,461.4 L60.1,461.8 L60.8,462.1 L61.5,462.4 L62.2,462.7 L62.9,462.9 L63.6,463.2 L64.2,463.4 L64.9,463.7 L65.6,463.9 L66.3,464.1 L67,464.2 L67.6,464.4 L68.3,464.6 L69,464.7 L69.7,464.9 L70.4,465 L71.1,465.1 L71.7,465.3 L72.4,465.4 L73.1,465.5 L73.8,465.6 L74.5,465.7 L75.2,465.8 L75.8,465.9 L76.5,465.9 L77.2,466 L77.9,466.1 L78.6,466.2 L79.2,466.2 L79.9,466.3 L80.6,466.3 L81.3,466.4 L82,466.4 L82.7,466.5 L83.3,466.5 L84,466.6 L84.7,466.6 L85.4,466.6 L86.1,466.7 L86.8,466.7 L87.4,466.7 L88.1,466.8 L88.8,466.8 L89.5,466.8 L90.2,466.8 L90.9,466.8 L91.5,466.9 L92.2,466.9 L92.9,466.9 L93.6,466.9 L94.3,466.9 L94.9,467 L95.6,467 L96.3,467 L97,467 L97.7,467 L98.4,467 L99,467 L99.7,467 L100.4,467.1 L101.1,467.1 L101.8,467.1 L102.5,467.1 L103.1,467.1 L103.8,467.1 L104.5,467.1 L105.2,467.1 L105.9,467.1 L106.5,467.1 L107.2,467.1 L107.9,467.1 L108.6,467.1 L109.3,467.1 L110,467.1 L110.6,467.1 L111.3,467.1 L112,467.1 L112.7,467.2 L113.4,467.2 L114.1,467.2 L114.7,467.2 L115.4,467.2 L116.1,467.2 L116.8,467.2 L117.5,467.2 L118.1,467.2 L118.8,467.2 L119.5,467.2 L120.2,467.2 L120.9,467.2 L121.6,467.2 L122.2,467.2 L122.9,467.2 L123.6,467.2 L124.3,467.2 L125,467.2 L125.7,467.2 L126.3,467.2 L127,467.2 L127.7,467.2 L128.4,467.2 L129.1,467.2 L129.7,467.2 L130.4,467.2 L131.1,467.2 L131.8,467.2 L132.5,467.2 L133.2,467.2 L133.8,467.2 L134.5,467.2 L135.2,467.2 L135.9,467.2 L136.6,467.2 L137.3,467.2 L137.9,467.2 L138.6,467.2 L139.3,467.2 L140,467.2 L140.7,467.2 L141.3,467.2 L142,467.2 L142.7,467.2 L143.4,467.2 L144.1,467.2 L144.8,467.2 L145.4,467.2 L146.1,467.2 L146.8,467.2 L147.5,467.2 L148.2,467.2 L148.9,467.2 L149.5,467.2 L150.2,467.2 L150.9,467.2 L151.6,467.2 L152.3,467.2 L152.9,467.2 L153.6,467.2 L154.3,467.2 L155,467.2 L155.7,467.2 L156.4,467.2 L157,467.2 L157.7,467.2 L158.4,467.2 L159.1,467.2 L159.8,467.2 L160.5,467.2 L161.1,467.2 L161.8,467.2 L162.5,467.2 L163.2,467.2 L163.9,467.2 L164.6,467.2 L165.2,467.2 L165.9,467.2 L166.6,467.2 L167.3,467.2 L168,467.2 L168.6,467.2 L169.3,467.2 L170,467.2 L170.7,467.2 L171.4,467.2 L172.1,467.2 L172.7,467.2 L173.4,467.2 L174.1,467.2 L174.8,467.2 L175.5,467.2 L176.2,467.2 L176.8,467.2 L177.5,467.2 L178.2,467.2 L178.9,467.2 L179.6,467.2 L180.2,467.2 L180.9,467.2 L181.6,467.2 L182.3,467.2 L183,467.2 L183.7,467.2 L184.3,467.2 L185,467.2 L185.7,467.2 L186.4,467.2 L187.1,467.2 L187.8,467.2 L188.4,467.2 L189.1,467.2 L189.8,467.2" fill="none" stroke="#f3652a" stroke-width="1.2" stroke-linejoin="round" stroke-linecap="round" />
<rect x="48.3" y="418.4" width="147.9" height="113" fill="none" stroke="#4d4d4d" stroke-width="0.9" />
<line x1="45.3" y1="425.3" x2="48.3" y2="425.3" stroke="#6a6a6a" stroke-width="0.7" />
<text x="41" y="427.7" text-anchor="end" fill="#222" style="font-family:'Liberation Sans';font-size:9.24px;" textLength="19.6" lengthAdjust="spacingAndGlyphs" >0.02</text>
<line x1="45.3" y1="457.8" x2="48.3" y2="457.8" stroke="#6a6a6a" stroke-width="0.7" />
<text x="41" y="460.2" text-anchor="end" fill="#222" style="font-family:'Liberation Sans';font-size:9.24px;" textLength="19.6" lengthAdjust="spacingAndGlyphs" >0.00</text>
<line x1="45.3" y1="490.3" x2="48.3" y2="490.3" stroke="#6a6a6a" stroke-width="0.7" />
<text x="41" y="492.7" text-anchor="end" fill="#222" style="font-family:'Liberation Sans';font-size:9.24px;" textLength="27" lengthAdjust="spacingAndGlyphs" >−0.02</text>
<line x1="45.3" y1="522.8" x2="48.3" y2="522.8" stroke="#6a6a6a" stroke-width="0.7" />
<text x="41" y="525.2" text-anchor="end" fill="#222" style="font-family:'Liberation Sans';font-size:9.24px;" textLength="27" lengthAdjust="spacingAndGlyphs" >−0.04</text>
<line x1="54" y1="531.4" x2="54" y2="534.4" stroke="#6a6a6a" stroke-width="0.7" />
<text x="54" y="542.7" text-anchor="middle" fill="#222" style="font-family:'Liberation Sans';font-size:9.24px;" textLength="5.6" lengthAdjust="spacingAndGlyphs" >0</text>
<line x1="88" y1="531.4" x2="88" y2="534.4" stroke="#6a6a6a" stroke-width="0.7" />
<text x="88" y="542.7" text-anchor="middle" fill="#222" style="font-family:'Liberation Sans';font-size:9.24px;" textLength="5.6" lengthAdjust="spacingAndGlyphs" >1</text>
<line x1="121.9" y1="531.4" x2="121.9" y2="534.4" stroke="#6a6a6a" stroke-width="0.7" />
<text x="121.9" y="542.7" text-anchor="middle" fill="#222" style="font-family:'Liberation Sans';font-size:9.24px;" textLength="5.6" lengthAdjust="spacingAndGlyphs" >2</text>
<line x1="155.9" y1="531.4" x2="155.9" y2="534.4" stroke="#6a6a6a" stroke-width="0.7" />
<text x="155.9" y="542.7" text-anchor="middle" fill="#222" style="font-family:'Liberation Sans';font-size:9.24px;" textLength="5.6" lengthAdjust="spacingAndGlyphs" >3</text>
<line x1="189.8" y1="531.4" x2="189.8" y2="534.4" stroke="#6a6a6a" stroke-width="0.7" />
<text x="189.8" y="542.7" text-anchor="middle" fill="#222" style="font-family:'Liberation Sans';font-size:9.24px;" textLength="5.6" lengthAdjust="spacingAndGlyphs" >4</text>
<text x="122" y="554" text-anchor="middle" fill="#222" style="font-family:'Liberation Sans';font-size:9.24px;" textLength="16.6" lengthAdjust="spacingAndGlyphs" >t / s</text>
<text x="9.2" y="476" text-anchor="middle" fill="#222" style="font-family:'Liberation Sans';font-size:9.4px;" transform="rotate(-90 9.2 476)" textLength="26.5" lengthAdjust="spacingAndGlyphs" >&lt;Op&gt;</text>
<rect x="127" y="492.8" width="64.8" height="34.2" rx="2" fill="#fff" fill-opacity="0.8" stroke="#d6d6d6" stroke-width="0.8"/>
<line x1="130.5" y1="499.9" x2="150.4" y2="499.9" stroke="#3a64ad" stroke-width="1.3" />
<line x1="130.5" y1="516.8" x2="150.4" y2="516.8" stroke="#f3652a" stroke-width="1.3" />
<text x="157.7" y="503.0" fill="#222" style="font-family:'Liberation Sans';font-size:9.2px;" textLength="20.5" lengthAdjust="spacingAndGlyphs">&lt;e<tspan font-size="6.4px" font-style="italic" dy="1.6">z</tspan><tspan dy="-1.6">&gt;</tspan></text>
<text x="157.7" y="519.9" fill="#222" style="font-family:'Liberation Sans';font-size:9.2px;" textLength="29.2" lengthAdjust="spacingAndGlyphs">&lt;<tspan font-size="6.4px" dy="-3.2">1</tspan><tspan font-style="italic" dy="3.2">H</tspan><tspan font-style="italic" font-size="6.4px" dy="1.6">z</tspan><tspan dy="-1.6">&gt;</tspan></text>
<path d="M479.2,527.5 L479.6,527.5 L480,527.5 L480.4,527.5 L480.8,527.5 L481.1,527.5 L481.5,527.5 L481.9,527.5 L482.3,527.5 L482.7,527.5 L483.1,527.5 L483.5,527.5 L483.9,527.5 L484.3,527.5 L484.7,527.5 L485,527.5 L485.4,527.5 L485.8,527.5 L486.2,527.5 L486.6,527.5 L487,527.5 L487.4,527.5 L487.8,527.5 L488.2,527.5 L488.6,527.5 L488.9,527.5 L489.3,527.5 L489.7,527.5 L490.1,527.5 L490.5,527.5 L490.9,527.5 L491.3,527.5 L491.7,527.5 L492.1,527.5 L492.5,527.5 L492.8,527.4 L493.2,527.4 L493.6,527.4 L494,527.4 L494.4,527.4 L494.8,527.4 L495.2,527.4 L495.6,527.4 L496,527.4 L496.4,527.4 L496.7,527.4 L497.1,527.4 L497.5,527.4 L497.9,527.4 L498.3,527.4 L498.7,527.4 L499.1,527.4 L499.5,527.4 L499.9,527.4 L500.3,527.4 L500.6,527.4 L501,527.4 L501.4,527.4 L501.8,527.4 L502.2,527.4 L502.6,527.4 L503,527.4 L503.4,527.4 L503.8,527.4 L504.2,527.4 L504.5,527.4 L504.9,527.3 L505.3,527.3 L505.7,527.3 L506.1,527.3 L506.5,527.3 L506.9,527.3 L507.3,527.3 L507.7,527.3 L508.1,527.3 L508.4,527.3 L508.8,527.3 L509.2,527.3 L509.6,527.3 L510,527.3 L510.4,527.3 L510.8,527.2 L511.2,527.2 L511.6,527.2 L512,527.2 L512.3,527.2 L512.7,527.2 L513.1,527.2 L513.5,527.2 L513.9,527.2 L514.3,527.2 L514.7,527.2 L515.1,527.2 L515.5,527.2 L515.9,527.2 L516.2,527.2 L516.6,527.1 L517,527.1 L517.4,527.1 L517.8,527.1 L518.2,527.1 L518.6,527.1 L519,527.1 L519.4,527.1 L519.8,527.1 L520.1,527.1 L520.5,527.1 L520.9,527.1 L521.3,527.1 L521.7,527.1 L522.1,527.1 L522.5,527.1 L522.9,527.1 L523.3,527.1 L523.7,527.1 L524,527.1 L524.4,527.1 L524.8,527.1 L525.2,527.1 L525.6,527.1 L526,527.1 L526.4,527 L526.8,527 L527.2,527 L527.6,527 L527.9,527 L528.3,527 L528.7,527 L529.1,527 L529.5,527 L529.9,527 L530.3,527 L530.7,527 L531.1,527 L531.5,527 L531.8,526.9 L532.2,526.9 L532.6,526.9 L533,526.9 L533.4,526.8 L533.8,526.8 L534.2,526.8 L534.6,526.7 L535,526.7 L535.4,526.6 L535.7,526.6 L536.1,526.5 L536.5,526.5 L536.9,526.4 L537.3,526.4 L537.7,526.3 L538.1,526.3 L538.5,526.2 L538.9,526.1 L539.3,526.1 L539.6,526 L540,525.9 L540.4,525.9 L540.8,525.8 L541.2,525.7 L541.6,525.5 L542,525.4 L542.4,525.3 L542.8,525.1 L543.2,524.9 L543.5,524.7 L543.9,524.5 L544.3,524.3 L544.7,524 L545.1,523.6 L545.5,523 L545.9,522.4 L546.3,521.8 L546.7,521.3 L547.1,520.7 L547.4,520.1 L547.8,519.6 L548.2,519.2 L548.6,518.9 L549,518.6 L549.4,518.3 L549.8,518.1 L550.2,517.9 L550.6,517.7 L551,517.5 L551.3,517.4 L551.7,517.2 L552.1,517.1 L552.5,517 L552.9,517 L553.3,516.9 L553.7,516.8 L554.1,516.7 L554.5,516.7 L554.9,516.6 L555.2,516.5 L555.6,516.5 L556,516.4 L556.4,516.4 L556.8,516.3 L557.2,516.2 L557.6,516.2 L558,516.1 L558.4,516.1 L558.8,516 L559.1,516 L559.5,515.9 L559.9,515.8 L560.3,515.7 L560.7,515.6 L561.1,515.5 L561.5,515.4 L561.9,515.2 L562.3,515.1 L562.7,514.9 L563,514.8 L563.4,514.6 L563.8,514.4 L564.2,514.2 L564.6,514.1 L565,513.9 L565.4,513.7 L565.8,513.5 L566.2,513.3 L566.6,513.1 L566.9,512.9 L567.3,512.6 L567.7,512.4 L568.1,512.1 L568.5,511.8 L568.9,511.4 L569.3,511 L569.7,510.5 L570.1,510 L570.5,509.4 L570.8,508.7 L571.2,507.9 L571.6,507.1 L572,506.1 L572.4,505.1 L572.8,504 L573.2,502.6 L573.6,500.8 L574,498.8 L574.4,496.5 L574.7,494.1 L575.1,491.5 L575.5,488.4 L575.9,484.8 L576.3,480.8 L576.7,476.5 L577.1,472 L577.5,467.1 L577.9,461.5 L578.3,455.2 L578.6,448.5 L579,442.1 L579.4,436.1 L579.8,430.3 L580.2,424.4 L580.6,419.1 L581,415.3 L581.4,413.1 L581.8,411.5 L582.2,410.9 L582.5,411.7 L582.9,413.4 L583.3,415.1 L583.7,416.6 L584.1,418.2 L584.5,419.9 L584.9,421.4 L585.3,422.2 L585.7,422.3 L586.1,421.7 L586.4,420.5 L586.8,419 L587.2,417.6 L587.6,416.1 L588,414.3 L588.4,413.4 L588.8,413.7 L589.2,414.5 L589.6,415.7 L590,419.4 L590.3,426.9 L590.7,435.2 L591.1,443.1 L591.5,451.9 L591.9,460.9 L592.3,469.2 L592.7,476.2 L593.1,483.1 L593.5,489.5 L593.9,495.3 L594.2,499.9 L594.6,503.2 L595,506 L595.4,508.5 L595.8,510.9 L596.2,513 L596.6,514.8 L597,516.4 L597.4,517.7 L597.8,518.6 L598.1,519.3 L598.5,519.7 L598.9,520.2 L599.3,520.6 L599.7,521 L600.1,521.3 L600.5,521.7 L600.9,522 L601.3,522.2 L601.7,522.5 L602,522.7 L602.4,523 L602.8,523.2 L603.2,523.3 L603.6,523.5 L604,523.6 L604.4,523.8 L604.8,523.9 L605.2,524 L605.6,524.1 L605.9,524.3 L606.3,524.4 L606.7,524.5 L607.1,524.6 L607.5,524.7 L607.9,524.8 L608.3,524.8 L608.7,524.9 L609.1,525 L609.5,525.1 L609.8,525.2 L610.2,525.3 L610.6,525.3 L611,525.4 L611.4,525.5 L611.8,525.6 L612.2,525.6 L612.6,525.7 L613,525.7 L613.4,525.8 L613.7,525.9 L614.1,525.9 L614.5,526 L614.9,526 L615.3,526.1 L615.7,526.1 L616.1,526.2 L616.5,526.2 L616.9,526.2 L617.3,526.3 L617.6,526.3 L618,526.4 L618.4,526.4 L618.8,526.4 L619.2,526.4 L619.6,526.5 L620,526.5 L620.4,526.5 L620.8,526.5 L621.2,526.6 L621.5,526.6 L621.9,526.6 L622.3,526.6 L622.7,526.7 L623.1,526.7 L623.5,526.7 L623.9,526.7 L624.3,526.7 L624.7,526.7 L625.1,526.8 L625.4,526.8 L625.8,526.8 L626.2,526.8 L626.6,526.8 L627,526.9 L627.4,526.9 L627.8,526.9 L628.2,526.9 L628.6,526.9 L629,526.9 L629.3,526.9 L629.7,527 L630.1,527 L630.5,527 L630.9,527 L631.3,527 L631.7,527 L632.1,527 L632.5,527 L632.9,527 L633.2,527.1 L633.6,527.1 L634,527.1 L634.4,527.1 L634.8,527.1 L635.2,527.1 L635.6,527.1 L636,527.1 L636.4,527.1 L636.8,527.1 L637.1,527.2 L637.5,527.2 L637.9,527.2 L638.3,527.2 L638.7,527.2 L639.1,527.2 L639.5,527.2 L639.9,527.2 L640.3,527.2 L640.7,527.2 L641,527.2 L641.4,527.2 L641.8,527.2 L642.2,527.2 L642.6,527.2 L643,527.2 L643.4,527.2 L643.8,527.3 L644.2,527.3 L644.6,527.3 L644.9,527.3 L645.3,527.3 L645.7,527.3 L646.1,527.3 L646.5,527.3 L646.9,527.3 L647.3,527.3 L647.7,527.3 L648.1,527.3 L648.5,527.3 L648.8,527.3 L649.2,527.3 L649.6,527.3 L650,527.3 L650.4,527.3 L650.8,527.3 L651.2,527.4 L651.6,527.4 L652,527.4 L652.4,527.4 L652.7,527.4 L653.1,527.4 L653.5,527.4 L653.9,527.4 L654.3,527.4 L654.7,527.4 L655.1,527.4 L655.5,527.4 L655.9,527.4 L656.3,527.4 L656.6,527.4 L657,527.4 L657.4,527.4 L657.8,527.4 L658.2,527.4 L658.6,527.4 L659,527.4 L659.4,527.4 L659.8,527.4 L660.2,527.4 L660.5,527.4 L660.9,527.4 L661.3,527.5 L661.7,527.5 L662.1,527.5 L662.5,527.5 L662.9,527.5 L663.3,527.5 L663.7,527.5 L664.1,527.5 L664.4,527.5 L664.8,527.5 L665.2,527.5 L665.6,527.5 L666,527.5 L666.4,527.5 L666.8,527.5 L667.2,527.5 L667.6,527.5 L668,527.5 L668.3,527.5 L668.7,527.5 L669.1,527.5 L669.5,527.5 L669.9,527.5 L670.3,527.5 L670.7,527.5 L671.1,527.5 L671.5,527.5 L671.9,527.5 L672.2,527.5 L672.6,527.5 L673,527.5 L673.4,527.5 L673.8,527.5" fill="none" stroke="#a3262a" stroke-width="1.1" stroke-linejoin="round" stroke-linecap="round" />
<rect x="479" y="405.3" width="195.2" height="127.7" fill="none" stroke="#4d4d4d" stroke-width="0.9" />
<line x1="476" y1="527.5" x2="479" y2="527.5" stroke="#6a6a6a" stroke-width="0.7" />
<line x1="476" y1="497.6" x2="479" y2="497.6" stroke="#6a6a6a" stroke-width="0.7" />
<line x1="476" y1="467.4" x2="479" y2="467.4" stroke="#6a6a6a" stroke-width="0.7" />
<line x1="476" y1="437.5" x2="479" y2="437.5" stroke="#6a6a6a" stroke-width="0.7" />
<line x1="476" y1="407.6" x2="479" y2="407.6" stroke="#6a6a6a" stroke-width="0.7" />
<line x1="479.2" y1="533" x2="479.2" y2="536" stroke="#6a6a6a" stroke-width="0.7" />
<text x="479.2" y="546" text-anchor="middle" fill="#222" style="font-family:'Liberation Sans';font-size:8.36px;" textLength="12.6" lengthAdjust="spacingAndGlyphs" >1.0</text>
<line x1="544" y1="533" x2="544" y2="536" stroke="#6a6a6a" stroke-width="0.7" />
<text x="544" y="546" text-anchor="middle" fill="#222" style="font-family:'Liberation Sans';font-size:8.36px;" textLength="12.6" lengthAdjust="spacingAndGlyphs" >0.5</text>
<line x1="608.8" y1="533" x2="608.8" y2="536" stroke="#6a6a6a" stroke-width="0.7" />
<text x="608.8" y="546" text-anchor="middle" fill="#222" style="font-family:'Liberation Sans';font-size:8.36px;" textLength="5" lengthAdjust="spacingAndGlyphs" >0</text>
<line x1="673.6" y1="533" x2="673.6" y2="536" stroke="#6a6a6a" stroke-width="0.7" />
<text x="673.6" y="546" text-anchor="middle" fill="#222" style="font-family:'Liberation Sans';font-size:8.36px;" textLength="19.2" lengthAdjust="spacingAndGlyphs" >−0.5</text>
<text x="584.2" y="554.6" text-anchor="middle" fill="#222" style="font-family:'Liberation Sans';font-size:8.2px;"><tspan font-style="italic">ν</tspan> / kHz</text>
<text x="469.8" y="464" text-anchor="middle" fill="#222" style="font-family:'Liberation Sans';font-size:8.2px;" transform="rotate(-90 469.8 464)" textLength="34.8" lengthAdjust="spacingAndGlyphs" >Intensity</text>
<text x="-0.3" y="9.8" text-anchor="start" fill="#4e4e4e" style="font-family:'Liberation Sans';font-size:12.2px;font-weight:bold;stroke:#4e4e4e;stroke-width:0.3px;" textLength="87.3" lengthAdjust="spacingAndGlyphs" >Solution-state</text>
<text x="-0.3" y="204.8" text-anchor="start" fill="#4e4e4e" style="font-family:'Liberation Sans';font-size:12.2px;font-weight:bold;stroke:#4e4e4e;stroke-width:0.3px;" textLength="66.1" lengthAdjust="spacingAndGlyphs" >Solid-state</text>
<text x="0.9" y="383.3" text-anchor="start" fill="#4e4e4e" style="font-family:'Liberation Sans';font-size:12.2px;font-weight:bold;stroke:#4e4e4e;stroke-width:0.3px;" textLength="128" lengthAdjust="spacingAndGlyphs" >Paramagnetic effects</text>
<text x="8.2" y="23.5" text-anchor="start" fill="#111" style="font-family:'Liberation Sans';font-size:10.5px;font-weight:bold;stroke:#111;stroke-width:0.3px;" >A</text>
<text x="248" y="23.3" text-anchor="start" fill="#111" style="font-family:'Liberation Sans';font-size:10.5px;font-weight:bold;stroke:#111;stroke-width:0.3px;" >B</text>
<text x="461.7" y="24.1" text-anchor="start" fill="#111" style="font-family:'Liberation Sans';font-size:10.5px;font-weight:bold;stroke:#111;stroke-width:0.3px;" >C</text>
<text x="8.1" y="219.4" text-anchor="start" fill="#111" style="font-family:'Liberation Sans';font-size:10.5px;font-weight:bold;stroke:#111;stroke-width:0.3px;" >D</text>
<text x="316" y="219.9" text-anchor="start" fill="#111" style="font-family:'Liberation Sans';font-size:10.5px;font-weight:bold;stroke:#111;stroke-width:0.3px;" >E</text>
<text x="484.5" y="219.5" text-anchor="start" fill="#111" style="font-family:'Liberation Sans';font-size:10.5px;font-weight:bold;stroke:#111;stroke-width:0.3px;" >F</text>
<text x="20.7" y="395.9" text-anchor="start" fill="#111" style="font-family:'Liberation Sans';font-size:10.5px;font-weight:bold;stroke:#111;stroke-width:0.3px;" >G</text>
<text x="215.5" y="395.8" text-anchor="start" fill="#111" style="font-family:'Liberation Sans';font-size:10.5px;font-weight:bold;stroke:#111;stroke-width:0.3px;" >H</text>
<text x="460.4" y="395.6" text-anchor="start" fill="#111" style="font-family:'Liberation Sans';font-size:10.5px;font-weight:bold;stroke:#111;stroke-width:0.3px;" >I</text>
<text x="22.9" y="23.8" text-anchor="start" fill="#111" style="font-family:'Liberation Sans';font-size:9.6px;font-weight:bold;stroke:#111;stroke-width:0.3px;" textLength="112.1" lengthAdjust="spacingAndGlyphs" >Exchange spectroscopy</text>
<text x="261.8" y="23.6" text-anchor="start" fill="#111" style="font-family:'Liberation Sans';font-size:9.6px;font-weight:bold;stroke:#111;stroke-width:0.3px;" textLength="186.9" lengthAdjust="spacingAndGlyphs" >Chemical-exchange saturation transfer</text>
<text x="231.9" y="396.1" text-anchor="start" fill="#111" style="font-family:'Liberation Sans';font-size:9.6px;font-weight:bold;stroke:#111;stroke-width:0.3px;" textLength="208.1" lengthAdjust="spacingAndGlyphs" >Solution-state PCS orientation dependence</text>
<text x="39.6" y="395.8" text-anchor="start" fill="#111" style="font-family:'Liberation Sans';font-size:9.6px;font-weight:bold;stroke:#111;stroke-width:0.3px;" textLength="85" lengthAdjust="spacingAndGlyphs" >Overhauser Effect</text>
<text x="26.7" y="219.7" text-anchor="start" fill="#111" style="font-family:'Liberation Sans';font-size:9.6px;font-weight:bold;stroke:#111;stroke-width:0.3px;" textLength="32.8" lengthAdjust="spacingAndGlyphs" >REDOR</text>
<text x="476" y="395.9" text-anchor="start" fill="#111" style="font-family:'Liberation Sans';font-size:9.6px;font-weight:bold;stroke:#111;stroke-width:0.3px;" textLength="73.8" lengthAdjust="spacingAndGlyphs" >PCS under MAS</text>
<text x="476.8" y="24" fill="#111" style="font-family:'Liberation Sans';font-size:9.6px;font-weight:bold;stroke:#111;stroke-width:0.3px;" textLength="142.7" lengthAdjust="spacingAndGlyphs">T<tspan dy="3.2" font-size="6.5px">1</tspan><tspan dy="-3.2"> and hetNOE from tumbling</tspan></text>
<text x="332.2" y="219.9" fill="#111" style="font-family:'Liberation Sans';font-size:9.6px;font-weight:bold;stroke:#111;stroke-width:0.3px;" textLength="103.5" lengthAdjust="spacingAndGlyphs">R<tspan dy="3.0" font-size="6.5px">1ρ</tspan><tspan dy="-3.0"> vs. field strength</tspan></text>
<text x="498" y="219.5" fill="#111" style="font-family:'Liberation Sans';font-size:9.6px;font-weight:bold;stroke:#111;stroke-width:0.3px;" textLength="136.1" lengthAdjust="spacingAndGlyphs">Static T<tspan dy="3.0" font-size="6.5px">1</tspan><tspan dy="-3.0"> with rate histogram</tspan></text></svg></body></html>
